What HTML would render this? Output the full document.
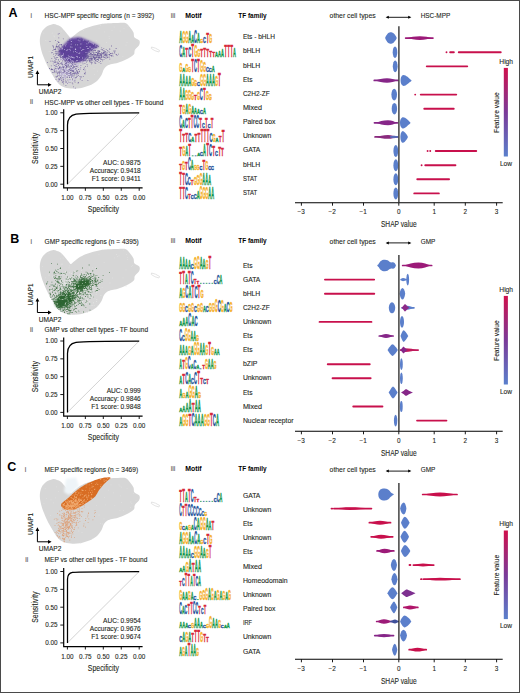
<!DOCTYPE html>
<html><head><meta charset="utf-8"><style>
html,body{margin:0;padding:0;background:#fff;}
#fig{position:relative;width:520px;height:693px;overflow:hidden;box-sizing:border-box;border:1px solid #4a4a4a;background:#fff;}
#fig svg{position:absolute;left:-1px;top:-1px;}
</style></head><body><div id="fig">
<svg width="520" height="693" viewBox="0 0 520 693" font-family="Liberation Sans, sans-serif">
<path d="M52.5,24.2C54.3,23.8 55.7,24.5 57.0,24.9C58.3,25.3 59.3,25.5 60.5,26.4C61.7,27.3 63.1,29.0 64.4,30.5C65.7,32.0 67.2,34.0 68.3,35.3C69.4,36.5 69.8,38.0 70.8,38.0C71.8,38.0 72.7,36.6 74.0,35.6C75.3,34.6 76.9,33.0 78.8,31.8C80.7,30.6 83.2,29.3 85.6,28.3C88.0,27.3 90.9,26.5 93.3,25.8C95.7,25.1 98.0,24.7 100.0,24.3C102.0,23.9 102.0,23.6 105.0,23.4C108.0,23.2 114.5,22.9 118.0,22.9C121.5,22.9 123.9,22.4 126.0,23.3C128.1,24.2 129.2,26.5 130.5,28.0C131.8,29.5 132.8,30.9 133.5,32.5C134.2,34.1 133.5,36.2 134.5,37.5C135.5,38.8 138.5,39.2 139.3,40.5C140.1,41.8 139.9,43.4 139.2,45.0C138.4,46.6 135.7,48.4 134.8,50.0C133.9,51.6 135.2,53.0 133.8,54.5C132.4,56.0 129.1,57.9 126.5,59.3C123.9,60.7 120.4,61.9 118.0,62.7C115.6,63.5 113.8,63.5 112.0,64.0C110.2,64.5 108.8,64.7 107.5,65.5C106.2,66.3 105.0,67.4 104.0,69.0C103.0,70.6 102.7,73.0 101.5,75.0C100.3,77.0 99.0,79.2 97.0,81.0C95.0,82.8 92.0,84.4 89.2,85.6C86.4,86.8 83.1,87.8 80.0,88.3C76.9,88.8 73.6,88.8 70.8,88.6C68.0,88.3 65.2,87.8 63.0,86.8C60.8,85.8 59.0,84.3 57.3,82.3C55.6,80.3 54.1,77.5 52.6,75.0C51.1,72.5 49.6,70.2 48.2,67.5C46.8,64.8 45.3,61.2 44.2,58.5C43.1,55.8 42.2,53.9 41.5,51.0C40.8,48.1 39.8,44.1 39.8,41.0C39.8,37.9 40.5,34.8 41.5,32.5C42.5,30.2 44.2,28.4 46.0,27.0C47.8,25.6 50.7,24.6 52.5,24.2Z" fill="#d6d6d6"/>
<path d="M151.5,47 l4,1.2 l4,2.2 l-0.6,1.6 l-4,-1.3 l-3.6,-2.2z" fill="none" stroke="#dcdcdc" stroke-width="0.8"/>
<path d="M117.0 54.5h0.8v0.8h-0.8zM63.4 56.4h0.8v0.8h-0.8zM96.1 40.2h0.8v0.8h-0.8zM66.5 48.1h0.8v0.8h-0.8zM123.6 28.3h0.8v0.8h-0.8zM92.7 41.4h0.8v0.8h-0.8zM52.0 51.2h0.8v0.8h-0.8zM53.9 36.4h0.8v0.8h-0.8zM56.9 65.2h0.8v0.8h-0.8zM78.0 59.4h0.8v0.8h-0.8zM100.1 25.0h0.8v0.8h-0.8zM94.1 74.3h0.8v0.8h-0.8zM53.7 35.6h0.8v0.8h-0.8zM125.6 44.8h0.8v0.8h-0.8zM119.8 30.8h0.8v0.8h-0.8zM93.3 57.6h0.8v0.8h-0.8zM111.6 30.3h0.8v0.8h-0.8zM108.8 36.3h0.8v0.8h-0.8zM93.6 68.2h0.8v0.8h-0.8zM113.9 54.8h0.8v0.8h-0.8zM109.0 60.8h0.8v0.8h-0.8zM134.4 50.5h0.8v0.8h-0.8zM45.3 40.2h0.8v0.8h-0.8zM43.4 32.8h0.8v0.8h-0.8zM65.5 83.9h0.8v0.8h-0.8zM97.1 70.8h0.8v0.8h-0.8zM126.6 41.9h0.8v0.8h-0.8zM127.5 26.0h0.8v0.8h-0.8zM83.2 30.3h0.8v0.8h-0.8zM76.9 64.3h0.8v0.8h-0.8zM48.8 51.1h0.8v0.8h-0.8zM89.6 55.1h0.8v0.8h-0.8zM106.1 42.0h0.8v0.8h-0.8zM74.8 65.0h0.8v0.8h-0.8zM83.8 68.7h0.8v0.8h-0.8zM64.0 49.6h0.8v0.8h-0.8zM122.4 56.2h0.8v0.8h-0.8zM138.7 40.8h0.8v0.8h-0.8zM94.2 57.8h0.8v0.8h-0.8zM77.5 65.0h0.8v0.8h-0.8zM110.3 49.9h0.8v0.8h-0.8zM88.6 44.0h0.8v0.8h-0.8zM98.7 28.3h0.8v0.8h-0.8zM74.5 55.3h0.8v0.8h-0.8zM119.3 48.6h0.8v0.8h-0.8zM89.5 45.0h0.8v0.8h-0.8zM75.6 51.6h0.8v0.8h-0.8zM51.9 32.8h0.8v0.8h-0.8zM108.9 37.9h0.8v0.8h-0.8zM113.8 26.8h0.8v0.8h-0.8zM57.7 58.0h0.8v0.8h-0.8zM87.1 69.5h0.8v0.8h-0.8zM88.0 79.0h0.8v0.8h-0.8zM61.2 68.7h0.8v0.8h-0.8zM60.8 30.7h0.8v0.8h-0.8zM51.0 53.1h0.8v0.8h-0.8zM104.3 31.5h0.8v0.8h-0.8zM46.7 40.5h0.8v0.8h-0.8zM72.5 74.4h0.8v0.8h-0.8zM74.7 51.5h0.8v0.8h-0.8z" fill="#e0e0e0"/>
<defs><filter id="blA" x="-20%" y="-20%" width="140%" height="140%"><feGaussianBlur stdDeviation="0.9"/></filter><filter id="blAs" x="-5%" y="-5%" width="110%" height="110%"><feGaussianBlur stdDeviation="0.28"/></filter></defs>
<path d="M69.2,39.4C70.0,38.8 70.9,38.5 72.0,38.3C73.1,38.1 78.4,37.2 80.0,37.4C81.6,37.6 86.1,39.6 88.0,40.5C89.9,41.4 98.7,45.1 98.8,46.2C98.9,47.3 90.7,50.2 89.4,51.5C88.1,52.8 86.5,58.5 85.4,59.6C84.3,60.7 80.2,62.0 78.6,62.3C77.0,62.6 70.7,62.6 69.2,62.3C67.7,62.0 64.7,59.8 63.8,59.0C62.9,58.2 60.3,55.0 59.8,54.2C59.3,53.5 58.1,52.4 58.5,51.5C58.9,50.6 62.7,46.0 63.8,44.8C64.9,43.6 68.4,40.0 69.2,39.4Z" fill="#5e3e9e" fill-opacity="0.97" filter="url(#blA)"/>
<g filter="url(#blAs)"><path d="M78.3 42.9h0.8v0.8h-0.8zM91.2 42.2h0.8v0.8h-0.8zM88.3 49.8h0.8v0.8h-0.8zM77.9 43.4h0.8v0.8h-0.8zM85.6 46.6h0.8v0.8h-0.8zM86.8 51.1h0.8v0.8h-0.8zM78.3 53.1h0.8v0.8h-0.8zM71.7 56.6h0.8v0.8h-0.8zM77.4 44.4h0.8v0.8h-0.8zM77.6 60.9h0.8v0.8h-0.8zM83.4 55.2h0.8v0.8h-0.8zM71.2 42.3h0.8v0.8h-0.8zM77.2 59.7h0.8v0.8h-0.8zM88.5 51.4h0.8v0.8h-0.8zM71.6 38.5h0.8v0.8h-0.8zM78.0 43.4h0.8v0.8h-0.8zM74.9 42.7h0.8v0.8h-0.8zM71.7 59.8h0.8v0.8h-0.8zM90.2 44.3h0.8v0.8h-0.8zM71.1 48.6h0.8v0.8h-0.8zM84.7 41.1h0.8v0.8h-0.8zM83.6 57.4h0.8v0.8h-0.8zM73.3 44.2h0.8v0.8h-0.8zM67.0 44.9h0.8v0.8h-0.8zM66.8 54.1h0.8v0.8h-0.8zM68.2 50.6h0.8v0.8h-0.8zM65.5 52.4h0.8v0.8h-0.8zM73.7 49.0h0.8v0.8h-0.8zM61.0 53.8h0.8v0.8h-0.8zM72.6 46.2h0.8v0.8h-0.8zM79.5 52.7h0.8v0.8h-0.8zM66.2 43.5h0.8v0.8h-0.8zM81.5 40.5h0.8v0.8h-0.8zM80.7 42.3h0.8v0.8h-0.8zM64.4 46.0h0.8v0.8h-0.8zM64.5 47.4h0.8v0.8h-0.8zM73.1 52.6h0.8v0.8h-0.8zM77.1 56.2h0.8v0.8h-0.8zM74.6 48.9h0.8v0.8h-0.8zM68.3 57.1h0.8v0.8h-0.8zM75.2 59.0h0.8v0.8h-0.8zM74.4 55.7h0.8v0.8h-0.8zM77.0 43.1h0.8v0.8h-0.8zM79.2 49.0h0.8v0.8h-0.8zM78.5 55.6h0.8v0.8h-0.8zM65.7 48.2h0.8v0.8h-0.8zM74.1 56.9h0.8v0.8h-0.8zM79.5 52.6h0.8v0.8h-0.8zM71.0 42.6h0.8v0.8h-0.8zM94.6 47.3h0.8v0.8h-0.8zM77.6 45.2h0.8v0.8h-0.8zM74.3 50.6h0.8v0.8h-0.8zM61.6 55.0h0.8v0.8h-0.8zM80.8 57.5h0.8v0.8h-0.8zM83.7 51.9h0.8v0.8h-0.8zM68.9 56.8h0.8v0.8h-0.8zM70.8 49.5h0.8v0.8h-0.8zM91.1 49.4h0.8v0.8h-0.8zM83.4 42.8h0.8v0.8h-0.8zM67.3 51.4h0.8v0.8h-0.8zM64.5 53.4h0.8v0.8h-0.8zM76.8 46.3h0.8v0.8h-0.8zM84.0 55.3h0.8v0.8h-0.8zM74.1 44.4h0.8v0.8h-0.8zM76.4 47.8h0.8v0.8h-0.8zM95.4 45.6h0.8v0.8h-0.8zM68.7 57.8h0.8v0.8h-0.8zM63.3 48.6h0.8v0.8h-0.8zM88.8 45.4h0.8v0.8h-0.8zM90.1 47.4h0.8v0.8h-0.8zM69.9 42.9h0.8v0.8h-0.8zM77.7 60.4h0.8v0.8h-0.8zM86.0 47.2h0.8v0.8h-0.8zM71.4 53.2h0.8v0.8h-0.8zM63.4 57.5h0.8v0.8h-0.8zM92.5 46.0h0.8v0.8h-0.8zM73.7 43.3h0.8v0.8h-0.8zM85.7 44.6h0.8v0.8h-0.8zM82.8 50.6h0.8v0.8h-0.8zM70.7 42.3h0.8v0.8h-0.8zM77.6 38.3h0.8v0.8h-0.8zM70.3 46.7h0.8v0.8h-0.8zM94.1 44.0h0.8v0.8h-0.8zM66.9 48.0h0.8v0.8h-0.8zM81.5 40.5h0.8v0.8h-0.8zM74.8 58.9h0.8v0.8h-0.8zM94.3 45.4h0.8v0.8h-0.8zM73.8 51.6h0.8v0.8h-0.8zM77.4 45.1h0.8v0.8h-0.8zM83.3 48.5h0.8v0.8h-0.8zM75.3 45.9h0.8v0.8h-0.8zM67.8 56.6h0.8v0.8h-0.8zM87.4 46.8h0.8v0.8h-0.8zM70.1 56.7h0.8v0.8h-0.8zM96.2 46.9h0.8v0.8h-0.8zM65.8 47.5h0.8v0.8h-0.8zM77.6 45.4h0.8v0.8h-0.8zM80.7 41.3h0.8v0.8h-0.8zM70.3 47.3h0.8v0.8h-0.8zM65.5 58.4h0.8v0.8h-0.8zM82.2 58.0h0.8v0.8h-0.8zM67.5 41.2h0.8v0.8h-0.8zM79.8 42.5h0.8v0.8h-0.8zM81.8 50.8h0.8v0.8h-0.8zM83.5 45.3h0.8v0.8h-0.8zM83.4 50.2h0.8v0.8h-0.8zM86.9 55.0h0.8v0.8h-0.8zM74.4 46.4h0.8v0.8h-0.8zM69.9 53.6h0.8v0.8h-0.8zM67.8 47.9h0.8v0.8h-0.8zM81.4 48.9h0.8v0.8h-0.8zM84.0 44.8h0.8v0.8h-0.8zM72.7 59.9h0.8v0.8h-0.8zM94.1 45.3h0.8v0.8h-0.8zM67.7 57.7h0.8v0.8h-0.8zM93.0 48.6h0.8v0.8h-0.8zM87.4 49.2h0.8v0.8h-0.8zM85.5 55.2h0.8v0.8h-0.8zM77.9 48.4h0.8v0.8h-0.8zM67.9 46.8h0.8v0.8h-0.8zM72.3 45.4h0.8v0.8h-0.8zM84.9 58.2h0.8v0.8h-0.8zM68.5 50.4h0.8v0.8h-0.8zM84.3 46.3h0.8v0.8h-0.8zM91.8 44.6h0.8v0.8h-0.8zM75.9 47.1h0.8v0.8h-0.8zM77.9 61.5h0.8v0.8h-0.8zM78.6 55.3h0.8v0.8h-0.8zM65.5 54.8h0.8v0.8h-0.8zM72.8 44.9h0.8v0.8h-0.8zM85.4 41.3h0.8v0.8h-0.8zM66.5 54.5h0.8v0.8h-0.8zM86.8 50.6h0.8v0.8h-0.8zM82.3 38.7h0.8v0.8h-0.8zM66.5 44.2h0.8v0.8h-0.8zM77.4 38.2h0.8v0.8h-0.8zM67.4 58.8h0.8v0.8h-0.8zM77.2 39.1h0.8v0.8h-0.8zM80.1 50.6h0.8v0.8h-0.8zM71.3 43.0h0.8v0.8h-0.8zM81.2 57.5h0.8v0.8h-0.8zM70.4 49.1h0.8v0.8h-0.8zM76.9 38.0h0.8v0.8h-0.8zM90.0 48.6h0.8v0.8h-0.8zM89.1 42.2h0.8v0.8h-0.8zM71.2 48.0h0.8v0.8h-0.8zM77.4 54.7h0.8v0.8h-0.8zM80.7 57.4h0.8v0.8h-0.8zM63.8 58.7h0.8v0.8h-0.8zM63.8 48.9h0.8v0.8h-0.8zM77.4 49.0h0.8v0.8h-0.8zM76.7 49.6h0.8v0.8h-0.8zM73.8 43.2h0.8v0.8h-0.8zM83.2 50.2h0.8v0.8h-0.8zM64.2 58.5h0.8v0.8h-0.8zM88.7 43.4h0.8v0.8h-0.8zM61.5 50.4h0.8v0.8h-0.8zM75.9 45.1h0.8v0.8h-0.8zM76.7 41.9h0.8v0.8h-0.8zM69.1 39.6h0.8v0.8h-0.8zM75.9 57.0h0.8v0.8h-0.8zM86.1 52.4h0.8v0.8h-0.8zM65.3 48.2h0.8v0.8h-0.8zM73.4 54.7h0.8v0.8h-0.8zM75.0 52.1h0.8v0.8h-0.8zM73.3 42.6h0.8v0.8h-0.8zM76.1 43.5h0.8v0.8h-0.8zM64.4 54.1h0.8v0.8h-0.8zM73.4 60.2h0.8v0.8h-0.8zM62.8 50.7h0.8v0.8h-0.8zM64.3 54.8h0.8v0.8h-0.8zM67.6 59.9h0.8v0.8h-0.8zM77.1 47.8h0.8v0.8h-0.8zM74.3 61.9h0.8v0.8h-0.8zM69.4 58.3h0.8v0.8h-0.8zM77.0 61.0h0.8v0.8h-0.8zM67.5 53.1h0.8v0.8h-0.8zM73.2 58.4h0.8v0.8h-0.8zM77.3 55.7h0.8v0.8h-0.8zM87.8 41.8h0.8v0.8h-0.8zM88.2 43.5h0.8v0.8h-0.8zM76.9 41.1h0.8v0.8h-0.8zM85.7 46.9h0.8v0.8h-0.8zM66.7 43.9h0.8v0.8h-0.8zM81.4 38.6h0.8v0.8h-0.8zM72.2 50.3h0.8v0.8h-0.8zM81.2 39.7h0.8v0.8h-0.8zM73.0 45.7h0.8v0.8h-0.8zM89.0 52.0h0.8v0.8h-0.8zM63.6 49.4h0.8v0.8h-0.8zM80.2 57.4h0.8v0.8h-0.8zM62.7 48.7h0.8v0.8h-0.8zM69.8 47.1h0.8v0.8h-0.8zM67.9 47.6h0.8v0.8h-0.8zM94.5 45.5h0.8v0.8h-0.8zM66.5 47.8h0.8v0.8h-0.8zM63.6 50.2h0.8v0.8h-0.8zM93.2 46.0h0.8v0.8h-0.8zM73.7 61.0h0.8v0.8h-0.8zM76.5 59.7h0.8v0.8h-0.8zM66.1 53.2h0.8v0.8h-0.8zM63.0 51.2h0.8v0.8h-0.8zM68.2 57.9h0.8v0.8h-0.8zM78.8 56.0h0.8v0.8h-0.8zM83.7 53.4h0.8v0.8h-0.8zM79.0 44.5h0.8v0.8h-0.8zM79.1 44.4h0.8v0.8h-0.8zM86.6 45.2h0.8v0.8h-0.8zM78.1 51.8h0.8v0.8h-0.8zM87.8 40.5h0.8v0.8h-0.8zM83.0 40.0h0.8v0.8h-0.8zM73.9 41.3h0.8v0.8h-0.8zM85.5 53.1h0.8v0.8h-0.8zM87.5 41.5h0.8v0.8h-0.8zM82.2 48.3h0.8v0.8h-0.8zM75.8 41.7h0.8v0.8h-0.8zM63.5 45.6h0.8v0.8h-0.8zM60.7 49.6h0.8v0.8h-0.8zM90.7 50.3h0.8v0.8h-0.8zM61.2 51.1h0.8v0.8h-0.8zM83.5 48.2h0.8v0.8h-0.8zM74.0 48.5h0.8v0.8h-0.8zM81.8 49.9h0.8v0.8h-0.8zM86.5 41.7h0.8v0.8h-0.8zM75.3 50.8h0.8v0.8h-0.8zM72.0 50.7h0.8v0.8h-0.8zM61.6 50.4h0.8v0.8h-0.8zM83.0 43.1h0.8v0.8h-0.8zM93.1 45.3h0.8v0.8h-0.8zM77.9 46.2h0.8v0.8h-0.8zM63.8 51.2h0.8v0.8h-0.8zM66.4 57.0h0.8v0.8h-0.8zM75.8 60.5h0.8v0.8h-0.8zM72.4 53.0h0.8v0.8h-0.8zM64.5 49.4h0.8v0.8h-0.8zM71.8 44.8h0.8v0.8h-0.8zM79.4 45.6h0.8v0.8h-0.8zM79.6 52.2h0.8v0.8h-0.8zM75.9 57.3h0.8v0.8h-0.8zM64.2 45.7h0.8v0.8h-0.8zM75.4 53.7h0.8v0.8h-0.8zM85.8 50.7h0.8v0.8h-0.8zM75.1 49.8h0.8v0.8h-0.8zM63.5 56.6h0.8v0.8h-0.8zM71.7 42.5h0.8v0.8h-0.8zM88.5 51.2h0.8v0.8h-0.8zM72.1 58.8h0.8v0.8h-0.8zM71.4 44.3h0.8v0.8h-0.8zM77.8 44.4h0.8v0.8h-0.8zM72.9 40.3h0.8v0.8h-0.8zM80.9 45.7h0.8v0.8h-0.8zM74.9 58.1h0.8v0.8h-0.8zM69.6 52.6h0.8v0.8h-0.8zM87.9 42.9h0.8v0.8h-0.8zM67.1 56.9h0.8v0.8h-0.8zM68.2 48.0h0.8v0.8h-0.8zM72.5 47.1h0.8v0.8h-0.8zM81.1 60.4h0.8v0.8h-0.8zM82.1 47.4h0.8v0.8h-0.8zM77.2 40.0h0.8v0.8h-0.8zM80.9 48.5h0.8v0.8h-0.8zM65.9 48.6h0.8v0.8h-0.8zM61.4 51.7h0.8v0.8h-0.8zM88.0 46.1h0.8v0.8h-0.8zM84.2 46.3h0.8v0.8h-0.8zM83.3 44.7h0.8v0.8h-0.8zM81.6 57.1h0.8v0.8h-0.8zM73.0 58.3h0.8v0.8h-0.8zM59.9 50.5h0.8v0.8h-0.8zM76.1 44.3h0.8v0.8h-0.8zM69.1 59.9h0.8v0.8h-0.8zM59.8 52.9h0.8v0.8h-0.8zM89.9 43.1h0.8v0.8h-0.8zM68.7 41.2h0.8v0.8h-0.8zM72.2 48.2h0.8v0.8h-0.8zM80.7 37.8h0.8v0.8h-0.8zM79.9 52.0h0.8v0.8h-0.8zM84.4 53.7h0.8v0.8h-0.8zM71.4 49.5h0.8v0.8h-0.8zM90.9 49.8h0.8v0.8h-0.8zM74.0 52.6h0.8v0.8h-0.8zM84.9 51.2h0.8v0.8h-0.8zM80.2 46.3h0.8v0.8h-0.8zM68.5 50.1h0.8v0.8h-0.8zM62.2 55.9h0.8v0.8h-0.8zM75.9 52.4h0.8v0.8h-0.8zM64.7 51.1h0.8v0.8h-0.8zM78.0 54.0h0.8v0.8h-0.8zM84.1 52.7h0.8v0.8h-0.8zM63.9 47.7h0.8v0.8h-0.8zM67.7 50.0h0.8v0.8h-0.8zM68.2 57.7h0.8v0.8h-0.8zM87.3 43.3h0.8v0.8h-0.8zM70.3 45.6h0.8v0.8h-0.8zM60.3 54.7h0.8v0.8h-0.8zM73.5 46.5h0.8v0.8h-0.8zM75.2 58.0h0.8v0.8h-0.8zM75.9 58.8h0.8v0.8h-0.8zM74.5 45.3h0.8v0.8h-0.8zM81.8 54.9h0.8v0.8h-0.8zM79.8 54.3h0.8v0.8h-0.8zM82.9 59.5h0.8v0.8h-0.8zM78.8 57.8h0.8v0.8h-0.8zM79.9 40.2h0.8v0.8h-0.8zM76.3 58.8h0.8v0.8h-0.8zM95.6 47.1h0.8v0.8h-0.8zM66.8 58.7h0.8v0.8h-0.8zM93.3 45.0h0.8v0.8h-0.8zM68.9 59.1h0.8v0.8h-0.8zM81.4 54.1h0.8v0.8h-0.8zM83.2 45.7h0.8v0.8h-0.8zM79.7 57.3h0.8v0.8h-0.8zM82.3 47.5h0.8v0.8h-0.8zM64.7 47.8h0.8v0.8h-0.8zM85.6 55.6h0.8v0.8h-0.8zM69.8 48.4h0.8v0.8h-0.8zM84.3 40.9h0.8v0.8h-0.8zM80.5 44.3h0.8v0.8h-0.8zM65.8 56.3h0.8v0.8h-0.8zM73.2 56.2h0.8v0.8h-0.8zM86.0 44.6h0.8v0.8h-0.8zM95.4 47.0h0.8v0.8h-0.8zM76.8 44.0h0.8v0.8h-0.8zM74.7 44.6h0.8v0.8h-0.8zM79.3 39.2h0.8v0.8h-0.8zM62.5 47.2h0.8v0.8h-0.8zM69.8 41.6h0.8v0.8h-0.8zM67.7 40.9h0.8v0.8h-0.8zM83.9 40.4h0.8v0.8h-0.8zM79.4 49.6h0.8v0.8h-0.8zM68.7 52.2h0.8v0.8h-0.8zM81.4 53.8h0.8v0.8h-0.8zM80.2 46.8h0.8v0.8h-0.8zM74.1 43.8h0.8v0.8h-0.8zM81.6 49.1h0.8v0.8h-0.8zM78.1 38.4h0.8v0.8h-0.8zM84.6 53.3h0.8v0.8h-0.8zM64.4 45.8h0.8v0.8h-0.8zM72.4 47.1h0.8v0.8h-0.8zM90.0 45.7h0.8v0.8h-0.8zM67.3 51.5h0.8v0.8h-0.8zM79.7 43.2h0.8v0.8h-0.8zM86.4 46.8h0.8v0.8h-0.8zM64.5 53.8h0.8v0.8h-0.8zM83.8 41.4h0.8v0.8h-0.8zM78.3 51.2h0.8v0.8h-0.8zM79.3 52.4h0.8v0.8h-0.8zM97.3 45.4h0.8v0.8h-0.8zM98.2 46.3h0.8v0.8h-0.8zM85.4 44.8h0.8v0.8h-0.8zM71.1 50.7h0.8v0.8h-0.8zM82.1 46.1h0.8v0.8h-0.8zM70.0 53.5h0.8v0.8h-0.8zM68.0 55.3h0.8v0.8h-0.8zM67.0 58.6h0.8v0.8h-0.8zM66.5 56.5h0.8v0.8h-0.8zM88.0 46.8h0.8v0.8h-0.8zM69.3 60.9h0.8v0.8h-0.8zM84.6 43.2h0.8v0.8h-0.8zM76.7 62.1h0.8v0.8h-0.8zM77.3 56.5h0.8v0.8h-0.8zM61.8 50.0h0.8v0.8h-0.8zM85.8 53.7h0.8v0.8h-0.8zM74.7 52.9h0.8v0.8h-0.8zM69.2 41.1h0.8v0.8h-0.8zM73.7 47.1h0.8v0.8h-0.8zM75.9 58.6h0.8v0.8h-0.8zM82.0 46.6h0.8v0.8h-0.8zM80.6 57.7h0.8v0.8h-0.8zM65.9 47.7h0.8v0.8h-0.8zM74.9 52.5h0.8v0.8h-0.8zM75.7 44.3h0.8v0.8h-0.8zM90.0 45.7h0.8v0.8h-0.8zM91.2 45.0h0.8v0.8h-0.8zM84.2 50.2h0.8v0.8h-0.8zM78.6 61.3h0.8v0.8h-0.8zM81.5 54.3h0.8v0.8h-0.8zM79.4 40.5h0.8v0.8h-0.8zM78.4 39.0h0.8v0.8h-0.8zM70.0 58.5h0.8v0.8h-0.8zM78.7 49.8h0.8v0.8h-0.8zM87.8 48.6h0.8v0.8h-0.8zM64.0 52.6h0.8v0.8h-0.8zM61.7 54.2h0.8v0.8h-0.8zM81.9 44.7h0.8v0.8h-0.8zM73.9 57.0h0.8v0.8h-0.8zM69.9 60.3h0.8v0.8h-0.8zM73.4 47.1h0.8v0.8h-0.8zM96.4 45.2h0.8v0.8h-0.8zM89.3 47.5h0.8v0.8h-0.8zM70.1 61.0h0.8v0.8h-0.8zM87.8 42.2h0.8v0.8h-0.8zM87.3 48.4h0.8v0.8h-0.8zM65.2 47.3h0.8v0.8h-0.8zM86.1 50.2h0.8v0.8h-0.8zM71.6 52.3h0.8v0.8h-0.8zM81.9 45.7h0.8v0.8h-0.8zM68.2 53.1h0.8v0.8h-0.8zM92.4 49.5h0.8v0.8h-0.8zM71.2 40.3h0.8v0.8h-0.8zM61.7 77.4h0.8v0.8h-0.8zM71.5 68.4h0.8v0.8h-0.8zM71.6 74.2h0.8v0.8h-0.8zM72.3 78.5h0.8v0.8h-0.8zM67.3 75.8h0.8v0.8h-0.8zM69.6 82.2h0.8v0.8h-0.8zM56.5 61.7h0.8v0.8h-0.8zM79.1 71.6h0.8v0.8h-0.8zM53.7 65.0h0.8v0.8h-0.8zM74.9 60.0h0.8v0.8h-0.8zM63.4 74.8h0.8v0.8h-0.8zM63.2 69.2h0.8v0.8h-0.8zM77.6 66.6h0.8v0.8h-0.8zM57.5 61.8h0.8v0.8h-0.8zM60.3 69.1h0.8v0.8h-0.8zM81.7 80.2h0.8v0.8h-0.8zM74.7 81.8h0.8v0.8h-0.8zM64.6 63.4h0.8v0.8h-0.8zM63.9 58.1h0.8v0.8h-0.8zM62.8 80.5h0.8v0.8h-0.8zM67.2 71.8h0.8v0.8h-0.8zM59.5 74.2h0.8v0.8h-0.8zM58.8 72.7h0.8v0.8h-0.8zM60.2 63.2h0.8v0.8h-0.8zM68.7 75.5h0.8v0.8h-0.8zM60.8 72.7h0.8v0.8h-0.8zM70.1 66.3h0.8v0.8h-0.8zM64.6 63.8h0.8v0.8h-0.8zM61.3 63.5h0.8v0.8h-0.8zM72.1 64.2h0.8v0.8h-0.8zM75.4 72.7h0.8v0.8h-0.8zM59.1 66.2h0.8v0.8h-0.8zM77.1 72.1h0.8v0.8h-0.8zM68.6 71.4h0.8v0.8h-0.8zM68.3 61.6h0.8v0.8h-0.8zM65.3 80.4h0.8v0.8h-0.8zM61.3 67.3h0.8v0.8h-0.8zM72.5 73.0h0.8v0.8h-0.8zM71.2 70.4h0.8v0.8h-0.8zM82.9 76.0h0.8v0.8h-0.8zM73.7 73.7h0.8v0.8h-0.8zM73.3 65.8h0.8v0.8h-0.8zM66.2 62.6h0.8v0.8h-0.8zM72.1 67.3h0.8v0.8h-0.8zM54.0 65.3h0.8v0.8h-0.8zM57.8 62.8h0.8v0.8h-0.8zM77.0 73.5h0.8v0.8h-0.8zM60.9 70.7h0.8v0.8h-0.8zM69.1 76.4h0.8v0.8h-0.8zM61.5 74.6h0.8v0.8h-0.8zM70.9 77.0h0.8v0.8h-0.8zM65.9 67.0h0.8v0.8h-0.8zM64.7 71.8h0.8v0.8h-0.8zM68.1 64.2h0.8v0.8h-0.8zM58.2 68.6h0.8v0.8h-0.8zM67.5 79.6h0.8v0.8h-0.8zM65.2 68.4h0.8v0.8h-0.8zM60.9 55.5h0.8v0.8h-0.8zM70.3 72.6h0.8v0.8h-0.8zM70.6 72.1h0.8v0.8h-0.8zM71.1 63.8h0.8v0.8h-0.8zM69.4 74.4h0.8v0.8h-0.8zM68.5 71.0h0.8v0.8h-0.8zM51.6 69.1h0.8v0.8h-0.8zM74.9 87.8h0.8v0.8h-0.8zM59.0 66.8h0.8v0.8h-0.8zM65.5 62.0h0.8v0.8h-0.8zM65.6 64.9h0.8v0.8h-0.8zM55.5 76.5h0.8v0.8h-0.8zM62.8 80.4h0.8v0.8h-0.8zM57.3 63.3h0.8v0.8h-0.8zM69.7 68.0h0.8v0.8h-0.8zM69.7 75.1h0.8v0.8h-0.8zM57.6 80.9h0.8v0.8h-0.8zM71.3 76.4h0.8v0.8h-0.8zM54.8 60.7h0.8v0.8h-0.8zM72.1 79.5h0.8v0.8h-0.8zM65.7 64.7h0.8v0.8h-0.8zM73.3 66.4h0.8v0.8h-0.8zM68.6 58.4h0.8v0.8h-0.8zM59.5 70.5h0.8v0.8h-0.8zM56.9 72.7h0.8v0.8h-0.8zM70.3 70.0h0.8v0.8h-0.8zM66.9 61.8h0.8v0.8h-0.8zM54.5 71.7h0.8v0.8h-0.8zM75.4 66.5h0.8v0.8h-0.8zM66.8 71.8h0.8v0.8h-0.8zM70.4 75.0h0.8v0.8h-0.8zM75.3 77.7h0.8v0.8h-0.8zM72.0 62.1h0.8v0.8h-0.8zM71.0 74.8h0.8v0.8h-0.8zM50.4 60.7h0.8v0.8h-0.8zM69.8 72.2h0.8v0.8h-0.8zM64.9 75.6h0.8v0.8h-0.8zM60.8 78.4h0.8v0.8h-0.8zM68.6 70.4h0.8v0.8h-0.8zM75.5 63.9h0.8v0.8h-0.8zM67.3 66.5h0.8v0.8h-0.8zM58.0 75.2h0.8v0.8h-0.8zM67.8 73.1h0.8v0.8h-0.8zM78.2 64.8h0.8v0.8h-0.8zM64.8 55.5h0.8v0.8h-0.8zM67.3 65.5h0.8v0.8h-0.8zM65.1 71.3h0.8v0.8h-0.8zM61.0 73.5h0.8v0.8h-0.8zM67.3 60.9h0.8v0.8h-0.8zM62.9 71.9h0.8v0.8h-0.8zM68.3 66.4h0.8v0.8h-0.8zM52.4 69.0h0.8v0.8h-0.8zM72.0 52.1h0.8v0.8h-0.8zM69.6 67.3h0.8v0.8h-0.8zM55.9 65.7h0.8v0.8h-0.8zM76.3 72.9h0.8v0.8h-0.8zM61.9 77.3h0.8v0.8h-0.8zM66.3 70.3h0.8v0.8h-0.8zM65.0 69.7h0.8v0.8h-0.8zM70.8 65.1h0.8v0.8h-0.8zM57.3 68.5h0.8v0.8h-0.8zM74.7 79.8h0.8v0.8h-0.8zM71.3 65.5h0.8v0.8h-0.8zM70.4 68.2h0.8v0.8h-0.8zM53.6 56.0h0.8v0.8h-0.8zM59.2 73.0h0.8v0.8h-0.8zM51.4 58.2h0.8v0.8h-0.8zM80.6 77.3h0.8v0.8h-0.8zM66.4 64.3h0.8v0.8h-0.8zM54.0 65.0h0.8v0.8h-0.8zM67.5 61.7h0.8v0.8h-0.8zM54.5 62.3h0.8v0.8h-0.8zM54.0 71.0h0.8v0.8h-0.8zM62.7 82.2h0.8v0.8h-0.8zM62.8 65.8h0.8v0.8h-0.8zM73.1 70.6h0.8v0.8h-0.8zM76.4 64.2h0.8v0.8h-0.8zM76.3 68.0h0.8v0.8h-0.8zM60.7 57.1h0.8v0.8h-0.8zM73.1 61.7h0.8v0.8h-0.8zM73.4 64.8h0.8v0.8h-0.8zM69.9 80.1h0.8v0.8h-0.8zM87.5 80.0h0.8v0.8h-0.8zM58.9 78.6h0.8v0.8h-0.8zM76.7 64.9h0.8v0.8h-0.8zM59.7 67.9h0.8v0.8h-0.8zM84.7 72.7h0.8v0.8h-0.8zM57.3 63.0h0.8v0.8h-0.8zM59.5 67.4h0.8v0.8h-0.8zM62.4 61.4h0.8v0.8h-0.8zM68.4 62.4h0.8v0.8h-0.8zM57.3 57.0h0.8v0.8h-0.8zM71.0 68.7h0.8v0.8h-0.8zM56.8 72.2h0.8v0.8h-0.8zM76.4 69.9h0.8v0.8h-0.8zM67.5 66.8h0.8v0.8h-0.8zM71.9 63.7h0.8v0.8h-0.8zM55.6 51.7h0.8v0.8h-0.8zM61.1 58.6h0.8v0.8h-0.8zM74.9 73.1h0.8v0.8h-0.8zM79.9 68.8h0.8v0.8h-0.8zM59.2 60.9h0.8v0.8h-0.8zM76.4 72.0h0.8v0.8h-0.8zM83.1 69.1h0.8v0.8h-0.8zM73.7 69.5h0.8v0.8h-0.8zM75.7 74.4h0.8v0.8h-0.8zM78.3 61.3h0.8v0.8h-0.8zM75.8 65.9h0.8v0.8h-0.8zM66.3 72.1h0.8v0.8h-0.8zM72.7 57.1h0.8v0.8h-0.8zM74.3 56.3h0.8v0.8h-0.8zM59.9 54.8h0.8v0.8h-0.8zM61.0 68.5h0.8v0.8h-0.8zM67.0 76.9h0.8v0.8h-0.8zM70.5 74.6h0.8v0.8h-0.8zM67.8 73.5h0.8v0.8h-0.8zM69.7 67.9h0.8v0.8h-0.8zM72.6 69.4h0.8v0.8h-0.8zM70.2 73.2h0.8v0.8h-0.8zM74.6 77.4h0.8v0.8h-0.8zM62.0 67.0h0.8v0.8h-0.8zM79.6 59.5h0.8v0.8h-0.8zM62.9 77.8h0.8v0.8h-0.8zM72.5 67.5h0.8v0.8h-0.8zM80.7 76.3h0.8v0.8h-0.8zM72.5 75.6h0.8v0.8h-0.8zM78.9 59.7h0.8v0.8h-0.8zM57.5 68.1h0.8v0.8h-0.8zM62.1 59.7h0.8v0.8h-0.8zM60.4 74.9h0.8v0.8h-0.8zM69.8 68.5h0.8v0.8h-0.8zM64.3 58.0h0.8v0.8h-0.8zM68.2 59.4h0.8v0.8h-0.8zM53.8 70.1h0.8v0.8h-0.8zM66.2 73.6h0.8v0.8h-0.8zM78.9 70.8h0.8v0.8h-0.8zM74.1 66.4h0.8v0.8h-0.8zM67.4 70.4h0.8v0.8h-0.8zM68.8 73.4h0.8v0.8h-0.8zM63.5 66.2h0.8v0.8h-0.8zM65.0 65.0h0.8v0.8h-0.8zM68.2 62.1h0.8v0.8h-0.8zM67.4 70.1h0.8v0.8h-0.8zM55.5 68.2h0.8v0.8h-0.8zM68.9 69.1h0.8v0.8h-0.8zM70.6 71.8h0.8v0.8h-0.8zM59.9 71.6h0.8v0.8h-0.8zM78.1 69.2h0.8v0.8h-0.8zM72.2 71.3h0.8v0.8h-0.8zM73.8 73.9h0.8v0.8h-0.8zM65.3 62.7h0.8v0.8h-0.8zM72.5 70.5h0.8v0.8h-0.8zM76.5 76.2h0.8v0.8h-0.8zM64.0 72.0h0.8v0.8h-0.8zM70.3 74.2h0.8v0.8h-0.8zM66.3 62.6h0.8v0.8h-0.8zM50.8 69.1h0.8v0.8h-0.8zM56.1 63.7h0.8v0.8h-0.8zM58.3 72.0h0.8v0.8h-0.8zM67.4 61.7h0.8v0.8h-0.8zM59.7 70.6h0.8v0.8h-0.8zM75.6 68.0h0.8v0.8h-0.8zM66.6 62.4h0.8v0.8h-0.8zM69.6 79.0h0.8v0.8h-0.8zM73.7 69.8h0.8v0.8h-0.8zM64.2 71.2h0.8v0.8h-0.8zM53.4 71.9h0.8v0.8h-0.8zM57.0 74.8h0.8v0.8h-0.8zM66.4 63.5h0.8v0.8h-0.8zM64.6 60.9h0.8v0.8h-0.8zM61.3 67.5h0.8v0.8h-0.8zM63.4 54.3h0.8v0.8h-0.8zM74.5 72.0h0.8v0.8h-0.8zM63.3 81.2h0.8v0.8h-0.8zM62.4 65.5h0.8v0.8h-0.8zM73.2 67.2h0.8v0.8h-0.8zM64.8 69.9h0.8v0.8h-0.8zM55.0 65.6h0.8v0.8h-0.8zM65.9 70.8h0.8v0.8h-0.8zM58.8 63.7h0.8v0.8h-0.8zM63.4 66.7h0.8v0.8h-0.8zM69.7 56.2h0.8v0.8h-0.8zM63.3 76.4h0.8v0.8h-0.8zM54.6 67.7h0.8v0.8h-0.8zM69.3 69.5h0.8v0.8h-0.8zM66.3 65.1h0.8v0.8h-0.8zM67.9 59.7h0.8v0.8h-0.8zM74.0 64.2h0.8v0.8h-0.8zM65.3 61.4h0.8v0.8h-0.8zM64.8 65.1h0.8v0.8h-0.8zM76.1 69.8h0.8v0.8h-0.8zM59.1 68.0h0.8v0.8h-0.8zM62.0 64.2h0.8v0.8h-0.8zM75.3 69.2h0.8v0.8h-0.8zM72.8 68.5h0.8v0.8h-0.8zM78.3 68.9h0.8v0.8h-0.8zM72.2 70.2h0.8v0.8h-0.8zM73.4 72.4h0.8v0.8h-0.8zM54.4 69.6h0.8v0.8h-0.8zM56.1 76.8h0.8v0.8h-0.8zM75.0 71.7h0.8v0.8h-0.8zM47.0 62.3h0.8v0.8h-0.8zM74.6 58.5h0.8v0.8h-0.8zM65.8 63.2h0.8v0.8h-0.8zM77.5 73.4h0.8v0.8h-0.8zM61.6 62.5h0.8v0.8h-0.8zM78.1 81.9h0.8v0.8h-0.8zM76.7 62.0h0.8v0.8h-0.8zM61.3 68.7h0.8v0.8h-0.8zM69.3 73.9h0.8v0.8h-0.8zM71.0 64.9h0.8v0.8h-0.8zM57.4 72.9h0.8v0.8h-0.8zM64.3 60.0h0.8v0.8h-0.8zM66.1 73.9h0.8v0.8h-0.8zM77.7 82.6h0.8v0.8h-0.8zM69.7 79.9h0.8v0.8h-0.8zM66.1 67.6h0.8v0.8h-0.8zM65.4 63.4h0.8v0.8h-0.8zM71.7 73.5h0.8v0.8h-0.8zM65.6 67.1h0.8v0.8h-0.8zM65.5 85.2h0.8v0.8h-0.8zM69.8 58.9h0.8v0.8h-0.8zM56.4 66.2h0.8v0.8h-0.8zM62.1 66.1h0.8v0.8h-0.8zM63.2 74.7h0.8v0.8h-0.8zM69.2 69.5h0.8v0.8h-0.8zM62.5 68.8h0.8v0.8h-0.8zM67.2 56.1h0.8v0.8h-0.8zM67.9 81.8h0.8v0.8h-0.8zM69.6 55.9h0.8v0.8h-0.8zM63.0 66.7h0.8v0.8h-0.8zM59.8 69.7h0.8v0.8h-0.8zM63.1 59.5h0.8v0.8h-0.8zM61.1 63.5h0.8v0.8h-0.8zM72.7 56.8h0.8v0.8h-0.8zM65.7 72.8h0.8v0.8h-0.8zM84.5 69.6h0.8v0.8h-0.8zM76.8 71.6h0.8v0.8h-0.8zM70.0 65.5h0.8v0.8h-0.8zM78.2 75.2h0.8v0.8h-0.8zM75.2 68.1h0.8v0.8h-0.8zM62.1 66.4h0.8v0.8h-0.8zM69.2 73.5h0.8v0.8h-0.8zM69.2 74.5h0.8v0.8h-0.8zM65.7 82.1h0.8v0.8h-0.8zM66.0 65.7h0.8v0.8h-0.8zM57.4 63.4h0.8v0.8h-0.8zM73.9 73.3h0.8v0.8h-0.8zM63.6 74.7h0.8v0.8h-0.8zM71.0 65.9h0.8v0.8h-0.8zM72.9 76.9h0.8v0.8h-0.8zM63.1 67.6h0.8v0.8h-0.8zM70.0 67.7h0.8v0.8h-0.8zM63.1 73.2h0.8v0.8h-0.8zM60.9 76.3h0.8v0.8h-0.8zM71.8 82.4h0.8v0.8h-0.8zM59.2 75.4h0.8v0.8h-0.8zM74.8 64.5h0.8v0.8h-0.8zM66.2 74.2h0.8v0.8h-0.8zM76.5 66.0h0.8v0.8h-0.8zM58.1 65.2h0.8v0.8h-0.8zM61.8 62.9h0.8v0.8h-0.8zM60.9 72.5h0.8v0.8h-0.8zM59.5 66.5h0.8v0.8h-0.8zM80.5 64.9h0.8v0.8h-0.8zM60.0 59.5h0.8v0.8h-0.8zM62.2 74.3h0.8v0.8h-0.8zM68.8 55.1h0.8v0.8h-0.8zM71.3 51.5h0.8v0.8h-0.8zM67.4 79.4h0.8v0.8h-0.8zM65.8 76.6h0.8v0.8h-0.8zM59.9 78.2h0.8v0.8h-0.8zM60.5 69.1h0.8v0.8h-0.8zM69.7 62.3h0.8v0.8h-0.8zM70.6 67.7h0.8v0.8h-0.8zM76.1 77.3h0.8v0.8h-0.8zM63.5 72.1h0.8v0.8h-0.8zM59.7 79.3h0.8v0.8h-0.8zM62.0 64.1h0.8v0.8h-0.8zM79.8 68.5h0.8v0.8h-0.8zM76.2 73.7h0.8v0.8h-0.8zM61.1 80.3h0.8v0.8h-0.8zM64.9 69.3h0.8v0.8h-0.8zM76.8 70.7h0.8v0.8h-0.8zM62.3 72.6h0.8v0.8h-0.8zM66.3 58.2h0.8v0.8h-0.8zM71.9 64.7h0.8v0.8h-0.8zM63.9 69.5h0.8v0.8h-0.8zM85.2 66.2h0.8v0.8h-0.8zM72.3 67.9h0.8v0.8h-0.8zM73.1 86.5h0.8v0.8h-0.8zM73.0 67.0h0.8v0.8h-0.8zM61.9 81.6h0.8v0.8h-0.8zM65.5 69.0h0.8v0.8h-0.8zM73.7 57.2h0.8v0.8h-0.8zM68.2 65.0h0.8v0.8h-0.8zM62.0 73.3h0.8v0.8h-0.8zM60.6 67.7h0.8v0.8h-0.8zM66.2 65.0h0.8v0.8h-0.8zM70.9 66.1h0.8v0.8h-0.8zM83.6 58.1h0.8v0.8h-0.8zM64.5 73.1h0.8v0.8h-0.8zM73.0 69.7h0.8v0.8h-0.8zM67.6 69.3h0.8v0.8h-0.8zM60.5 66.8h0.8v0.8h-0.8zM66.3 66.2h0.8v0.8h-0.8zM77.9 71.7h0.8v0.8h-0.8zM71.3 64.9h0.8v0.8h-0.8zM59.1 73.7h0.8v0.8h-0.8zM69.4 67.5h0.8v0.8h-0.8zM52.2 71.9h0.8v0.8h-0.8zM80.3 67.1h0.8v0.8h-0.8zM61.6 79.4h0.8v0.8h-0.8zM67.7 72.2h0.8v0.8h-0.8zM72.4 59.1h0.8v0.8h-0.8zM60.2 67.8h0.8v0.8h-0.8zM74.9 77.3h0.8v0.8h-0.8zM58.3 63.0h0.8v0.8h-0.8zM74.3 66.1h0.8v0.8h-0.8zM71.1 62.8h0.8v0.8h-0.8zM70.8 72.5h0.8v0.8h-0.8zM66.0 72.3h0.8v0.8h-0.8zM73.9 75.4h0.8v0.8h-0.8zM63.8 70.6h0.8v0.8h-0.8zM63.9 62.3h0.8v0.8h-0.8zM57.0 76.3h0.8v0.8h-0.8zM70.7 68.7h0.8v0.8h-0.8zM64.1 71.0h0.8v0.8h-0.8zM76.8 75.8h0.8v0.8h-0.8zM67.1 83.0h0.8v0.8h-0.8zM58.9 71.9h0.8v0.8h-0.8zM69.4 66.0h0.8v0.8h-0.8zM60.0 77.1h0.8v0.8h-0.8zM55.7 67.9h0.8v0.8h-0.8zM64.4 75.6h0.8v0.8h-0.8zM68.7 73.1h0.8v0.8h-0.8zM62.7 70.4h0.8v0.8h-0.8zM66.2 66.1h0.8v0.8h-0.8zM58.1 79.9h0.8v0.8h-0.8zM65.3 73.3h0.8v0.8h-0.8zM72.4 83.4h0.8v0.8h-0.8zM77.9 73.0h0.8v0.8h-0.8zM63.0 69.9h0.8v0.8h-0.8zM68.3 62.3h0.8v0.8h-0.8zM65.0 76.9h0.8v0.8h-0.8zM58.2 78.6h0.8v0.8h-0.8zM70.1 70.3h0.8v0.8h-0.8zM73.6 70.9h0.8v0.8h-0.8zM66.7 57.2h0.8v0.8h-0.8zM54.1 69.3h0.8v0.8h-0.8zM66.2 65.4h0.8v0.8h-0.8zM72.4 62.5h0.8v0.8h-0.8zM73.2 71.3h0.8v0.8h-0.8zM73.4 64.8h0.8v0.8h-0.8zM70.6 61.4h0.8v0.8h-0.8zM80.1 60.0h0.8v0.8h-0.8zM73.4 64.3h0.8v0.8h-0.8zM60.2 58.8h0.8v0.8h-0.8zM83.8 67.6h0.8v0.8h-0.8zM72.4 61.2h0.8v0.8h-0.8zM57.0 66.5h0.8v0.8h-0.8zM64.0 72.2h0.8v0.8h-0.8zM65.9 65.7h0.8v0.8h-0.8zM58.6 71.0h0.8v0.8h-0.8zM53.3 61.4h0.8v0.8h-0.8zM68.5 65.3h0.8v0.8h-0.8zM77.2 71.8h0.8v0.8h-0.8zM67.8 69.3h0.8v0.8h-0.8zM63.1 77.6h0.8v0.8h-0.8zM65.3 76.8h0.8v0.8h-0.8zM67.6 70.8h0.8v0.8h-0.8zM65.7 67.6h0.8v0.8h-0.8zM60.0 69.7h0.8v0.8h-0.8zM66.3 59.7h0.8v0.8h-0.8zM67.5 64.2h0.8v0.8h-0.8zM71.0 69.9h0.8v0.8h-0.8zM77.9 58.4h0.8v0.8h-0.8zM79.5 76.2h0.8v0.8h-0.8zM72.1 69.8h0.8v0.8h-0.8zM72.2 70.1h0.8v0.8h-0.8zM60.6 71.4h0.8v0.8h-0.8zM60.9 62.1h0.8v0.8h-0.8zM58.4 69.2h0.8v0.8h-0.8zM67.5 74.6h0.8v0.8h-0.8zM84.9 71.7h0.8v0.8h-0.8zM66.7 73.5h0.8v0.8h-0.8zM67.7 61.7h0.8v0.8h-0.8zM72.5 75.4h0.8v0.8h-0.8zM67.6 69.6h0.8v0.8h-0.8zM71.5 60.4h0.8v0.8h-0.8zM60.4 57.1h0.8v0.8h-0.8zM65.2 60.2h0.8v0.8h-0.8zM62.1 72.3h0.8v0.8h-0.8zM63.1 83.5h0.8v0.8h-0.8zM67.6 69.6h0.8v0.8h-0.8zM74.4 73.2h0.8v0.8h-0.8zM72.5 75.7h0.8v0.8h-0.8zM60.9 63.7h0.8v0.8h-0.8zM55.7 63.9h0.8v0.8h-0.8zM67.6 61.9h0.8v0.8h-0.8zM55.9 69.8h0.8v0.8h-0.8zM84.0 73.0h0.8v0.8h-0.8zM68.4 61.3h0.8v0.8h-0.8zM73.1 60.5h0.8v0.8h-0.8zM65.4 66.9h0.8v0.8h-0.8zM69.5 63.5h0.8v0.8h-0.8zM74.3 60.8h0.8v0.8h-0.8zM59.4 65.9h0.8v0.8h-0.8zM54.3 60.4h0.8v0.8h-0.8zM63.9 70.6h0.8v0.8h-0.8zM62.7 69.1h0.8v0.8h-0.8zM66.0 71.5h0.8v0.8h-0.8zM66.6 58.0h0.8v0.8h-0.8zM66.2 61.4h0.8v0.8h-0.8zM71.5 69.1h0.8v0.8h-0.8zM68.0 73.0h0.8v0.8h-0.8zM63.1 79.1h0.8v0.8h-0.8zM51.1 69.1h0.8v0.8h-0.8zM79.9 78.6h0.8v0.8h-0.8zM62.5 73.2h0.8v0.8h-0.8zM56.5 71.4h0.8v0.8h-0.8zM79.5 61.6h0.8v0.8h-0.8zM72.8 73.2h0.8v0.8h-0.8zM65.8 66.8h0.8v0.8h-0.8zM49.2 68.1h0.8v0.8h-0.8zM72.8 75.5h0.8v0.8h-0.8zM75.0 77.4h0.8v0.8h-0.8zM67.6 75.1h0.8v0.8h-0.8zM73.8 80.6h0.8v0.8h-0.8zM79.9 61.2h0.8v0.8h-0.8zM73.7 67.1h0.8v0.8h-0.8zM62.3 57.6h0.8v0.8h-0.8zM63.5 67.5h0.8v0.8h-0.8zM67.6 52.4h0.8v0.8h-0.8zM63.7 64.1h0.8v0.8h-0.8zM65.8 69.2h0.8v0.8h-0.8zM66.9 73.6h0.8v0.8h-0.8zM59.1 79.5h0.8v0.8h-0.8zM76.4 71.3h0.8v0.8h-0.8zM50.9 65.5h0.8v0.8h-0.8zM63.8 66.1h0.8v0.8h-0.8zM58.9 67.3h0.8v0.8h-0.8zM52.9 63.5h0.8v0.8h-0.8zM51.1 68.5h0.8v0.8h-0.8zM69.0 77.3h0.8v0.8h-0.8zM71.6 75.1h0.8v0.8h-0.8zM55.6 78.9h0.8v0.8h-0.8zM64.5 68.8h0.8v0.8h-0.8zM69.7 72.9h0.8v0.8h-0.8zM55.6 71.4h0.8v0.8h-0.8zM67.7 72.7h0.8v0.8h-0.8zM63.5 66.0h0.8v0.8h-0.8zM73.7 63.8h0.8v0.8h-0.8zM65.9 70.7h0.8v0.8h-0.8zM57.9 68.1h0.8v0.8h-0.8zM56.6 75.9h0.8v0.8h-0.8zM65.7 80.9h0.8v0.8h-0.8zM67.0 64.0h0.8v0.8h-0.8zM68.2 63.1h0.8v0.8h-0.8zM64.8 78.5h0.8v0.8h-0.8zM71.5 75.6h0.8v0.8h-0.8zM84.6 73.7h0.8v0.8h-0.8zM63.9 76.8h0.8v0.8h-0.8zM104.8 51.0h0.8v0.8h-0.8zM97.6 50.8h0.8v0.8h-0.8zM99.4 51.3h0.8v0.8h-0.8zM94.8 54.0h0.8v0.8h-0.8zM99.5 53.2h0.8v0.8h-0.8zM103.0 52.0h0.8v0.8h-0.8zM83.3 52.9h0.8v0.8h-0.8zM97.5 54.6h0.8v0.8h-0.8zM92.8 57.8h0.8v0.8h-0.8zM93.3 53.3h0.8v0.8h-0.8zM105.8 54.0h0.8v0.8h-0.8zM100.8 49.3h0.8v0.8h-0.8zM91.7 62.5h0.8v0.8h-0.8zM111.1 45.6h0.8v0.8h-0.8zM94.7 53.8h0.8v0.8h-0.8zM97.0 53.7h0.8v0.8h-0.8zM108.6 54.1h0.8v0.8h-0.8zM105.3 54.7h0.8v0.8h-0.8zM94.4 57.6h0.8v0.8h-0.8zM83.5 55.0h0.8v0.8h-0.8zM87.7 57.0h0.8v0.8h-0.8zM95.1 54.1h0.8v0.8h-0.8zM102.2 52.9h0.8v0.8h-0.8zM90.9 53.2h0.8v0.8h-0.8zM83.8 53.9h0.8v0.8h-0.8zM104.7 54.5h0.8v0.8h-0.8zM93.1 53.8h0.8v0.8h-0.8zM102.3 60.4h0.8v0.8h-0.8zM92.4 57.9h0.8v0.8h-0.8zM99.2 50.4h0.8v0.8h-0.8zM80.8 57.0h0.8v0.8h-0.8zM89.5 60.7h0.8v0.8h-0.8zM94.2 53.9h0.8v0.8h-0.8zM97.0 53.7h0.8v0.8h-0.8zM95.1 50.1h0.8v0.8h-0.8zM90.2 56.8h0.8v0.8h-0.8zM88.6 54.5h0.8v0.8h-0.8zM98.3 56.5h0.8v0.8h-0.8zM94.8 51.7h0.8v0.8h-0.8zM98.8 51.3h0.8v0.8h-0.8zM77.1 55.8h0.8v0.8h-0.8zM109.4 49.0h0.8v0.8h-0.8zM90.4 56.5h0.8v0.8h-0.8zM84.5 63.3h0.8v0.8h-0.8zM109.3 48.4h0.8v0.8h-0.8zM92.3 58.3h0.8v0.8h-0.8zM101.9 49.8h0.8v0.8h-0.8zM79.9 55.1h0.8v0.8h-0.8zM91.0 58.7h0.8v0.8h-0.8zM91.5 61.8h0.8v0.8h-0.8zM84.5 60.3h0.8v0.8h-0.8zM103.7 51.0h0.8v0.8h-0.8zM107.2 52.4h0.8v0.8h-0.8zM88.8 60.3h0.8v0.8h-0.8zM81.6 56.5h0.8v0.8h-0.8zM86.2 55.9h0.8v0.8h-0.8zM86.2 53.4h0.8v0.8h-0.8zM98.3 60.0h0.8v0.8h-0.8zM97.8 58.9h0.8v0.8h-0.8zM100.4 59.3h0.8v0.8h-0.8zM86.1 57.6h0.8v0.8h-0.8zM103.9 54.7h0.8v0.8h-0.8zM92.6 54.1h0.8v0.8h-0.8zM97.9 55.0h0.8v0.8h-0.8zM87.1 53.3h0.8v0.8h-0.8zM97.7 54.3h0.8v0.8h-0.8zM111.5 55.3h0.8v0.8h-0.8zM89.7 61.8h0.8v0.8h-0.8zM115.7 48.1h0.8v0.8h-0.8zM101.6 53.4h0.8v0.8h-0.8zM97.7 49.9h0.8v0.8h-0.8zM103.9 51.9h0.8v0.8h-0.8zM98.6 56.8h0.8v0.8h-0.8zM90.8 52.6h0.8v0.8h-0.8zM98.9 56.7h0.8v0.8h-0.8zM98.0 55.4h0.8v0.8h-0.8zM90.7 61.7h0.8v0.8h-0.8zM100.6 57.8h0.8v0.8h-0.8zM83.3 60.1h0.8v0.8h-0.8zM101.2 56.0h0.8v0.8h-0.8zM95.1 54.4h0.8v0.8h-0.8zM97.8 52.1h0.8v0.8h-0.8zM94.6 58.7h0.8v0.8h-0.8zM96.9 54.4h0.8v0.8h-0.8zM101.0 52.3h0.8v0.8h-0.8zM91.3 58.9h0.8v0.8h-0.8zM99.0 56.6h0.8v0.8h-0.8zM98.0 52.9h0.8v0.8h-0.8zM99.4 54.6h0.8v0.8h-0.8zM94.6 61.8h0.8v0.8h-0.8zM95.7 59.4h0.8v0.8h-0.8zM111.9 52.7h0.8v0.8h-0.8zM99.3 57.2h0.8v0.8h-0.8zM93.6 57.2h0.8v0.8h-0.8zM94.0 54.7h0.8v0.8h-0.8zM85.4 58.7h0.8v0.8h-0.8zM117.9 53.7h0.8v0.8h-0.8zM83.4 53.5h0.8v0.8h-0.8zM92.7 56.6h0.8v0.8h-0.8zM91.9 59.3h0.8v0.8h-0.8zM95.8 54.7h0.8v0.8h-0.8zM90.2 58.3h0.8v0.8h-0.8zM97.0 53.7h0.8v0.8h-0.8zM110.7 55.3h0.8v0.8h-0.8zM100.5 53.3h0.8v0.8h-0.8zM87.0 65.7h0.8v0.8h-0.8zM108.9 51.8h0.8v0.8h-0.8zM93.1 56.1h0.8v0.8h-0.8zM94.5 59.2h0.8v0.8h-0.8zM105.6 52.2h0.8v0.8h-0.8zM97.1 52.5h0.8v0.8h-0.8zM106.0 53.5h0.8v0.8h-0.8zM93.0 57.3h0.8v0.8h-0.8zM97.5 51.2h0.8v0.8h-0.8zM100.9 54.7h0.8v0.8h-0.8zM88.6 55.5h0.8v0.8h-0.8zM96.1 57.5h0.8v0.8h-0.8zM104.6 55.1h0.8v0.8h-0.8zM95.5 57.0h0.8v0.8h-0.8zM100.7 53.4h0.8v0.8h-0.8zM96.3 54.6h0.8v0.8h-0.8zM99.6 58.1h0.8v0.8h-0.8zM88.9 58.5h0.8v0.8h-0.8zM96.2 52.0h0.8v0.8h-0.8zM98.7 53.4h0.8v0.8h-0.8zM102.5 52.4h0.8v0.8h-0.8zM103.6 58.9h0.8v0.8h-0.8zM88.6 56.5h0.8v0.8h-0.8zM98.7 51.5h0.8v0.8h-0.8zM95.7 55.1h0.8v0.8h-0.8zM104.7 56.6h0.8v0.8h-0.8zM84.8 58.2h0.8v0.8h-0.8zM93.6 55.5h0.8v0.8h-0.8zM90.3 58.0h0.8v0.8h-0.8zM95.5 56.7h0.8v0.8h-0.8zM89.8 53.5h0.8v0.8h-0.8zM103.2 52.6h0.8v0.8h-0.8zM111.1 55.6h0.8v0.8h-0.8zM93.0 55.5h0.8v0.8h-0.8zM98.6 61.9h0.8v0.8h-0.8zM102.2 49.3h0.8v0.8h-0.8zM84.2 58.0h0.8v0.8h-0.8zM103.8 50.7h0.8v0.8h-0.8zM86.4 55.3h0.8v0.8h-0.8zM91.3 58.1h0.8v0.8h-0.8zM95.2 57.4h0.8v0.8h-0.8zM88.4 58.0h0.8v0.8h-0.8zM87.4 55.9h0.8v0.8h-0.8zM113.5 50.6h0.8v0.8h-0.8zM106.3 55.6h0.8v0.8h-0.8zM88.5 58.9h0.8v0.8h-0.8zM94.9 58.3h0.8v0.8h-0.8zM92.6 56.9h0.8v0.8h-0.8zM92.8 50.2h0.8v0.8h-0.8zM106.6 54.9h0.8v0.8h-0.8zM84.8 55.9h0.8v0.8h-0.8zM98.1 57.1h0.8v0.8h-0.8zM82.6 63.4h0.8v0.8h-0.8zM100.5 62.9h0.8v0.8h-0.8zM98.6 50.8h0.8v0.8h-0.8zM104.7 55.2h0.8v0.8h-0.8zM100.9 59.2h0.8v0.8h-0.8zM90.4 55.5h0.8v0.8h-0.8zM88.4 51.8h0.8v0.8h-0.8zM109.3 54.2h0.8v0.8h-0.8zM92.3 49.1h0.8v0.8h-0.8zM94.0 57.2h0.8v0.8h-0.8zM104.4 54.2h0.8v0.8h-0.8zM95.9 54.6h0.8v0.8h-0.8zM91.5 60.3h0.8v0.8h-0.8zM100.2 60.9h0.8v0.8h-0.8zM110.1 52.9h0.8v0.8h-0.8zM96.2 57.2h0.8v0.8h-0.8zM94.8 54.4h0.8v0.8h-0.8zM102.6 52.8h0.8v0.8h-0.8zM89.9 55.4h0.8v0.8h-0.8zM108.7 55.7h0.8v0.8h-0.8zM97.6 57.2h0.8v0.8h-0.8zM77.6 60.8h0.8v0.8h-0.8zM86.8 54.5h0.8v0.8h-0.8zM85.8 57.8h0.8v0.8h-0.8zM116.2 53.9h0.8v0.8h-0.8zM107.3 57.1h0.8v0.8h-0.8zM98.5 57.4h0.8v0.8h-0.8zM86.9 56.8h0.8v0.8h-0.8zM86.7 64.0h0.8v0.8h-0.8zM92.4 56.2h0.8v0.8h-0.8zM106.9 54.5h0.8v0.8h-0.8zM85.8 59.8h0.8v0.8h-0.8zM86.0 61.8h0.8v0.8h-0.8zM95.0 54.5h0.8v0.8h-0.8zM98.4 56.4h0.8v0.8h-0.8zM95.2 54.7h0.8v0.8h-0.8zM101.3 55.5h0.8v0.8h-0.8zM86.3 58.4h0.8v0.8h-0.8zM85.1 59.4h0.8v0.8h-0.8zM87.9 55.4h0.8v0.8h-0.8zM82.9 56.0h0.8v0.8h-0.8zM97.7 52.7h0.8v0.8h-0.8zM109.1 51.7h0.8v0.8h-0.8zM91.2 57.5h0.8v0.8h-0.8zM93.3 57.1h0.8v0.8h-0.8zM96.2 54.5h0.8v0.8h-0.8zM100.5 54.1h0.8v0.8h-0.8zM95.0 60.3h0.8v0.8h-0.8zM104.7 53.0h0.8v0.8h-0.8zM96.1 54.7h0.8v0.8h-0.8zM89.2 60.9h0.8v0.8h-0.8zM81.8 61.5h0.8v0.8h-0.8zM85.4 56.1h0.8v0.8h-0.8zM93.6 60.7h0.8v0.8h-0.8zM83.5 60.8h0.8v0.8h-0.8zM112.5 53.5h0.8v0.8h-0.8zM104.2 52.6h0.8v0.8h-0.8zM93.5 53.2h0.8v0.8h-0.8zM96.6 61.2h0.8v0.8h-0.8zM89.2 56.5h0.8v0.8h-0.8zM103.6 57.0h0.8v0.8h-0.8zM81.0 58.3h0.8v0.8h-0.8zM94.0 58.0h0.8v0.8h-0.8zM105.8 49.3h0.8v0.8h-0.8zM95.4 62.9h0.8v0.8h-0.8zM101.4 54.4h0.8v0.8h-0.8zM90.1 53.0h0.8v0.8h-0.8zM88.3 56.2h0.8v0.8h-0.8zM88.0 57.8h0.8v0.8h-0.8zM109.0 54.0h0.8v0.8h-0.8zM91.1 57.7h0.8v0.8h-0.8zM91.2 63.5h0.8v0.8h-0.8zM99.4 55.4h0.8v0.8h-0.8zM94.3 57.4h0.8v0.8h-0.8zM103.5 50.1h0.8v0.8h-0.8zM114.4 52.8h0.8v0.8h-0.8zM105.2 53.9h0.8v0.8h-0.8zM116.7 55.2h0.8v0.8h-0.8zM95.4 56.5h0.8v0.8h-0.8zM90.2 53.2h0.8v0.8h-0.8zM87.0 55.5h0.8v0.8h-0.8zM101.2 57.1h0.8v0.8h-0.8zM90.3 53.9h0.8v0.8h-0.8zM95.7 59.7h0.8v0.8h-0.8zM98.6 52.8h0.8v0.8h-0.8zM82.4 59.4h0.8v0.8h-0.8zM73.3 59.9h0.8v0.8h-0.8zM89.6 60.2h0.8v0.8h-0.8zM97.1 61.2h0.8v0.8h-0.8zM105.4 51.4h0.8v0.8h-0.8zM108.7 57.2h0.8v0.8h-0.8zM89.8 60.4h0.8v0.8h-0.8zM92.6 55.7h0.8v0.8h-0.8zM89.4 58.6h0.8v0.8h-0.8zM86.7 60.8h0.8v0.8h-0.8zM94.5 62.6h0.8v0.8h-0.8zM101.4 56.4h0.8v0.8h-0.8zM87.4 57.1h0.8v0.8h-0.8zM105.7 54.8h0.8v0.8h-0.8zM102.9 53.6h0.8v0.8h-0.8zM84.3 48.1h0.8v0.8h-0.8zM89.4 53.9h0.8v0.8h-0.8zM97.5 54.1h0.8v0.8h-0.8zM96.5 56.1h0.8v0.8h-0.8zM83.7 57.6h0.8v0.8h-0.8zM84.9 54.4h0.8v0.8h-0.8zM96.0 56.7h0.8v0.8h-0.8zM91.9 51.6h0.8v0.8h-0.8zM99.3 51.2h0.8v0.8h-0.8zM90.4 56.7h0.8v0.8h-0.8zM94.1 58.5h0.8v0.8h-0.8zM100.7 54.1h0.8v0.8h-0.8zM85.3 57.3h0.8v0.8h-0.8zM87.7 57.8h0.8v0.8h-0.8zM96.6 58.9h0.8v0.8h-0.8zM86.5 58.2h0.8v0.8h-0.8zM100.0 54.8h0.8v0.8h-0.8zM93.9 50.1h0.8v0.8h-0.8zM99.8 56.9h0.8v0.8h-0.8zM97.1 59.1h0.8v0.8h-0.8zM85.0 59.2h0.8v0.8h-0.8zM81.3 60.0h0.8v0.8h-0.8zM92.4 54.7h0.8v0.8h-0.8zM104.9 57.8h0.8v0.8h-0.8zM94.4 57.5h0.8v0.8h-0.8zM110.9 53.0h0.8v0.8h-0.8zM87.5 56.7h0.8v0.8h-0.8zM109.4 58.7h0.8v0.8h-0.8zM98.3 58.0h0.8v0.8h-0.8zM95.7 54.8h0.8v0.8h-0.8zM94.9 51.9h0.8v0.8h-0.8zM91.8 54.1h0.8v0.8h-0.8zM106.9 49.9h0.8v0.8h-0.8zM82.5 55.3h0.8v0.8h-0.8zM90.5 58.3h0.8v0.8h-0.8zM91.2 59.2h0.8v0.8h-0.8zM109.9 53.2h0.8v0.8h-0.8zM101.8 59.2h0.8v0.8h-0.8zM91.7 60.2h0.8v0.8h-0.8zM87.4 60.3h0.8v0.8h-0.8zM114.0 51.8h0.8v0.8h-0.8zM101.6 53.3h0.8v0.8h-0.8zM87.0 57.8h0.8v0.8h-0.8zM97.1 58.9h0.8v0.8h-0.8zM89.5 51.6h0.8v0.8h-0.8zM96.9 54.9h0.8v0.8h-0.8zM96.0 52.2h0.8v0.8h-0.8zM95.3 54.8h0.8v0.8h-0.8zM100.5 55.6h0.8v0.8h-0.8zM107.7 50.8h0.8v0.8h-0.8zM98.0 59.4h0.8v0.8h-0.8zM90.1 59.5h0.8v0.8h-0.8zM92.6 55.8h0.8v0.8h-0.8zM85.1 60.5h0.8v0.8h-0.8zM100.4 53.5h0.8v0.8h-0.8zM97.2 58.8h0.8v0.8h-0.8zM103.0 55.8h0.8v0.8h-0.8zM90.9 56.0h0.8v0.8h-0.8zM97.0 52.9h0.8v0.8h-0.8zM109.5 54.8h0.8v0.8h-0.8zM94.3 56.6h0.8v0.8h-0.8zM92.9 51.6h0.8v0.8h-0.8zM89.0 58.2h0.8v0.8h-0.8zM83.8 59.6h0.8v0.8h-0.8zM97.4 53.7h0.8v0.8h-0.8zM94.7 54.8h0.8v0.8h-0.8zM98.6 55.5h0.8v0.8h-0.8zM90.9 55.2h0.8v0.8h-0.8zM114.7 50.6h0.8v0.8h-0.8zM91.1 50.4h0.8v0.8h-0.8zM105.5 53.7h0.8v0.8h-0.8zM89.5 59.9h0.8v0.8h-0.8zM100.1 53.6h0.8v0.8h-0.8zM97.0 55.6h0.8v0.8h-0.8zM112.6 55.8h0.8v0.8h-0.8zM115.7 54.0h0.8v0.8h-0.8zM93.8 59.0h0.8v0.8h-0.8zM104.3 57.0h0.8v0.8h-0.8zM96.6 57.2h0.8v0.8h-0.8zM91.1 54.2h0.8v0.8h-0.8zM91.4 60.0h0.8v0.8h-0.8zM103.4 48.2h0.8v0.8h-0.8zM88.8 50.3h0.8v0.8h-0.8zM95.4 60.4h0.8v0.8h-0.8zM101.3 47.4h0.8v0.8h-0.8zM110.6 54.9h0.8v0.8h-0.8zM93.5 52.3h0.8v0.8h-0.8zM106.1 53.4h0.8v0.8h-0.8zM102.6 56.6h0.8v0.8h-0.8zM106.4 57.6h0.8v0.8h-0.8zM98.5 52.7h0.8v0.8h-0.8zM92.6 55.4h0.8v0.8h-0.8zM106.7 55.9h0.8v0.8h-0.8zM56.4 46.6h0.8v0.8h-0.8zM55.8 46.1h0.8v0.8h-0.8zM58.9 47.0h0.8v0.8h-0.8zM59.9 56.0h0.8v0.8h-0.8zM58.8 55.0h0.8v0.8h-0.8zM59.2 54.1h0.8v0.8h-0.8zM57.5 46.1h0.8v0.8h-0.8zM58.8 47.5h0.8v0.8h-0.8zM64.3 51.8h0.8v0.8h-0.8zM55.1 62.3h0.8v0.8h-0.8zM58.3 46.5h0.8v0.8h-0.8zM53.0 53.7h0.8v0.8h-0.8zM59.7 53.9h0.8v0.8h-0.8zM49.6 41.0h0.8v0.8h-0.8zM58.4 54.6h0.8v0.8h-0.8zM57.8 33.8h0.8v0.8h-0.8zM56.2 45.9h0.8v0.8h-0.8zM57.5 41.2h0.8v0.8h-0.8zM59.6 44.4h0.8v0.8h-0.8zM54.2 57.6h0.8v0.8h-0.8zM51.9 51.9h0.8v0.8h-0.8zM60.1 50.5h0.8v0.8h-0.8zM58.4 45.0h0.8v0.8h-0.8zM58.5 49.5h0.8v0.8h-0.8zM55.7 53.8h0.8v0.8h-0.8zM55.4 49.5h0.8v0.8h-0.8zM58.4 53.6h0.8v0.8h-0.8zM57.4 55.2h0.8v0.8h-0.8zM56.7 43.6h0.8v0.8h-0.8zM59.0 44.4h0.8v0.8h-0.8zM59.9 47.7h0.8v0.8h-0.8zM54.8 53.0h0.8v0.8h-0.8zM61.8 46.2h0.8v0.8h-0.8zM53.1 47.0h0.8v0.8h-0.8zM51.9 60.7h0.8v0.8h-0.8zM55.4 47.4h0.8v0.8h-0.8zM53.7 61.7h0.8v0.8h-0.8zM58.4 37.4h0.8v0.8h-0.8zM59.6 56.1h0.8v0.8h-0.8zM58.7 47.7h0.8v0.8h-0.8zM56.7 53.3h0.8v0.8h-0.8zM58.8 33.2h0.8v0.8h-0.8zM60.2 50.3h0.8v0.8h-0.8zM59.2 51.1h0.8v0.8h-0.8zM54.0 49.3h0.8v0.8h-0.8zM56.4 51.0h0.8v0.8h-0.8zM58.1 59.7h0.8v0.8h-0.8zM60.1 56.6h0.8v0.8h-0.8zM55.2 40.3h0.8v0.8h-0.8zM57.6 52.4h0.8v0.8h-0.8zM57.1 46.7h0.8v0.8h-0.8zM58.1 42.3h0.8v0.8h-0.8zM56.2 44.8h0.8v0.8h-0.8zM62.9 38.4h0.8v0.8h-0.8zM65.6 49.2h0.8v0.8h-0.8zM58.4 54.1h0.8v0.8h-0.8zM61.3 53.7h0.8v0.8h-0.8zM61.1 43.9h0.8v0.8h-0.8zM57.8 51.3h0.8v0.8h-0.8zM62.2 48.4h0.8v0.8h-0.8zM55.2 48.4h0.8v0.8h-0.8zM55.8 59.2h0.8v0.8h-0.8zM55.3 55.2h0.8v0.8h-0.8zM57.9 59.3h0.8v0.8h-0.8zM56.5 57.3h0.8v0.8h-0.8zM54.6 48.9h0.8v0.8h-0.8zM53.1 48.8h0.8v0.8h-0.8zM52.5 45.0h0.8v0.8h-0.8zM56.4 53.1h0.8v0.8h-0.8zM61.2 44.8h0.8v0.8h-0.8zM56.6 53.7h0.8v0.8h-0.8zM52.8 46.1h0.8v0.8h-0.8zM60.4 48.4h0.8v0.8h-0.8zM65.5 55.7h0.8v0.8h-0.8zM55.6 57.4h0.8v0.8h-0.8zM56.7 53.4h0.8v0.8h-0.8zM60.7 44.1h0.8v0.8h-0.8zM58.7 46.3h0.8v0.8h-0.8zM59.3 50.3h0.8v0.8h-0.8zM55.4 58.6h0.8v0.8h-0.8zM59.4 50.0h0.8v0.8h-0.8zM58.3 55.2h0.8v0.8h-0.8zM58.0 41.7h0.8v0.8h-0.8zM55.2 60.7h0.8v0.8h-0.8zM51.0 52.5h0.8v0.8h-0.8zM52.5 50.2h0.8v0.8h-0.8zM58.7 42.0h0.8v0.8h-0.8zM54.7 49.1h0.8v0.8h-0.8zM57.5 48.5h0.8v0.8h-0.8zM54.9 50.9h0.8v0.8h-0.8z" fill="#56428e" fill-opacity="0.78"/>
<path d="M63.0 53.4h0.8v0.8h-0.8zM86.5 43.5h0.8v0.8h-0.8zM84.7 58.6h0.8v0.8h-0.8zM82.1 57.6h0.8v0.8h-0.8zM78.7 61.9h0.8v0.8h-0.8zM89.5 41.6h0.8v0.8h-0.8zM91.8 42.8h0.8v0.8h-0.8zM68.8 48.9h0.8v0.8h-0.8zM61.2 55.5h0.8v0.8h-0.8zM75.3 49.0h0.8v0.8h-0.8zM70.9 60.4h0.8v0.8h-0.8zM76.5 52.0h0.8v0.8h-0.8zM61.7 48.6h0.8v0.8h-0.8zM71.6 46.7h0.8v0.8h-0.8zM76.5 56.1h0.8v0.8h-0.8zM70.9 56.3h0.8v0.8h-0.8zM66.4 50.2h0.8v0.8h-0.8zM62.8 54.6h0.8v0.8h-0.8zM70.3 46.6h0.8v0.8h-0.8zM93.3 49.3h0.8v0.8h-0.8zM70.2 49.8h0.8v0.8h-0.8zM75.0 51.2h0.8v0.8h-0.8zM81.4 50.1h0.8v0.8h-0.8zM90.8 42.3h0.8v0.8h-0.8zM62.1 47.8h0.8v0.8h-0.8zM79.5 40.4h0.8v0.8h-0.8zM87.1 48.2h0.8v0.8h-0.8zM79.1 57.2h0.8v0.8h-0.8zM66.9 49.5h0.8v0.8h-0.8zM83.4 49.2h0.8v0.8h-0.8zM80.5 43.6h0.8v0.8h-0.8zM91.5 48.0h0.8v0.8h-0.8zM85.6 52.2h0.8v0.8h-0.8zM70.8 43.7h0.8v0.8h-0.8zM82.3 49.2h0.8v0.8h-0.8zM65.8 43.8h0.8v0.8h-0.8zM64.2 49.3h0.8v0.8h-0.8zM86.5 46.1h0.8v0.8h-0.8zM70.9 41.1h0.8v0.8h-0.8zM94.9 45.4h0.8v0.8h-0.8zM73.3 51.4h0.8v0.8h-0.8zM77.0 56.6h0.8v0.8h-0.8zM77.0 44.4h0.8v0.8h-0.8zM77.8 39.7h0.8v0.8h-0.8zM93.0 43.6h0.8v0.8h-0.8zM89.4 46.4h0.8v0.8h-0.8zM74.9 49.1h0.8v0.8h-0.8zM88.1 48.2h0.8v0.8h-0.8zM75.0 48.5h0.8v0.8h-0.8zM79.4 52.5h0.8v0.8h-0.8zM67.9 55.5h0.8v0.8h-0.8zM65.2 45.5h0.8v0.8h-0.8zM82.9 39.7h0.8v0.8h-0.8zM78.6 53.1h0.8v0.8h-0.8zM75.3 44.5h0.8v0.8h-0.8zM88.0 42.4h0.8v0.8h-0.8zM89.8 46.6h0.8v0.8h-0.8zM79.9 47.5h0.8v0.8h-0.8zM77.5 62.0h0.8v0.8h-0.8zM69.9 59.1h0.8v0.8h-0.8zM69.7 67.7h0.8v0.8h-0.8zM67.8 73.3h0.8v0.8h-0.8zM62.8 64.6h0.8v0.8h-0.8zM60.6 58.5h0.8v0.8h-0.8zM66.6 61.4h0.8v0.8h-0.8zM60.7 65.2h0.8v0.8h-0.8zM65.7 58.2h0.8v0.8h-0.8zM66.6 70.9h0.8v0.8h-0.8zM61.6 66.4h0.8v0.8h-0.8zM62.7 66.2h0.8v0.8h-0.8zM50.4 70.3h0.8v0.8h-0.8zM61.6 79.4h0.8v0.8h-0.8zM65.6 75.9h0.8v0.8h-0.8zM64.0 57.9h0.8v0.8h-0.8zM64.8 66.2h0.8v0.8h-0.8zM69.5 76.2h0.8v0.8h-0.8zM73.2 57.5h0.8v0.8h-0.8zM71.4 72.4h0.8v0.8h-0.8zM60.9 68.4h0.8v0.8h-0.8zM63.3 76.0h0.8v0.8h-0.8zM69.6 72.9h0.8v0.8h-0.8zM69.9 63.7h0.8v0.8h-0.8zM55.4 64.8h0.8v0.8h-0.8zM52.0 67.1h0.8v0.8h-0.8zM71.7 68.7h0.8v0.8h-0.8zM69.3 71.4h0.8v0.8h-0.8zM68.5 56.8h0.8v0.8h-0.8zM54.3 58.8h0.8v0.8h-0.8zM66.9 63.9h0.8v0.8h-0.8zM76.6 68.1h0.8v0.8h-0.8zM66.1 70.7h0.8v0.8h-0.8zM61.5 61.9h0.8v0.8h-0.8zM68.4 74.3h0.8v0.8h-0.8zM61.7 71.3h0.8v0.8h-0.8zM51.6 71.1h0.8v0.8h-0.8zM60.8 72.8h0.8v0.8h-0.8zM72.9 79.8h0.8v0.8h-0.8zM79.2 72.2h0.8v0.8h-0.8zM63.2 69.7h0.8v0.8h-0.8zM80.8 74.7h0.8v0.8h-0.8zM59.5 68.7h0.8v0.8h-0.8zM78.4 68.3h0.8v0.8h-0.8zM60.2 75.9h0.8v0.8h-0.8zM67.5 62.9h0.8v0.8h-0.8zM71.8 57.1h0.8v0.8h-0.8zM63.2 74.5h0.8v0.8h-0.8zM58.7 74.3h0.8v0.8h-0.8zM81.2 79.1h0.8v0.8h-0.8zM54.8 69.8h0.8v0.8h-0.8zM63.8 77.8h0.8v0.8h-0.8zM75.9 64.1h0.8v0.8h-0.8zM68.4 69.8h0.8v0.8h-0.8zM74.2 70.6h0.8v0.8h-0.8zM57.1 69.7h0.8v0.8h-0.8zM69.2 74.1h0.8v0.8h-0.8zM54.2 74.8h0.8v0.8h-0.8zM60.4 73.2h0.8v0.8h-0.8zM73.4 77.1h0.8v0.8h-0.8zM69.6 80.1h0.8v0.8h-0.8zM63.3 72.9h0.8v0.8h-0.8zM69.3 74.4h0.8v0.8h-0.8zM70.7 63.7h0.8v0.8h-0.8zM60.4 71.1h0.8v0.8h-0.8zM69.4 56.2h0.8v0.8h-0.8zM70.7 74.8h0.8v0.8h-0.8zM70.5 56.9h0.8v0.8h-0.8zM63.6 81.5h0.8v0.8h-0.8zM55.4 77.4h0.8v0.8h-0.8zM65.3 71.8h0.8v0.8h-0.8zM67.9 61.2h0.8v0.8h-0.8zM61.4 75.7h0.8v0.8h-0.8zM53.2 62.8h0.8v0.8h-0.8zM62.1 59.0h0.8v0.8h-0.8zM67.9 72.3h0.8v0.8h-0.8zM65.9 68.4h0.8v0.8h-0.8zM57.1 78.1h0.8v0.8h-0.8zM68.7 74.1h0.8v0.8h-0.8zM61.2 69.4h0.8v0.8h-0.8zM66.7 69.5h0.8v0.8h-0.8zM61.9 74.1h0.8v0.8h-0.8zM73.5 69.7h0.8v0.8h-0.8zM73.1 63.9h0.8v0.8h-0.8zM82.2 72.6h0.8v0.8h-0.8zM64.9 62.0h0.8v0.8h-0.8zM56.4 66.8h0.8v0.8h-0.8zM75.0 69.8h0.8v0.8h-0.8zM67.4 57.5h0.8v0.8h-0.8zM58.7 72.9h0.8v0.8h-0.8zM60.1 73.8h0.8v0.8h-0.8zM62.6 75.0h0.8v0.8h-0.8zM60.3 74.7h0.8v0.8h-0.8zM58.3 74.6h0.8v0.8h-0.8zM70.3 75.0h0.8v0.8h-0.8zM74.1 65.5h0.8v0.8h-0.8zM65.5 70.4h0.8v0.8h-0.8zM82.8 79.3h0.8v0.8h-0.8zM72.2 80.9h0.8v0.8h-0.8zM64.6 68.7h0.8v0.8h-0.8zM72.5 56.8h0.8v0.8h-0.8zM67.6 79.6h0.8v0.8h-0.8zM63.6 72.2h0.8v0.8h-0.8zM60.3 78.6h0.8v0.8h-0.8zM57.1 55.4h0.8v0.8h-0.8zM65.3 67.5h0.8v0.8h-0.8zM66.4 61.2h0.8v0.8h-0.8zM56.8 66.3h0.8v0.8h-0.8zM66.4 64.8h0.8v0.8h-0.8zM62.9 73.7h0.8v0.8h-0.8zM68.6 78.0h0.8v0.8h-0.8zM63.9 76.6h0.8v0.8h-0.8zM55.5 77.6h0.8v0.8h-0.8zM66.1 71.0h0.8v0.8h-0.8zM58.4 69.6h0.8v0.8h-0.8zM78.1 64.7h0.8v0.8h-0.8zM65.1 70.4h0.8v0.8h-0.8zM64.0 75.5h0.8v0.8h-0.8zM62.2 73.2h0.8v0.8h-0.8zM66.4 75.5h0.8v0.8h-0.8zM68.4 68.1h0.8v0.8h-0.8zM77.6 63.9h0.8v0.8h-0.8zM66.7 69.9h0.8v0.8h-0.8zM84.4 69.8h0.8v0.8h-0.8zM93.8 61.4h0.8v0.8h-0.8zM61.8 71.4h0.8v0.8h-0.8zM57.3 69.2h0.8v0.8h-0.8zM57.0 56.4h0.8v0.8h-0.8zM60.9 55.9h0.8v0.8h-0.8zM73.7 87.6h0.8v0.8h-0.8zM53.5 64.9h0.8v0.8h-0.8zM58.3 70.2h0.8v0.8h-0.8zM67.4 69.0h0.8v0.8h-0.8zM62.4 62.8h0.8v0.8h-0.8zM65.1 76.4h0.8v0.8h-0.8zM61.1 58.1h0.8v0.8h-0.8zM71.7 75.6h0.8v0.8h-0.8zM73.3 61.7h0.8v0.8h-0.8zM60.7 58.9h0.8v0.8h-0.8zM72.2 69.0h0.8v0.8h-0.8zM65.6 73.3h0.8v0.8h-0.8zM70.6 84.2h0.8v0.8h-0.8zM70.9 65.3h0.8v0.8h-0.8zM57.2 68.6h0.8v0.8h-0.8zM57.4 68.2h0.8v0.8h-0.8zM63.9 73.2h0.8v0.8h-0.8zM70.7 79.8h0.8v0.8h-0.8zM81.1 72.8h0.8v0.8h-0.8zM63.6 64.6h0.8v0.8h-0.8zM75.3 78.5h0.8v0.8h-0.8zM56.7 69.7h0.8v0.8h-0.8zM60.2 69.6h0.8v0.8h-0.8zM60.7 66.6h0.8v0.8h-0.8zM61.1 73.7h0.8v0.8h-0.8zM65.7 68.4h0.8v0.8h-0.8zM74.1 64.6h0.8v0.8h-0.8zM51.5 72.9h0.8v0.8h-0.8zM73.9 57.4h0.8v0.8h-0.8zM66.0 57.4h0.8v0.8h-0.8zM67.1 75.0h0.8v0.8h-0.8zM69.5 65.0h0.8v0.8h-0.8zM72.8 67.5h0.8v0.8h-0.8zM69.3 80.1h0.8v0.8h-0.8zM79.4 72.1h0.8v0.8h-0.8zM64.6 72.2h0.8v0.8h-0.8zM65.7 74.4h0.8v0.8h-0.8zM72.4 61.0h0.8v0.8h-0.8zM72.9 69.1h0.8v0.8h-0.8zM63.1 60.6h0.8v0.8h-0.8zM72.7 61.0h0.8v0.8h-0.8zM76.2 71.7h0.8v0.8h-0.8zM71.5 68.2h0.8v0.8h-0.8zM77.2 60.2h0.8v0.8h-0.8zM78.0 76.4h0.8v0.8h-0.8zM76.3 73.7h0.8v0.8h-0.8zM55.9 68.8h0.8v0.8h-0.8zM72.4 60.0h0.8v0.8h-0.8zM78.1 66.2h0.8v0.8h-0.8zM66.4 71.5h0.8v0.8h-0.8zM75.4 73.5h0.8v0.8h-0.8zM57.9 80.1h0.8v0.8h-0.8zM60.0 69.8h0.8v0.8h-0.8zM65.4 70.4h0.8v0.8h-0.8zM58.8 65.9h0.8v0.8h-0.8zM77.8 76.9h0.8v0.8h-0.8zM60.5 67.9h0.8v0.8h-0.8zM67.3 59.4h0.8v0.8h-0.8zM71.4 69.5h0.8v0.8h-0.8zM68.4 72.0h0.8v0.8h-0.8zM67.0 71.5h0.8v0.8h-0.8zM68.7 62.2h0.8v0.8h-0.8zM66.5 69.1h0.8v0.8h-0.8zM81.6 61.5h0.8v0.8h-0.8zM61.8 67.8h0.8v0.8h-0.8zM71.3 62.0h0.8v0.8h-0.8zM65.3 77.1h0.8v0.8h-0.8zM84.6 61.3h0.8v0.8h-0.8zM59.3 69.6h0.8v0.8h-0.8zM71.3 64.0h0.8v0.8h-0.8zM70.1 80.3h0.8v0.8h-0.8zM65.7 71.8h0.8v0.8h-0.8zM72.0 77.1h0.8v0.8h-0.8zM68.2 58.3h0.8v0.8h-0.8zM63.8 67.9h0.8v0.8h-0.8zM67.4 62.6h0.8v0.8h-0.8zM62.3 71.0h0.8v0.8h-0.8zM65.9 74.8h0.8v0.8h-0.8zM67.4 58.8h0.8v0.8h-0.8zM63.3 78.5h0.8v0.8h-0.8zM80.1 68.5h0.8v0.8h-0.8zM59.8 73.9h0.8v0.8h-0.8zM70.1 80.0h0.8v0.8h-0.8zM67.7 68.1h0.8v0.8h-0.8zM68.7 64.4h0.8v0.8h-0.8zM64.7 59.2h0.8v0.8h-0.8zM63.0 74.7h0.8v0.8h-0.8zM70.2 65.9h0.8v0.8h-0.8zM67.7 82.6h0.8v0.8h-0.8zM70.5 60.6h0.8v0.8h-0.8zM66.6 74.6h0.8v0.8h-0.8zM56.4 63.1h0.8v0.8h-0.8zM64.1 68.7h0.8v0.8h-0.8zM61.9 55.1h0.8v0.8h-0.8zM80.4 67.0h0.8v0.8h-0.8zM64.8 69.2h0.8v0.8h-0.8zM66.2 63.8h0.8v0.8h-0.8zM77.5 65.2h0.8v0.8h-0.8zM70.8 67.2h0.8v0.8h-0.8zM67.7 73.9h0.8v0.8h-0.8zM57.2 81.3h0.8v0.8h-0.8zM64.2 62.6h0.8v0.8h-0.8zM53.8 69.8h0.8v0.8h-0.8zM68.3 63.3h0.8v0.8h-0.8zM61.9 74.0h0.8v0.8h-0.8zM73.7 80.8h0.8v0.8h-0.8zM80.7 61.6h0.8v0.8h-0.8zM64.4 65.4h0.8v0.8h-0.8zM59.8 58.9h0.8v0.8h-0.8zM69.4 58.2h0.8v0.8h-0.8zM62.7 76.6h0.8v0.8h-0.8zM64.7 73.0h0.8v0.8h-0.8zM74.6 67.6h0.8v0.8h-0.8zM56.7 71.5h0.8v0.8h-0.8zM54.1 74.1h0.8v0.8h-0.8zM62.1 72.8h0.8v0.8h-0.8zM63.5 61.9h0.8v0.8h-0.8zM81.9 68.5h0.8v0.8h-0.8zM65.2 69.5h0.8v0.8h-0.8zM67.9 76.2h0.8v0.8h-0.8zM60.0 60.4h0.8v0.8h-0.8zM76.1 60.3h0.8v0.8h-0.8zM65.9 82.7h0.8v0.8h-0.8z" fill="#ddd6ee" fill-opacity="0.9"/></g>
<text x="8.60" y="17.00" font-size="12.5" font-weight="bold" fill="#000">A</text>
<text x="30.40" y="18.10" font-size="6.8" fill="#555" stroke="#555" stroke-width="0.1">i</text>
<text x="44.50" y="18.10" font-size="6.93" textLength="109.74" lengthAdjust="spacingAndGlyphs" fill="#231f20" stroke="#231f20" stroke-width="0.1">HSC-MPP specific regions (n = 3992)</text>
<text x="170.80" y="17.60" font-size="7.14" textLength="4.53" lengthAdjust="spacingAndGlyphs" fill="#555" stroke="#555" stroke-width="0.1">iii</text>
<text x="185.20" y="17.60" font-size="6.9" font-weight="bold" fill="#000">Motif</text>
<text x="238.30" y="17.60" font-size="6.45" font-weight="bold" fill="#000">TF family</text>
<text x="329.60" y="18.10" font-size="7.19" textLength="46.07" lengthAdjust="spacingAndGlyphs" fill="#231f20" stroke="#231f20" stroke-width="0.1">other cell types</text>
<line x1="387.5" y1="17.3" x2="409.5" y2="17.3" stroke="#000" stroke-width="0.9"/>
<path d="M385.6,17.3 l3.2,-1.5 v3 z M411.4,17.3 l-3.2,-1.5 v3 z" fill="#000"/>
<text x="420.70" y="18.10" font-size="6.72" textLength="29.51" lengthAdjust="spacingAndGlyphs" fill="#231f20" stroke="#231f20" stroke-width="0.1">HSC-MPP</text>
<path d="M37.4,72.5 V84.8 H49.5" fill="none" stroke="#000" stroke-width="1"/>
<path d="M37.4,70.3 l-1.9,3.6 h3.8 z M51.6,84.8 l-3.6,-1.9 v3.8 z" fill="#000"/>
<text transform="translate(33.1,77.9) rotate(-90)" font-size="6.4" fill="#231f20" stroke="#231f20" stroke-width="0.1" textLength="22.1" lengthAdjust="spacingAndGlyphs">UMAP1</text>
<text x="38.80" y="93.80" font-size="6.4" textLength="22.6" lengthAdjust="spacingAndGlyphs" fill="#231f20" stroke="#231f20" stroke-width="0.1">UMAP2</text>
<text x="29.90" y="104.40" font-size="6.8" fill="#555" stroke="#555" stroke-width="0.1">ii</text>
<text x="44.50" y="104.50" font-size="6.93" textLength="118.96" lengthAdjust="spacingAndGlyphs" fill="#231f20" stroke="#231f20" stroke-width="0.1">HSC-MPP vs other cell types - TF bound</text>
<path d="M63.7,109.3 V187.9 H142.6" fill="none" stroke="#000" stroke-width="1.2"/>
<line x1="60.3" y1="112.8" x2="63.7" y2="112.8" stroke="#000" stroke-width="0.9"/>
<text x="57.60" y="115.10" font-size="6.4" text-anchor="end" fill="#231f20" stroke="#231f20" stroke-width="0.1">1.00</text>
<line x1="60.3" y1="130.65" x2="63.7" y2="130.65" stroke="#000" stroke-width="0.9"/>
<text x="57.60" y="132.95" font-size="6.4" text-anchor="end" fill="#231f20" stroke="#231f20" stroke-width="0.1">0.75</text>
<line x1="60.3" y1="148.5" x2="63.7" y2="148.5" stroke="#000" stroke-width="0.9"/>
<text x="57.60" y="150.80" font-size="6.4" text-anchor="end" fill="#231f20" stroke="#231f20" stroke-width="0.1">0.50</text>
<line x1="60.3" y1="166.35" x2="63.7" y2="166.35" stroke="#000" stroke-width="0.9"/>
<text x="57.60" y="168.65" font-size="6.4" text-anchor="end" fill="#231f20" stroke="#231f20" stroke-width="0.1">0.25</text>
<line x1="60.3" y1="184.2" x2="63.7" y2="184.2" stroke="#000" stroke-width="0.9"/>
<text x="57.60" y="186.50" font-size="6.4" text-anchor="end" fill="#231f20" stroke="#231f20" stroke-width="0.1">0.00</text>
<line x1="67.4" y1="187.9" x2="67.4" y2="190.8" stroke="#000" stroke-width="0.9"/>
<text x="67.40" y="199.90" font-size="6.4" text-anchor="middle" fill="#231f20" stroke="#231f20" stroke-width="0.1">1.00</text>
<line x1="85.35" y1="187.9" x2="85.35" y2="190.8" stroke="#000" stroke-width="0.9"/>
<text x="85.35" y="199.90" font-size="6.4" text-anchor="middle" fill="#231f20" stroke="#231f20" stroke-width="0.1">0.75</text>
<line x1="103.3" y1="187.9" x2="103.3" y2="190.8" stroke="#000" stroke-width="0.9"/>
<text x="103.30" y="199.90" font-size="6.4" text-anchor="middle" fill="#231f20" stroke="#231f20" stroke-width="0.1">0.50</text>
<line x1="121.25" y1="187.9" x2="121.25" y2="190.8" stroke="#000" stroke-width="0.9"/>
<text x="121.25" y="199.90" font-size="6.4" text-anchor="middle" fill="#231f20" stroke="#231f20" stroke-width="0.1">0.25</text>
<line x1="139.2" y1="187.9" x2="139.2" y2="190.8" stroke="#000" stroke-width="0.9"/>
<text x="139.20" y="199.90" font-size="6.4" text-anchor="middle" fill="#231f20" stroke="#231f20" stroke-width="0.1">0.00</text>
<line x1="67.4" y1="184.2" x2="139.2" y2="112.8" stroke="#c8c8c8" stroke-width="0.8"/>
<path d="M67.5,184.2 V125 C67.5,118.5 70,115.2 76,114.1 C84,113.1 95,112.85 139.2,112.8" fill="none" stroke="#000" stroke-width="1.25"/>
<text x="103.40" y="211.90" font-size="8.4" text-anchor="middle" textLength="31.2" lengthAdjust="spacingAndGlyphs" fill="#231f20" stroke="#231f20" stroke-width="0.1">Specificity</text>
<text transform="translate(38.3,148.5) rotate(-90)" font-size="8.4" text-anchor="middle" fill="#231f20" stroke="#231f20" stroke-width="0.1" textLength="31.2" lengthAdjust="spacingAndGlyphs">Sensitivity</text>
<text x="140.80" y="164.50" font-size="6.93" text-anchor="end" textLength="37.79" lengthAdjust="spacingAndGlyphs" fill="#231f20" stroke="#231f20" stroke-width="0.1">AUC: 0.9875</text>
<text x="140.80" y="172.60" font-size="6.93" text-anchor="end" textLength="50.99" lengthAdjust="spacingAndGlyphs" fill="#231f20" stroke="#231f20" stroke-width="0.1">Accuracy: 0.9418</text>
<text x="140.80" y="180.50" font-size="6.93" text-anchor="end" textLength="49.03" lengthAdjust="spacingAndGlyphs" fill="#231f20" stroke="#231f20" stroke-width="0.1">F1 score: 0.9411</text>
<text x="242.90" y="39.20" font-size="6.9" textLength="32.1" lengthAdjust="spacingAndGlyphs" fill="#231f20" stroke="#231f20" stroke-width="0.1">Ets - bHLH</text>
<text x="242.90" y="53.35" font-size="6.9" textLength="17.4" lengthAdjust="spacingAndGlyphs" fill="#231f20" stroke="#231f20" stroke-width="0.1">bHLH</text>
<text x="242.90" y="67.50" font-size="6.9" textLength="17.4" lengthAdjust="spacingAndGlyphs" fill="#231f20" stroke="#231f20" stroke-width="0.1">bHLH</text>
<text x="242.90" y="81.65" font-size="6.9" textLength="9.6" lengthAdjust="spacingAndGlyphs" fill="#231f20" stroke="#231f20" stroke-width="0.1">Ets</text>
<text x="242.90" y="95.80" font-size="6.9" textLength="26.799999999999997" lengthAdjust="spacingAndGlyphs" fill="#231f20" stroke="#231f20" stroke-width="0.1">C2H2-ZF</text>
<text x="242.90" y="109.95" font-size="6.9" textLength="19.099999999999998" lengthAdjust="spacingAndGlyphs" fill="#231f20" stroke="#231f20" stroke-width="0.1">Mixed</text>
<text x="242.90" y="124.10" font-size="6.9" textLength="32.5" lengthAdjust="spacingAndGlyphs" fill="#231f20" stroke="#231f20" stroke-width="0.1">Paired box</text>
<text x="242.90" y="138.25" font-size="6.9" textLength="28.4" lengthAdjust="spacingAndGlyphs" fill="#231f20" stroke="#231f20" stroke-width="0.1">Unknown</text>
<text x="242.90" y="152.40" font-size="6.9" textLength="17.5" lengthAdjust="spacingAndGlyphs" fill="#231f20" stroke="#231f20" stroke-width="0.1">GATA</text>
<text x="242.90" y="166.55" font-size="6.9" textLength="17.4" lengthAdjust="spacingAndGlyphs" fill="#231f20" stroke="#231f20" stroke-width="0.1">bHLH</text>
<text x="242.90" y="180.70" font-size="6.9" textLength="14.200000000000001" lengthAdjust="spacingAndGlyphs" fill="#231f20" stroke="#231f20" stroke-width="0.1">STAT</text>
<text x="242.90" y="194.85" font-size="6.9" textLength="14.200000000000001" lengthAdjust="spacingAndGlyphs" fill="#231f20" stroke="#231f20" stroke-width="0.1">STAT</text>
<line x1="295" y1="202.7" x2="502.7" y2="202.7" stroke="#000" stroke-width="1.1"/>
<line x1="301.40" y1="202.7" x2="301.40" y2="205.7" stroke="#000" stroke-width="0.9"/>
<text x="301.10" y="214.30" font-size="6.4" text-anchor="middle" fill="#231f20" stroke="#231f20" stroke-width="0.1">−3</text>
<line x1="332.50" y1="202.7" x2="332.50" y2="205.7" stroke="#000" stroke-width="0.9"/>
<text x="332.20" y="214.30" font-size="6.4" text-anchor="middle" fill="#231f20" stroke="#231f20" stroke-width="0.1">−2</text>
<line x1="363.50" y1="202.7" x2="363.50" y2="205.7" stroke="#000" stroke-width="0.9"/>
<text x="363.20" y="214.30" font-size="6.4" text-anchor="middle" fill="#231f20" stroke="#231f20" stroke-width="0.1">−1</text>
<line x1="398.80" y1="202.7" x2="398.80" y2="205.7" stroke="#000" stroke-width="0.9"/>
<text x="398.80" y="214.30" font-size="6.4" text-anchor="middle" fill="#231f20" stroke="#231f20" stroke-width="0.1">0</text>
<line x1="434.20" y1="202.7" x2="434.20" y2="205.7" stroke="#000" stroke-width="0.9"/>
<text x="434.20" y="214.30" font-size="6.4" text-anchor="middle" fill="#231f20" stroke="#231f20" stroke-width="0.1">1</text>
<line x1="465.30" y1="202.7" x2="465.30" y2="205.7" stroke="#000" stroke-width="0.9"/>
<text x="465.30" y="214.30" font-size="6.4" text-anchor="middle" fill="#231f20" stroke="#231f20" stroke-width="0.1">2</text>
<line x1="496.60" y1="202.7" x2="496.60" y2="205.7" stroke="#000" stroke-width="0.9"/>
<text x="496.60" y="214.30" font-size="6.4" text-anchor="middle" fill="#231f20" stroke="#231f20" stroke-width="0.1">3</text>
<text x="398.80" y="227.20" font-size="8.4" text-anchor="middle" textLength="35.7" lengthAdjust="spacingAndGlyphs" fill="#231f20" stroke="#231f20" stroke-width="0.1">SHAP value</text>
<defs><linearGradient id="cbA" x1="0" y1="0" x2="0" y2="1"><stop offset="0" stop-color="#d0104c"/><stop offset="0.5" stop-color="#7b3a98"/><stop offset="1" stop-color="#5a80cc"/></linearGradient></defs>
<rect x="503.8" y="67.9" width="4.1" height="88.6" fill="url(#cbA)"/>
<text x="506.20" y="63.50" font-size="7.04" text-anchor="middle" textLength="13.78" lengthAdjust="spacingAndGlyphs" fill="#231f20" stroke="#231f20" stroke-width="0.1">High</text>
<text x="506.00" y="165.80" font-size="6.93" text-anchor="middle" textLength="12.11" lengthAdjust="spacingAndGlyphs" fill="#231f20" stroke="#231f20" stroke-width="0.1">Low</text>
<text transform="translate(498.8,112.6) rotate(-90)" font-size="6.65" text-anchor="middle" fill="#231f20" stroke="#231f20" stroke-width="0.1">Feature value</text>
<path d="M385.20,38.00C385.20,37.36 385.89,36.27 386.30,35.60C386.71,34.93 387.70,33.45 388.30,33.00C388.90,32.55 390.15,32.25 390.80,32.25C391.45,32.25 392.59,32.58 393.20,33.00C393.81,33.42 394.93,34.73 395.40,35.40C395.87,36.07 396.70,37.31 396.70,38.00C396.70,38.69 395.87,39.93 395.40,40.60C394.93,41.27 393.81,42.58 393.20,43.00C392.59,43.42 391.45,43.75 390.80,43.75C390.15,43.75 388.90,43.45 388.30,43.00C387.70,42.55 386.71,41.07 386.30,40.40C385.89,39.73 385.20,38.64 385.20,38.00Z" fill="#5b7fcb"/>
<path d="M405.65,38.10H432.95" stroke="#9c1a78" stroke-width="1.70" stroke-linecap="round"/><path d="M407.08,38.10C410.31,37.29 414.83,36.30 420.00,36.30C424.69,36.30 428.80,37.29 431.73,38.10C428.80,38.91 424.69,39.90 420.00,39.90C414.83,39.90 410.31,38.91 407.08,38.10Z" fill="#9c1a78"/>
<ellipse cx="395.00" cy="52.22" rx="2.30" ry="5.80" fill="#5b7fcb"/>
<path d="M458.76,52.22H500.74" stroke="#c8104c" stroke-width="1.9" stroke-linecap="round"/><circle cx="446.50" cy="52.22" r="0.95" fill="#c8104c"/><path d="M450.16,52.22H453.84" stroke="#c8104c" stroke-width="1.9" stroke-linecap="round"/>
<ellipse cx="395.20" cy="66.34" rx="2.40" ry="5.80" fill="#5b7fcb"/>
<path d="M426.76,66.34H467.24" stroke="#c8104c" stroke-width="1.9" stroke-linecap="round"/>
<path d="M374.25,80.46H397.75" stroke="#862688" stroke-width="1.70" stroke-linecap="round"/><path d="M375.44,80.46C378.33,79.47 382.38,78.26 387.00,78.26C390.94,78.26 394.39,79.47 396.86,80.46C394.39,81.45 390.94,82.66 387.00,82.66C382.38,82.66 378.33,81.45 375.44,80.46Z" fill="#862688"/>
<path d="M400.60,80.46C400.60,79.77 400.73,78.47 400.90,77.86C401.07,77.25 401.55,76.25 401.90,75.86C402.25,75.47 403.02,75.01 403.50,74.96C403.98,74.91 404.97,75.21 405.50,75.46C406.03,75.71 406.95,76.43 407.50,76.86C408.05,77.29 409.05,78.18 409.60,78.66C410.15,79.14 411.60,79.98 411.60,80.46C411.60,80.94 410.15,81.78 409.60,82.26C409.05,82.74 408.05,83.63 407.50,84.06C406.95,84.49 406.03,85.21 405.50,85.46C404.97,85.71 403.98,86.01 403.50,85.96C403.02,85.91 402.25,85.45 401.90,85.06C401.55,84.67 401.07,83.67 400.90,83.06C400.73,82.45 400.60,81.15 400.60,80.46Z" fill="#5b7fcb"/>
<ellipse cx="394.20" cy="94.58" rx="2.80" ry="5.80" fill="#5b7fcb"/>
<path d="M420.76,94.58H456.24" stroke="#c8104c" stroke-width="1.9" stroke-linecap="round"/><circle cx="415.20" cy="94.58" r="0.95" fill="#c8104c"/>
<ellipse cx="394.40" cy="108.70" rx="2.70" ry="5.80" fill="#5b7fcb"/>
<path d="M424.26,108.70H453.74" stroke="#c8104c" stroke-width="1.9" stroke-linecap="round"/>
<path d="M374.45,122.82H397.45" stroke="#862688" stroke-width="1.70" stroke-linecap="round"/><path d="M375.76,122.82C378.82,121.69 383.10,120.32 388.00,120.32C391.50,120.32 394.57,121.69 396.75,122.82C394.57,123.94 391.50,125.32 388.00,125.32C383.10,125.32 378.82,123.94 375.76,122.82Z" fill="#862688"/>
<path d="M400.00,122.82C400.00,122.13 400.13,120.83 400.30,120.22C400.47,119.61 400.94,118.62 401.30,118.22C401.66,117.82 402.51,117.27 403.00,117.22C403.49,117.17 404.47,117.54 405.00,117.82C405.53,118.10 406.48,118.89 407.00,119.32C407.52,119.75 408.43,120.55 408.90,121.02C409.37,121.49 410.50,122.34 410.50,122.82C410.50,123.30 409.37,124.15 408.90,124.62C408.43,125.09 407.52,125.89 407.00,126.32C406.48,126.75 405.53,127.54 405.00,127.82C404.47,128.10 403.49,128.47 403.00,128.42C402.51,128.37 401.66,127.82 401.30,127.42C400.94,127.02 400.47,126.03 400.30,125.42C400.13,124.81 400.00,123.51 400.00,122.82Z" fill="#5b7fcb"/>
<path d="M375.05,136.94H397.45" stroke="#8a2a7e" stroke-width="1.70" stroke-linecap="round"/><path d="M376.27,136.94C379.20,136.09 383.31,135.04 388.00,135.04C391.50,135.04 394.57,136.09 396.75,136.94C394.57,137.79 391.50,138.84 388.00,138.84C383.31,138.84 379.20,137.79 376.27,136.94Z" fill="#8a2a7e"/>
<path d="M390.85,136.94H397.45" stroke="#5b6ab8" stroke-width="1.70" stroke-linecap="round"/><path d="M390.60,136.94C391.45,136.40 392.64,135.74 394.00,135.74C395.46,135.74 396.74,136.40 397.66,136.94C396.74,137.48 395.46,138.14 394.00,138.14C392.64,138.14 391.45,137.48 390.60,136.94Z" fill="#5b6ab8"/>
<path d="M400.40,136.94C400.40,136.14 400.53,134.63 400.70,133.94C400.87,133.25 401.37,132.11 401.70,131.74C402.03,131.37 402.76,131.05 403.20,131.14C403.64,131.23 404.55,132.00 405.00,132.44C405.45,132.88 406.21,133.84 406.60,134.44C406.99,135.04 407.90,136.27 407.90,136.94C407.90,137.61 406.99,138.84 406.60,139.44C406.21,140.04 405.45,141.00 405.00,141.44C404.55,141.88 403.64,142.65 403.20,142.74C402.76,142.83 402.03,142.51 401.70,142.14C401.37,141.77 400.87,140.63 400.70,139.94C400.53,139.25 400.40,137.74 400.40,136.94Z" fill="#5b7fcb"/>
<ellipse cx="395.80" cy="151.06" rx="2.40" ry="6.00" fill="#5b7fcb"/>
<ellipse cx="395.80" cy="165.18" rx="2.40" ry="6.00" fill="#5b7fcb"/>
<ellipse cx="395.80" cy="179.30" rx="2.40" ry="6.00" fill="#5b7fcb"/>
<ellipse cx="395.80" cy="193.42" rx="2.40" ry="6.00" fill="#5b7fcb"/>
<path d="M435.76,151.06H476.24" stroke="#c8104c" stroke-width="1.9" stroke-linecap="round"/><circle cx="427.60" cy="151.06" r="0.95" fill="#c8104c"/><path d="M430.26,151.06H430.24" stroke="#c8104c" stroke-width="1.9" stroke-linecap="round"/>
<path d="M425.26,165.18H455.44" stroke="#c8104c" stroke-width="1.9" stroke-linecap="round"/><circle cx="421.60" cy="165.18" r="0.95" fill="#c8104c"/>
<path d="M417.26,179.30H449.04" stroke="#c8104c" stroke-width="1.9" stroke-linecap="round"/>
<path d="M414.26,193.42H438.84" stroke="#c8104c" stroke-width="1.9" stroke-linecap="round"/>
<line x1="398.9" y1="26.3" x2="398.9" y2="202.7" stroke="#2e2e2e" stroke-width="1.35"/>
<g font-family="Liberation Sans" font-weight="bold" font-size="100" stroke-width="0.35">
<text transform="translate(179.23,43.25) scale(0.0406,0.1564)" fill="#109648" stroke="#109648" vector-effect="non-scaling-stroke">A</text>
<text transform="translate(182.17,43.25) scale(0.0394,0.1564)" fill="#F5B02B" stroke="#F5B02B" vector-effect="non-scaling-stroke">G</text>
<text transform="translate(185.16,43.25) scale(0.0394,0.1564)" fill="#F5B02B" stroke="#F5B02B" vector-effect="non-scaling-stroke">G</text>
<text transform="translate(188.17,43.25) scale(0.0406,0.1564)" fill="#109648" stroke="#109648" vector-effect="non-scaling-stroke">A</text>
<text transform="translate(191.16,43.25) scale(0.0406,0.1029)" fill="#109648" stroke="#109648" vector-effect="non-scaling-stroke">A</text>
<text transform="translate(194.09,43.25) scale(0.0413,0.1886)" fill="#22529a" stroke="#22529a" vector-effect="non-scaling-stroke">C</text>
<text transform="translate(197.12,43.25) scale(0.0406,0.1386)" fill="#109648" stroke="#109648" vector-effect="non-scaling-stroke">A</text>
<text transform="translate(200.06,43.25) scale(0.0394,0.0493)" fill="#F5B02B" stroke="#F5B02B" vector-effect="non-scaling-stroke">G</text>
<text transform="translate(203.04,43.25) scale(0.0413,0.0850)" fill="#22529a" stroke="#22529a" vector-effect="non-scaling-stroke">C</text>
<text transform="translate(206.14,43.25) scale(0.0455,0.1386)" fill="#D62839" stroke="#D62839" vector-effect="non-scaling-stroke">T</text>
<text transform="translate(209.01,43.25) scale(0.0394,0.1296)" fill="#F5B02B" stroke="#F5B02B" vector-effect="non-scaling-stroke">G</text>
<text transform="translate(179.18,57.38) scale(0.0414,0.1743)" fill="#22529a" stroke="#22529a" vector-effect="non-scaling-stroke">C</text>
<text transform="translate(182.22,57.38) scale(0.0407,0.1386)" fill="#109648" stroke="#109648" vector-effect="non-scaling-stroke">A</text>
<text transform="translate(185.28,57.38) scale(0.0456,0.1207)" fill="#D62839" stroke="#D62839" vector-effect="non-scaling-stroke">T</text>
<text transform="translate(188.15,57.38) scale(0.0414,0.1386)" fill="#22529a" stroke="#22529a" vector-effect="non-scaling-stroke">C</text>
<text transform="translate(191.26,57.38) scale(0.0456,0.1886)" fill="#D62839" stroke="#D62839" vector-effect="non-scaling-stroke">T</text>
<text transform="translate(194.14,57.38) scale(0.0396,0.1743)" fill="#F5B02B" stroke="#F5B02B" vector-effect="non-scaling-stroke">G</text>
<text transform="translate(197.13,57.38) scale(0.0396,0.1029)" fill="#F5B02B" stroke="#F5B02B" vector-effect="non-scaling-stroke">G</text>
<text transform="translate(200.23,57.38) scale(0.0456,0.1029)" fill="#D62839" stroke="#D62839" vector-effect="non-scaling-stroke">T</text>
<text transform="translate(203.22,57.38) scale(0.0456,0.1207)" fill="#D62839" stroke="#D62839" vector-effect="non-scaling-stroke">T</text>
<text transform="translate(206.21,57.38) scale(0.0456,0.1029)" fill="#D62839" stroke="#D62839" vector-effect="non-scaling-stroke">T</text>
<text transform="translate(209.20,57.38) scale(0.0456,0.0850)" fill="#D62839" stroke="#D62839" vector-effect="non-scaling-stroke">T</text>
<text transform="translate(212.19,57.38) scale(0.0456,0.0671)" fill="#D62839" stroke="#D62839" vector-effect="non-scaling-stroke">T</text>
<text transform="translate(215.10,57.38) scale(0.0407,0.0671)" fill="#109648" stroke="#109648" vector-effect="non-scaling-stroke">A</text>
<text transform="translate(218.09,57.38) scale(0.0407,0.0850)" fill="#109648" stroke="#109648" vector-effect="non-scaling-stroke">A</text>
<text transform="translate(221.08,57.38) scale(0.0407,0.1029)" fill="#109648" stroke="#109648" vector-effect="non-scaling-stroke">A</text>
<text transform="translate(224.15,57.38) scale(0.0456,0.1743)" fill="#D62839" stroke="#D62839" vector-effect="non-scaling-stroke">T</text>
<text transform="translate(227.14,57.38) scale(0.0456,0.1564)" fill="#D62839" stroke="#D62839" vector-effect="non-scaling-stroke">T</text>
<text transform="translate(230.13,57.38) scale(0.0456,0.1564)" fill="#D62839" stroke="#D62839" vector-effect="non-scaling-stroke">T</text>
<text transform="translate(233.04,57.38) scale(0.0407,0.1207)" fill="#109648" stroke="#109648" vector-effect="non-scaling-stroke">A</text>
<text transform="translate(179.19,71.51) scale(0.0392,0.1207)" fill="#F5B02B" stroke="#F5B02B" vector-effect="non-scaling-stroke">G</text>
<text transform="translate(182.20,71.51) scale(0.0404,0.0493)" fill="#109648" stroke="#109648" vector-effect="non-scaling-stroke">A</text>
<text transform="translate(185.13,71.51) scale(0.0392,0.1029)" fill="#F5B02B" stroke="#F5B02B" vector-effect="non-scaling-stroke">G</text>
<text transform="translate(188.09,71.51) scale(0.0392,0.0671)" fill="#F5B02B" stroke="#F5B02B" vector-effect="non-scaling-stroke">G</text>
<text transform="translate(191.17,71.51) scale(0.0452,0.1832)" fill="#D62839" stroke="#D62839" vector-effect="non-scaling-stroke">T</text>
<text transform="translate(194.02,71.51) scale(0.0410,0.1886)" fill="#22529a" stroke="#22529a" vector-effect="non-scaling-stroke">C</text>
<text transform="translate(197.10,71.51) scale(0.0452,0.1832)" fill="#D62839" stroke="#D62839" vector-effect="non-scaling-stroke">T</text>
<text transform="translate(199.96,71.51) scale(0.0392,0.1654)" fill="#F5B02B" stroke="#F5B02B" vector-effect="non-scaling-stroke">G</text>
<text transform="translate(202.93,71.51) scale(0.0392,0.1475)" fill="#F5B02B" stroke="#F5B02B" vector-effect="non-scaling-stroke">G</text>
<text transform="translate(205.89,71.51) scale(0.0410,0.0671)" fill="#22529a" stroke="#22529a" vector-effect="non-scaling-stroke">C</text>
<text transform="translate(208.85,71.51) scale(0.0410,0.0493)" fill="#22529a" stroke="#22529a" vector-effect="non-scaling-stroke">C</text>
<text transform="translate(211.86,71.51) scale(0.0404,0.0850)" fill="#109648" stroke="#109648" vector-effect="non-scaling-stroke">A</text>
<text transform="translate(179.23,85.64) scale(0.0407,0.1564)" fill="#109648" stroke="#109648" vector-effect="non-scaling-stroke">A</text>
<text transform="translate(182.21,85.64) scale(0.0407,0.1564)" fill="#109648" stroke="#109648" vector-effect="non-scaling-stroke">A</text>
<text transform="translate(185.20,85.64) scale(0.0407,0.1386)" fill="#109648" stroke="#109648" vector-effect="non-scaling-stroke">A</text>
<text transform="translate(188.19,85.64) scale(0.0407,0.1386)" fill="#109648" stroke="#109648" vector-effect="non-scaling-stroke">A</text>
<text transform="translate(191.13,85.64) scale(0.0395,0.1029)" fill="#F5B02B" stroke="#F5B02B" vector-effect="non-scaling-stroke">G</text>
<text transform="translate(194.12,85.64) scale(0.0395,0.0850)" fill="#F5B02B" stroke="#F5B02B" vector-effect="non-scaling-stroke">G</text>
<text transform="translate(197.10,85.64) scale(0.0413,0.0493)" fill="#22529a" stroke="#22529a" vector-effect="non-scaling-stroke">C</text>
<text transform="translate(200.09,85.64) scale(0.0395,0.1564)" fill="#F5B02B" stroke="#F5B02B" vector-effect="non-scaling-stroke">G</text>
<text transform="translate(203.08,85.64) scale(0.0395,0.1743)" fill="#F5B02B" stroke="#F5B02B" vector-effect="non-scaling-stroke">G</text>
<text transform="translate(206.10,85.64) scale(0.0407,0.1743)" fill="#109648" stroke="#109648" vector-effect="non-scaling-stroke">A</text>
<text transform="translate(209.09,85.64) scale(0.0407,0.1564)" fill="#109648" stroke="#109648" vector-effect="non-scaling-stroke">A</text>
<text transform="translate(212.07,85.64) scale(0.0407,0.1564)" fill="#109648" stroke="#109648" vector-effect="non-scaling-stroke">A</text>
<text transform="translate(215.02,85.64) scale(0.0395,0.1386)" fill="#F5B02B" stroke="#F5B02B" vector-effect="non-scaling-stroke">G</text>
<text transform="translate(218.12,85.64) scale(0.0455,0.1886)" fill="#D62839" stroke="#D62839" vector-effect="non-scaling-stroke">T</text>
<text transform="translate(179.23,99.77) scale(0.0402,0.1886)" fill="#109648" stroke="#109648" vector-effect="non-scaling-stroke">A</text>
<text transform="translate(182.18,99.77) scale(0.0402,0.1743)" fill="#109648" stroke="#109648" vector-effect="non-scaling-stroke">A</text>
<text transform="translate(185.10,99.77) scale(0.0390,0.1386)" fill="#F5B02B" stroke="#F5B02B" vector-effect="non-scaling-stroke">G</text>
<text transform="translate(188.06,99.77) scale(0.0390,0.1386)" fill="#F5B02B" stroke="#F5B02B" vector-effect="non-scaling-stroke">G</text>
<text transform="translate(191.01,99.77) scale(0.0390,0.1029)" fill="#F5B02B" stroke="#F5B02B" vector-effect="non-scaling-stroke">G</text>
<text transform="translate(194.08,99.77) scale(0.0450,0.0671)" fill="#D62839" stroke="#D62839" vector-effect="non-scaling-stroke">T</text>
<text transform="translate(196.92,99.77) scale(0.0390,0.1029)" fill="#F5B02B" stroke="#F5B02B" vector-effect="non-scaling-stroke">G</text>
<text transform="translate(199.87,99.77) scale(0.0408,0.1743)" fill="#22529a" stroke="#22529a" vector-effect="non-scaling-stroke">C</text>
<text transform="translate(202.94,99.77) scale(0.0450,0.1743)" fill="#D62839" stroke="#D62839" vector-effect="non-scaling-stroke">T</text>
<text transform="translate(205.78,99.77) scale(0.0390,0.1207)" fill="#F5B02B" stroke="#F5B02B" vector-effect="non-scaling-stroke">G</text>
<text transform="translate(208.74,99.77) scale(0.0390,0.0850)" fill="#F5B02B" stroke="#F5B02B" vector-effect="non-scaling-stroke">G</text>
<text transform="translate(179.30,113.90) scale(0.0454,0.1207)" fill="#D62839" stroke="#D62839" vector-effect="non-scaling-stroke">T</text>
<text transform="translate(182.17,113.90) scale(0.0394,0.1207)" fill="#F5B02B" stroke="#F5B02B" vector-effect="non-scaling-stroke">G</text>
<text transform="translate(185.18,113.90) scale(0.0406,0.1386)" fill="#109648" stroke="#109648" vector-effect="non-scaling-stroke">A</text>
<text transform="translate(188.13,113.90) scale(0.0394,0.1386)" fill="#F5B02B" stroke="#F5B02B" vector-effect="non-scaling-stroke">G</text>
<text transform="translate(191.14,113.90) scale(0.0406,0.1029)" fill="#109648" stroke="#109648" vector-effect="non-scaling-stroke">A</text>
<text transform="translate(194.12,113.90) scale(0.0406,0.0850)" fill="#109648" stroke="#109648" vector-effect="non-scaling-stroke">A</text>
<text transform="translate(197.09,113.90) scale(0.0406,0.0671)" fill="#109648" stroke="#109648" vector-effect="non-scaling-stroke">A</text>
<text transform="translate(200.03,113.90) scale(0.0412,0.0493)" fill="#22529a" stroke="#22529a" vector-effect="non-scaling-stroke">C</text>
<text transform="translate(203.05,113.90) scale(0.0406,0.0850)" fill="#109648" stroke="#109648" vector-effect="non-scaling-stroke">A</text>
<text transform="translate(179.19,128.03) scale(0.0394,0.1743)" fill="#22529a" stroke="#22529a" vector-effect="non-scaling-stroke">C</text>
<text transform="translate(182.09,128.03) scale(0.0388,0.1029)" fill="#109648" stroke="#109648" vector-effect="non-scaling-stroke">A</text>
<text transform="translate(184.91,128.03) scale(0.0394,0.1386)" fill="#22529a" stroke="#22529a" vector-effect="non-scaling-stroke">C</text>
<text transform="translate(187.88,128.03) scale(0.0434,0.1386)" fill="#D62839" stroke="#D62839" vector-effect="non-scaling-stroke">T</text>
<text transform="translate(190.74,128.03) scale(0.0434,0.1886)" fill="#D62839" stroke="#D62839" vector-effect="non-scaling-stroke">T</text>
<text transform="translate(193.48,128.03) scale(0.0394,0.1886)" fill="#22529a" stroke="#22529a" vector-effect="non-scaling-stroke">C</text>
<text transform="translate(196.34,128.03) scale(0.0394,0.1743)" fill="#22529a" stroke="#22529a" vector-effect="non-scaling-stroke">C</text>
<text transform="translate(199.31,128.03) scale(0.0434,0.1386)" fill="#D62839" stroke="#D62839" vector-effect="non-scaling-stroke">T</text>
<text transform="translate(202.06,128.03) scale(0.0394,0.0671)" fill="#22529a" stroke="#22529a" vector-effect="non-scaling-stroke">C</text>
<text transform="translate(205.03,128.03) scale(0.0434,0.1386)" fill="#D62839" stroke="#D62839" vector-effect="non-scaling-stroke">T</text>
<text transform="translate(207.78,128.03) scale(0.0394,0.0493)" fill="#22529a" stroke="#22529a" vector-effect="non-scaling-stroke">C</text>
<text transform="translate(210.75,128.03) scale(0.0434,0.1386)" fill="#D62839" stroke="#D62839" vector-effect="non-scaling-stroke">T</text>
<text transform="translate(179.30,142.16) scale(0.0462,0.1886)" fill="#D62839" stroke="#D62839" vector-effect="non-scaling-stroke">T</text>
<text transform="translate(182.33,142.16) scale(0.0462,0.1029)" fill="#D62839" stroke="#D62839" vector-effect="non-scaling-stroke">T</text>
<text transform="translate(185.36,142.16) scale(0.0462,0.1207)" fill="#D62839" stroke="#D62839" vector-effect="non-scaling-stroke">T</text>
<text transform="translate(188.26,142.16) scale(0.0419,0.1207)" fill="#22529a" stroke="#22529a" vector-effect="non-scaling-stroke">C</text>
<text transform="translate(191.33,142.16) scale(0.0413,0.0671)" fill="#109648" stroke="#109648" vector-effect="non-scaling-stroke">A</text>
<text transform="translate(194.44,142.16) scale(0.0462,0.1029)" fill="#D62839" stroke="#D62839" vector-effect="non-scaling-stroke">T</text>
<text transform="translate(197.46,142.16) scale(0.0462,0.1207)" fill="#D62839" stroke="#D62839" vector-effect="non-scaling-stroke">T</text>
<text transform="translate(200.49,142.16) scale(0.0462,0.1886)" fill="#D62839" stroke="#D62839" vector-effect="non-scaling-stroke">T</text>
<text transform="translate(203.52,142.16) scale(0.0462,0.1886)" fill="#D62839" stroke="#D62839" vector-effect="non-scaling-stroke">T</text>
<text transform="translate(206.54,142.16) scale(0.0462,0.1743)" fill="#D62839" stroke="#D62839" vector-effect="non-scaling-stroke">T</text>
<text transform="translate(209.45,142.16) scale(0.0419,0.1207)" fill="#22529a" stroke="#22529a" vector-effect="non-scaling-stroke">C</text>
<text transform="translate(212.48,142.16) scale(0.0401,0.1029)" fill="#F5B02B" stroke="#F5B02B" vector-effect="non-scaling-stroke">G</text>
<text transform="translate(215.55,142.16) scale(0.0413,0.0493)" fill="#109648" stroke="#109648" vector-effect="non-scaling-stroke">A</text>
<text transform="translate(218.65,142.16) scale(0.0462,0.0850)" fill="#D62839" stroke="#D62839" vector-effect="non-scaling-stroke">T</text>
<text transform="translate(221.68,142.16) scale(0.0462,0.1564)" fill="#D62839" stroke="#D62839" vector-effect="non-scaling-stroke">T</text>
<text transform="translate(179.30,156.29) scale(0.0455,0.1207)" fill="#D62839" stroke="#D62839" vector-effect="non-scaling-stroke">T</text>
<text transform="translate(182.18,156.29) scale(0.0395,0.1386)" fill="#F5B02B" stroke="#F5B02B" vector-effect="non-scaling-stroke">G</text>
<text transform="translate(185.20,156.29) scale(0.0407,0.1386)" fill="#109648" stroke="#109648" vector-effect="non-scaling-stroke">A</text>
<text transform="translate(188.26,156.29) scale(0.0455,0.1743)" fill="#D62839" stroke="#D62839" vector-effect="non-scaling-stroke">T</text>
<rect x="191.75" y="155.44" width="1.79" height="0.8" fill="#109648"/>
<rect x="194.73" y="155.44" width="1.79" height="0.8" fill="#22529a"/>
<text transform="translate(197.15,156.29) scale(0.0407,0.0314)" fill="#109648" stroke="#109648" vector-effect="non-scaling-stroke">A</text>
<text transform="translate(200.09,156.29) scale(0.0413,0.0493)" fill="#22529a" stroke="#22529a" vector-effect="non-scaling-stroke">C</text>
<text transform="translate(203.12,156.29) scale(0.0407,0.1564)" fill="#109648" stroke="#109648" vector-effect="non-scaling-stroke">A</text>
<text transform="translate(206.18,156.29) scale(0.0455,0.1886)" fill="#D62839" stroke="#D62839" vector-effect="non-scaling-stroke">T</text>
<text transform="translate(209.05,156.29) scale(0.0413,0.1743)" fill="#22529a" stroke="#22529a" vector-effect="non-scaling-stroke">C</text>
<text transform="translate(212.16,156.29) scale(0.0455,0.1386)" fill="#D62839" stroke="#D62839" vector-effect="non-scaling-stroke">T</text>
<text transform="translate(215.02,156.29) scale(0.0413,0.0671)" fill="#22529a" stroke="#22529a" vector-effect="non-scaling-stroke">C</text>
<text transform="translate(218.13,156.29) scale(0.0455,0.1207)" fill="#D62839" stroke="#D62839" vector-effect="non-scaling-stroke">T</text>
<text transform="translate(221.12,156.29) scale(0.0455,0.1029)" fill="#D62839" stroke="#D62839" vector-effect="non-scaling-stroke">T</text>
<text transform="translate(179.31,170.42) scale(0.0441,0.0850)" fill="#D62839" stroke="#D62839" vector-effect="non-scaling-stroke">T</text>
<text transform="translate(182.10,170.42) scale(0.0382,0.1207)" fill="#F5B02B" stroke="#F5B02B" vector-effect="non-scaling-stroke">G</text>
<text transform="translate(185.11,170.42) scale(0.0441,0.1029)" fill="#D62839" stroke="#D62839" vector-effect="non-scaling-stroke">T</text>
<text transform="translate(187.89,170.42) scale(0.0400,0.1886)" fill="#22529a" stroke="#22529a" vector-effect="non-scaling-stroke">C</text>
<text transform="translate(190.83,170.42) scale(0.0394,0.1386)" fill="#109648" stroke="#109648" vector-effect="non-scaling-stroke">A</text>
<text transform="translate(193.70,170.42) scale(0.0382,0.0671)" fill="#F5B02B" stroke="#F5B02B" vector-effect="non-scaling-stroke">G</text>
<text transform="translate(196.60,170.42) scale(0.0382,0.0671)" fill="#F5B02B" stroke="#F5B02B" vector-effect="non-scaling-stroke">G</text>
<text transform="translate(199.49,170.42) scale(0.0400,0.0493)" fill="#22529a" stroke="#22529a" vector-effect="non-scaling-stroke">C</text>
<text transform="translate(202.51,170.42) scale(0.0441,0.1386)" fill="#D62839" stroke="#D62839" vector-effect="non-scaling-stroke">T</text>
<text transform="translate(205.30,170.42) scale(0.0382,0.1207)" fill="#F5B02B" stroke="#F5B02B" vector-effect="non-scaling-stroke">G</text>
<text transform="translate(208.19,170.42) scale(0.0400,0.0493)" fill="#22529a" stroke="#22529a" vector-effect="non-scaling-stroke">C</text>
<text transform="translate(211.09,170.42) scale(0.0400,0.0493)" fill="#22529a" stroke="#22529a" vector-effect="non-scaling-stroke">C</text>
<text transform="translate(179.31,184.55) scale(0.0439,0.1886)" fill="#D62839" stroke="#D62839" vector-effect="non-scaling-stroke">T</text>
<text transform="translate(182.20,184.55) scale(0.0439,0.1743)" fill="#D62839" stroke="#D62839" vector-effect="non-scaling-stroke">T</text>
<text transform="translate(184.97,184.55) scale(0.0399,0.1564)" fill="#22529a" stroke="#22529a" vector-effect="non-scaling-stroke">C</text>
<text transform="translate(187.86,184.55) scale(0.0399,0.1029)" fill="#22529a" stroke="#22529a" vector-effect="non-scaling-stroke">C</text>
<text transform="translate(190.87,184.55) scale(0.0439,0.0671)" fill="#D62839" stroke="#D62839" vector-effect="non-scaling-stroke">T</text>
<text transform="translate(193.65,184.55) scale(0.0381,0.1029)" fill="#F5B02B" stroke="#F5B02B" vector-effect="non-scaling-stroke">G</text>
<text transform="translate(196.54,184.55) scale(0.0381,0.1386)" fill="#F5B02B" stroke="#F5B02B" vector-effect="non-scaling-stroke">G</text>
<text transform="translate(199.43,184.55) scale(0.0381,0.1564)" fill="#F5B02B" stroke="#F5B02B" vector-effect="non-scaling-stroke">G</text>
<text transform="translate(202.36,184.55) scale(0.0393,0.1564)" fill="#109648" stroke="#109648" vector-effect="non-scaling-stroke">A</text>
<text transform="translate(205.25,184.55) scale(0.0393,0.1564)" fill="#109648" stroke="#109648" vector-effect="non-scaling-stroke">A</text>
<text transform="translate(208.14,184.55) scale(0.0393,0.1386)" fill="#109648" stroke="#109648" vector-effect="non-scaling-stroke">A</text>
<text transform="translate(179.31,198.68) scale(0.0441,0.1564)" fill="#D62839" stroke="#D62839" vector-effect="non-scaling-stroke">T</text>
<text transform="translate(182.21,198.68) scale(0.0441,0.1564)" fill="#D62839" stroke="#D62839" vector-effect="non-scaling-stroke">T</text>
<text transform="translate(184.99,198.68) scale(0.0400,0.1564)" fill="#22529a" stroke="#22529a" vector-effect="non-scaling-stroke">C</text>
<text transform="translate(188.01,198.68) scale(0.0441,0.0671)" fill="#D62839" stroke="#D62839" vector-effect="non-scaling-stroke">T</text>
<text transform="translate(190.79,198.68) scale(0.0400,0.0493)" fill="#22529a" stroke="#22529a" vector-effect="non-scaling-stroke">C</text>
<text transform="translate(193.69,198.68) scale(0.0400,0.0671)" fill="#22529a" stroke="#22529a" vector-effect="non-scaling-stroke">C</text>
<text transform="translate(196.63,198.68) scale(0.0394,0.1029)" fill="#109648" stroke="#109648" vector-effect="non-scaling-stroke">A</text>
<text transform="translate(199.50,198.68) scale(0.0382,0.1743)" fill="#F5B02B" stroke="#F5B02B" vector-effect="non-scaling-stroke">G</text>
<text transform="translate(202.40,198.68) scale(0.0382,0.1564)" fill="#F5B02B" stroke="#F5B02B" vector-effect="non-scaling-stroke">G</text>
<text transform="translate(205.30,198.68) scale(0.0382,0.1564)" fill="#F5B02B" stroke="#F5B02B" vector-effect="non-scaling-stroke">G</text>
<text transform="translate(208.23,198.68) scale(0.0394,0.1564)" fill="#109648" stroke="#109648" vector-effect="non-scaling-stroke">A</text>
<text transform="translate(211.13,198.68) scale(0.0394,0.1564)" fill="#109648" stroke="#109648" vector-effect="non-scaling-stroke">A</text>
</g>
<path d="M52.5,250.2C54.3,249.8 55.7,250.5 57.0,250.9C58.3,251.3 59.3,251.5 60.5,252.4C61.7,253.3 63.1,255.0 64.4,256.5C65.7,258.0 67.2,260.1 68.3,261.3C69.4,262.6 69.8,263.9 70.8,264.0C71.8,264.1 72.7,262.6 74.0,261.6C75.3,260.6 76.9,259.0 78.8,257.8C80.7,256.6 83.2,255.3 85.6,254.3C88.0,253.3 90.9,252.5 93.3,251.8C95.7,251.1 98.0,250.7 100.0,250.3C102.0,249.9 102.0,249.6 105.0,249.4C108.0,249.2 114.5,248.9 118.0,248.9C121.5,248.9 123.9,248.5 126.0,249.3C128.1,250.2 129.2,252.5 130.5,254.0C131.8,255.5 132.8,256.9 133.5,258.5C134.2,260.1 133.5,262.2 134.5,263.5C135.5,264.8 138.5,265.2 139.3,266.5C140.1,267.8 139.9,269.4 139.2,271.0C138.4,272.6 135.7,274.4 134.8,276.0C133.9,277.6 135.2,278.9 133.8,280.5C132.4,282.1 129.1,283.9 126.5,285.3C123.9,286.7 120.4,287.9 118.0,288.7C115.6,289.5 113.8,289.5 112.0,290.0C110.2,290.5 108.8,290.7 107.5,291.5C106.2,292.3 105.0,293.4 104.0,295.0C103.0,296.6 102.7,299.0 101.5,301.0C100.3,303.0 99.0,305.2 97.0,307.0C95.0,308.8 92.0,310.4 89.2,311.6C86.4,312.8 83.1,313.8 80.0,314.3C76.9,314.8 73.6,314.9 70.8,314.6C68.0,314.4 65.2,313.9 63.0,312.8C60.8,311.8 59.0,310.3 57.3,308.3C55.6,306.3 54.1,303.5 52.6,301.0C51.1,298.5 49.6,296.2 48.2,293.5C46.8,290.8 45.3,287.2 44.2,284.5C43.1,281.8 42.2,279.9 41.5,277.0C40.8,274.1 39.8,270.1 39.8,267.0C39.8,263.9 40.5,260.8 41.5,258.5C42.5,256.2 44.2,254.4 46.0,253.0C47.8,251.6 50.7,250.5 52.5,250.2Z" fill="#d6d6d6"/>
<path d="M151.5,273 l4,1.2 l4,2.2 l-0.6,1.6 l-4,-1.3 l-3.6,-2.2z" fill="none" stroke="#dcdcdc" stroke-width="0.8"/>
<path d="M98.5 254.0h0.8v0.8h-0.8zM127.1 259.0h0.8v0.8h-0.8zM118.7 248.9h0.8v0.8h-0.8zM95.9 284.9h0.8v0.8h-0.8zM58.4 303.7h0.8v0.8h-0.8zM84.6 292.6h0.8v0.8h-0.8zM118.6 255.4h0.8v0.8h-0.8zM103.8 262.3h0.8v0.8h-0.8zM45.2 277.5h0.8v0.8h-0.8zM65.1 299.8h0.8v0.8h-0.8zM63.2 288.1h0.8v0.8h-0.8zM125.6 269.4h0.8v0.8h-0.8zM117.1 256.0h0.8v0.8h-0.8zM94.6 298.5h0.8v0.8h-0.8zM83.9 287.4h0.8v0.8h-0.8zM127.1 257.3h0.8v0.8h-0.8zM96.5 274.9h0.8v0.8h-0.8zM77.1 270.4h0.8v0.8h-0.8zM123.3 249.7h0.8v0.8h-0.8zM48.6 253.3h0.8v0.8h-0.8zM109.6 282.6h0.8v0.8h-0.8zM86.5 273.7h0.8v0.8h-0.8zM59.5 281.7h0.8v0.8h-0.8zM92.1 267.5h0.8v0.8h-0.8zM69.0 265.5h0.8v0.8h-0.8zM60.0 258.5h0.8v0.8h-0.8zM91.9 305.1h0.8v0.8h-0.8zM131.2 265.9h0.8v0.8h-0.8zM91.9 296.6h0.8v0.8h-0.8zM59.6 285.6h0.8v0.8h-0.8zM95.2 267.1h0.8v0.8h-0.8zM62.8 257.7h0.8v0.8h-0.8zM68.6 267.5h0.8v0.8h-0.8zM65.5 288.2h0.8v0.8h-0.8zM89.1 275.9h0.8v0.8h-0.8zM101.8 287.2h0.8v0.8h-0.8zM42.3 266.3h0.8v0.8h-0.8zM44.8 284.5h0.8v0.8h-0.8zM116.0 254.1h0.8v0.8h-0.8zM82.5 300.0h0.8v0.8h-0.8zM47.9 285.6h0.8v0.8h-0.8zM113.9 257.4h0.8v0.8h-0.8zM78.4 304.3h0.8v0.8h-0.8zM89.1 267.6h0.8v0.8h-0.8zM66.0 292.7h0.8v0.8h-0.8zM86.0 296.7h0.8v0.8h-0.8zM60.5 264.4h0.8v0.8h-0.8zM122.7 277.5h0.8v0.8h-0.8zM87.3 312.0h0.8v0.8h-0.8zM125.6 285.6h0.8v0.8h-0.8zM74.4 303.4h0.8v0.8h-0.8zM112.1 277.6h0.8v0.8h-0.8zM126.2 254.2h0.8v0.8h-0.8zM60.9 254.5h0.8v0.8h-0.8zM90.9 304.9h0.8v0.8h-0.8zM132.1 265.2h0.8v0.8h-0.8zM89.7 292.9h0.8v0.8h-0.8zM97.0 290.8h0.8v0.8h-0.8zM61.3 310.3h0.8v0.8h-0.8zM89.0 290.3h0.8v0.8h-0.8z" fill="#e0e0e0"/>
<defs><filter id="blB" x="-20%" y="-20%" width="140%" height="140%"><feGaussianBlur stdDeviation="0.9"/></filter><filter id="blBs" x="-5%" y="-5%" width="110%" height="110%"><feGaussianBlur stdDeviation="0.28"/></filter></defs>
<g filter="url(#blB)" fill="#2a6530" fill-opacity="0.95"><ellipse cx="82" cy="284.3" rx="8.8" ry="4.6" transform="rotate(-20 82 284.3)"/><ellipse cx="64.5" cy="300" rx="10.5" ry="6.4" transform="rotate(-30 64.5 300)"/></g>
<g filter="url(#blBs)"><path d="M66.3 292.7h0.8v0.8h-0.8zM76.1 283.8h0.8v0.8h-0.8zM87.7 283.4h0.8v0.8h-0.8zM89.6 285.4h0.8v0.8h-0.8zM71.5 289.5h0.8v0.8h-0.8zM86.9 288.9h0.8v0.8h-0.8zM75.5 285.4h0.8v0.8h-0.8zM90.4 283.0h0.8v0.8h-0.8zM95.7 277.7h0.8v0.8h-0.8zM71.0 283.4h0.8v0.8h-0.8zM92.2 280.1h0.8v0.8h-0.8zM87.0 282.9h0.8v0.8h-0.8zM98.2 283.0h0.8v0.8h-0.8zM91.1 286.3h0.8v0.8h-0.8zM82.3 279.3h0.8v0.8h-0.8zM82.0 284.0h0.8v0.8h-0.8zM81.2 294.0h0.8v0.8h-0.8zM81.5 294.2h0.8v0.8h-0.8zM66.9 290.7h0.8v0.8h-0.8zM93.5 283.3h0.8v0.8h-0.8zM85.9 288.2h0.8v0.8h-0.8zM72.6 286.9h0.8v0.8h-0.8zM94.9 275.4h0.8v0.8h-0.8zM90.7 282.9h0.8v0.8h-0.8zM82.0 283.2h0.8v0.8h-0.8zM79.9 284.2h0.8v0.8h-0.8zM74.2 279.5h0.8v0.8h-0.8zM82.1 283.8h0.8v0.8h-0.8zM73.2 278.2h0.8v0.8h-0.8zM71.9 292.4h0.8v0.8h-0.8zM71.3 289.8h0.8v0.8h-0.8zM79.5 284.8h0.8v0.8h-0.8zM80.7 279.6h0.8v0.8h-0.8zM79.1 283.3h0.8v0.8h-0.8zM79.0 293.0h0.8v0.8h-0.8zM76.2 292.2h0.8v0.8h-0.8zM87.9 284.2h0.8v0.8h-0.8zM73.3 283.4h0.8v0.8h-0.8zM72.5 287.3h0.8v0.8h-0.8zM76.7 278.3h0.8v0.8h-0.8zM90.5 284.7h0.8v0.8h-0.8zM75.4 293.8h0.8v0.8h-0.8zM87.6 279.2h0.8v0.8h-0.8zM75.4 282.2h0.8v0.8h-0.8zM75.0 283.6h0.8v0.8h-0.8zM84.1 276.4h0.8v0.8h-0.8zM64.5 286.3h0.8v0.8h-0.8zM97.4 280.8h0.8v0.8h-0.8zM77.0 289.5h0.8v0.8h-0.8zM75.5 279.8h0.8v0.8h-0.8zM78.6 283.1h0.8v0.8h-0.8zM87.3 283.0h0.8v0.8h-0.8zM86.6 280.0h0.8v0.8h-0.8zM90.3 287.3h0.8v0.8h-0.8zM83.7 285.9h0.8v0.8h-0.8zM80.9 286.8h0.8v0.8h-0.8zM78.5 289.4h0.8v0.8h-0.8zM89.8 280.4h0.8v0.8h-0.8zM92.4 281.9h0.8v0.8h-0.8zM80.7 275.3h0.8v0.8h-0.8zM75.3 282.4h0.8v0.8h-0.8zM94.7 280.6h0.8v0.8h-0.8zM64.8 287.5h0.8v0.8h-0.8zM81.9 288.6h0.8v0.8h-0.8zM80.5 289.3h0.8v0.8h-0.8zM86.5 294.4h0.8v0.8h-0.8zM67.7 291.1h0.8v0.8h-0.8zM73.1 292.3h0.8v0.8h-0.8zM94.6 276.9h0.8v0.8h-0.8zM76.1 288.4h0.8v0.8h-0.8zM77.6 285.4h0.8v0.8h-0.8zM85.9 288.0h0.8v0.8h-0.8zM82.8 278.4h0.8v0.8h-0.8zM98.3 277.1h0.8v0.8h-0.8zM80.3 277.3h0.8v0.8h-0.8zM97.4 288.1h0.8v0.8h-0.8zM90.5 273.3h0.8v0.8h-0.8zM96.6 286.3h0.8v0.8h-0.8zM75.6 295.2h0.8v0.8h-0.8zM80.5 291.0h0.8v0.8h-0.8zM81.3 285.3h0.8v0.8h-0.8zM81.5 281.6h0.8v0.8h-0.8zM88.6 283.7h0.8v0.8h-0.8zM91.6 280.1h0.8v0.8h-0.8zM81.9 284.3h0.8v0.8h-0.8zM77.5 285.6h0.8v0.8h-0.8zM83.8 288.1h0.8v0.8h-0.8zM91.0 289.4h0.8v0.8h-0.8zM90.4 292.2h0.8v0.8h-0.8zM85.2 279.1h0.8v0.8h-0.8zM89.3 286.9h0.8v0.8h-0.8zM75.0 291.0h0.8v0.8h-0.8zM85.0 276.0h0.8v0.8h-0.8zM77.8 283.3h0.8v0.8h-0.8zM82.0 283.1h0.8v0.8h-0.8zM88.9 278.5h0.8v0.8h-0.8zM80.1 276.4h0.8v0.8h-0.8zM76.6 289.9h0.8v0.8h-0.8zM88.5 286.1h0.8v0.8h-0.8zM84.1 279.2h0.8v0.8h-0.8zM83.0 286.4h0.8v0.8h-0.8zM85.2 277.8h0.8v0.8h-0.8zM76.9 286.5h0.8v0.8h-0.8zM76.7 289.1h0.8v0.8h-0.8zM83.0 281.6h0.8v0.8h-0.8zM82.3 292.1h0.8v0.8h-0.8zM102.7 275.0h0.8v0.8h-0.8zM80.9 278.8h0.8v0.8h-0.8zM74.0 292.2h0.8v0.8h-0.8zM93.0 283.1h0.8v0.8h-0.8zM67.5 287.9h0.8v0.8h-0.8zM81.8 281.8h0.8v0.8h-0.8zM80.9 289.5h0.8v0.8h-0.8zM77.8 284.1h0.8v0.8h-0.8zM99.9 282.3h0.8v0.8h-0.8zM85.6 284.1h0.8v0.8h-0.8zM86.2 284.6h0.8v0.8h-0.8zM76.9 289.2h0.8v0.8h-0.8zM89.0 281.5h0.8v0.8h-0.8zM75.1 283.2h0.8v0.8h-0.8zM84.4 285.7h0.8v0.8h-0.8zM83.1 287.7h0.8v0.8h-0.8zM92.5 281.4h0.8v0.8h-0.8zM84.4 286.0h0.8v0.8h-0.8zM83.3 278.5h0.8v0.8h-0.8zM86.5 285.4h0.8v0.8h-0.8zM87.2 272.9h0.8v0.8h-0.8zM67.5 290.2h0.8v0.8h-0.8zM86.5 285.4h0.8v0.8h-0.8zM80.3 288.2h0.8v0.8h-0.8zM91.7 276.2h0.8v0.8h-0.8zM87.9 280.3h0.8v0.8h-0.8zM75.3 289.5h0.8v0.8h-0.8zM86.9 281.0h0.8v0.8h-0.8zM85.3 282.7h0.8v0.8h-0.8zM86.2 280.4h0.8v0.8h-0.8zM82.5 289.8h0.8v0.8h-0.8zM91.4 288.8h0.8v0.8h-0.8zM87.8 285.8h0.8v0.8h-0.8zM74.7 289.8h0.8v0.8h-0.8zM86.9 278.6h0.8v0.8h-0.8zM83.2 283.3h0.8v0.8h-0.8zM94.7 284.2h0.8v0.8h-0.8zM74.1 286.5h0.8v0.8h-0.8zM78.4 287.2h0.8v0.8h-0.8zM81.1 281.8h0.8v0.8h-0.8zM89.8 281.9h0.8v0.8h-0.8zM75.5 282.5h0.8v0.8h-0.8zM93.8 278.8h0.8v0.8h-0.8zM81.8 278.7h0.8v0.8h-0.8zM101.9 279.4h0.8v0.8h-0.8zM94.9 290.8h0.8v0.8h-0.8zM81.3 281.6h0.8v0.8h-0.8zM84.2 281.6h0.8v0.8h-0.8zM86.5 287.9h0.8v0.8h-0.8zM81.1 289.1h0.8v0.8h-0.8zM66.1 295.2h0.8v0.8h-0.8zM87.5 282.5h0.8v0.8h-0.8zM84.1 278.2h0.8v0.8h-0.8zM72.7 285.9h0.8v0.8h-0.8zM75.3 283.8h0.8v0.8h-0.8zM59.7 286.6h0.8v0.8h-0.8zM69.2 277.7h0.8v0.8h-0.8zM82.9 276.1h0.8v0.8h-0.8zM74.2 287.0h0.8v0.8h-0.8zM92.6 284.4h0.8v0.8h-0.8zM88.0 284.7h0.8v0.8h-0.8zM79.3 289.2h0.8v0.8h-0.8zM77.0 289.1h0.8v0.8h-0.8zM77.5 285.7h0.8v0.8h-0.8zM84.7 281.3h0.8v0.8h-0.8zM63.9 296.0h0.8v0.8h-0.8zM77.3 283.2h0.8v0.8h-0.8zM84.4 280.8h0.8v0.8h-0.8zM87.3 290.5h0.8v0.8h-0.8zM90.6 283.4h0.8v0.8h-0.8zM75.0 285.1h0.8v0.8h-0.8zM109.2 271.9h0.8v0.8h-0.8zM76.0 283.1h0.8v0.8h-0.8zM88.1 276.8h0.8v0.8h-0.8zM84.7 285.9h0.8v0.8h-0.8zM95.0 278.8h0.8v0.8h-0.8zM73.3 281.4h0.8v0.8h-0.8zM66.1 286.8h0.8v0.8h-0.8zM94.9 278.5h0.8v0.8h-0.8zM72.8 284.7h0.8v0.8h-0.8zM87.2 281.2h0.8v0.8h-0.8zM85.4 290.5h0.8v0.8h-0.8zM78.9 285.3h0.8v0.8h-0.8zM78.3 290.9h0.8v0.8h-0.8zM86.0 279.0h0.8v0.8h-0.8zM64.0 293.3h0.8v0.8h-0.8zM92.2 283.4h0.8v0.8h-0.8zM96.1 284.9h0.8v0.8h-0.8zM79.0 287.2h0.8v0.8h-0.8zM76.7 285.7h0.8v0.8h-0.8zM91.7 291.5h0.8v0.8h-0.8zM79.7 291.0h0.8v0.8h-0.8zM77.4 288.1h0.8v0.8h-0.8zM79.5 287.2h0.8v0.8h-0.8zM79.3 283.4h0.8v0.8h-0.8zM77.1 294.1h0.8v0.8h-0.8zM89.4 276.2h0.8v0.8h-0.8zM89.9 281.5h0.8v0.8h-0.8zM88.0 291.5h0.8v0.8h-0.8zM70.6 291.2h0.8v0.8h-0.8zM72.0 289.5h0.8v0.8h-0.8zM82.7 282.6h0.8v0.8h-0.8zM88.8 287.7h0.8v0.8h-0.8zM67.7 279.3h0.8v0.8h-0.8zM81.6 290.6h0.8v0.8h-0.8zM72.9 281.1h0.8v0.8h-0.8zM77.5 277.2h0.8v0.8h-0.8zM71.8 281.1h0.8v0.8h-0.8zM87.0 277.5h0.8v0.8h-0.8zM98.7 282.1h0.8v0.8h-0.8zM87.2 283.7h0.8v0.8h-0.8zM88.7 291.3h0.8v0.8h-0.8zM83.6 283.3h0.8v0.8h-0.8zM91.2 287.6h0.8v0.8h-0.8zM81.7 278.0h0.8v0.8h-0.8zM90.2 273.1h0.8v0.8h-0.8zM88.5 282.8h0.8v0.8h-0.8zM83.2 280.4h0.8v0.8h-0.8zM83.0 281.2h0.8v0.8h-0.8zM77.0 278.6h0.8v0.8h-0.8zM83.5 274.4h0.8v0.8h-0.8zM72.0 281.6h0.8v0.8h-0.8zM85.7 271.8h0.8v0.8h-0.8zM90.3 288.9h0.8v0.8h-0.8zM69.4 284.8h0.8v0.8h-0.8zM60.1 293.6h0.8v0.8h-0.8zM94.6 277.6h0.8v0.8h-0.8zM75.1 283.2h0.8v0.8h-0.8zM77.7 283.2h0.8v0.8h-0.8zM87.1 283.2h0.8v0.8h-0.8zM66.7 282.4h0.8v0.8h-0.8zM79.0 287.0h0.8v0.8h-0.8zM84.9 283.6h0.8v0.8h-0.8zM84.6 284.0h0.8v0.8h-0.8zM69.7 290.4h0.8v0.8h-0.8zM75.1 283.0h0.8v0.8h-0.8zM78.5 285.0h0.8v0.8h-0.8zM101.6 281.0h0.8v0.8h-0.8zM81.4 289.9h0.8v0.8h-0.8zM85.8 277.8h0.8v0.8h-0.8zM83.7 282.8h0.8v0.8h-0.8zM79.2 282.3h0.8v0.8h-0.8zM80.6 287.1h0.8v0.8h-0.8zM97.1 290.1h0.8v0.8h-0.8zM80.9 281.3h0.8v0.8h-0.8zM79.2 284.0h0.8v0.8h-0.8zM90.7 279.2h0.8v0.8h-0.8zM92.3 270.7h0.8v0.8h-0.8zM83.3 284.1h0.8v0.8h-0.8zM82.1 288.3h0.8v0.8h-0.8zM93.0 275.4h0.8v0.8h-0.8zM87.9 274.0h0.8v0.8h-0.8zM81.9 282.2h0.8v0.8h-0.8zM95.2 281.4h0.8v0.8h-0.8zM75.9 283.6h0.8v0.8h-0.8zM66.1 284.7h0.8v0.8h-0.8zM94.1 281.7h0.8v0.8h-0.8zM82.4 286.2h0.8v0.8h-0.8zM81.5 278.5h0.8v0.8h-0.8zM78.8 288.1h0.8v0.8h-0.8zM71.9 286.1h0.8v0.8h-0.8zM79.5 288.8h0.8v0.8h-0.8zM89.9 278.1h0.8v0.8h-0.8zM89.3 281.4h0.8v0.8h-0.8zM75.9 282.1h0.8v0.8h-0.8zM81.2 283.2h0.8v0.8h-0.8zM83.6 288.5h0.8v0.8h-0.8zM93.9 280.3h0.8v0.8h-0.8zM80.8 281.8h0.8v0.8h-0.8zM91.2 279.2h0.8v0.8h-0.8zM79.9 283.8h0.8v0.8h-0.8zM78.7 286.1h0.8v0.8h-0.8zM84.5 283.3h0.8v0.8h-0.8zM85.8 274.3h0.8v0.8h-0.8zM92.8 285.3h0.8v0.8h-0.8zM87.8 280.1h0.8v0.8h-0.8zM70.5 286.8h0.8v0.8h-0.8zM68.1 292.0h0.8v0.8h-0.8zM78.4 281.0h0.8v0.8h-0.8zM81.3 286.8h0.8v0.8h-0.8zM86.5 285.7h0.8v0.8h-0.8zM83.5 287.9h0.8v0.8h-0.8zM72.7 283.3h0.8v0.8h-0.8zM73.0 286.4h0.8v0.8h-0.8zM62.5 281.9h0.8v0.8h-0.8zM94.5 280.5h0.8v0.8h-0.8zM78.9 283.0h0.8v0.8h-0.8zM92.4 270.2h0.8v0.8h-0.8zM71.0 284.8h0.8v0.8h-0.8zM89.5 277.9h0.8v0.8h-0.8zM76.3 284.6h0.8v0.8h-0.8zM77.6 281.6h0.8v0.8h-0.8zM76.9 276.3h0.8v0.8h-0.8zM80.1 289.9h0.8v0.8h-0.8zM76.7 289.6h0.8v0.8h-0.8zM97.3 283.8h0.8v0.8h-0.8zM84.2 284.6h0.8v0.8h-0.8zM73.7 286.5h0.8v0.8h-0.8zM71.7 290.0h0.8v0.8h-0.8zM76.1 288.5h0.8v0.8h-0.8zM96.5 275.0h0.8v0.8h-0.8zM68.7 282.5h0.8v0.8h-0.8zM77.7 283.0h0.8v0.8h-0.8zM90.1 279.1h0.8v0.8h-0.8zM79.0 279.5h0.8v0.8h-0.8zM76.5 286.8h0.8v0.8h-0.8zM73.9 290.7h0.8v0.8h-0.8zM91.0 287.8h0.8v0.8h-0.8zM95.9 281.0h0.8v0.8h-0.8zM76.7 286.6h0.8v0.8h-0.8zM89.5 288.8h0.8v0.8h-0.8zM90.7 281.3h0.8v0.8h-0.8zM82.9 293.8h0.8v0.8h-0.8zM77.3 292.3h0.8v0.8h-0.8zM98.7 289.3h0.8v0.8h-0.8zM100.4 280.4h0.8v0.8h-0.8zM95.5 283.8h0.8v0.8h-0.8zM82.6 283.2h0.8v0.8h-0.8zM80.5 282.0h0.8v0.8h-0.8zM81.1 284.9h0.8v0.8h-0.8zM82.1 289.9h0.8v0.8h-0.8zM73.4 280.6h0.8v0.8h-0.8zM81.2 292.8h0.8v0.8h-0.8zM87.4 283.6h0.8v0.8h-0.8zM79.3 289.0h0.8v0.8h-0.8zM79.6 291.2h0.8v0.8h-0.8zM80.9 289.9h0.8v0.8h-0.8zM76.8 281.5h0.8v0.8h-0.8zM66.3 290.1h0.8v0.8h-0.8zM83.9 273.9h0.8v0.8h-0.8zM64.9 287.3h0.8v0.8h-0.8zM80.1 281.8h0.8v0.8h-0.8zM80.4 279.7h0.8v0.8h-0.8zM80.5 284.9h0.8v0.8h-0.8zM73.8 280.1h0.8v0.8h-0.8zM92.6 278.3h0.8v0.8h-0.8zM68.1 287.4h0.8v0.8h-0.8zM69.4 295.5h0.8v0.8h-0.8zM83.1 280.1h0.8v0.8h-0.8zM78.4 286.1h0.8v0.8h-0.8zM76.9 288.7h0.8v0.8h-0.8zM83.9 283.9h0.8v0.8h-0.8zM83.2 284.8h0.8v0.8h-0.8zM94.9 279.4h0.8v0.8h-0.8zM84.8 285.6h0.8v0.8h-0.8zM81.8 283.0h0.8v0.8h-0.8zM86.9 293.9h0.8v0.8h-0.8zM69.5 284.2h0.8v0.8h-0.8zM83.4 284.9h0.8v0.8h-0.8zM75.6 282.2h0.8v0.8h-0.8zM76.8 290.8h0.8v0.8h-0.8zM94.6 284.1h0.8v0.8h-0.8zM63.4 286.7h0.8v0.8h-0.8zM75.3 281.6h0.8v0.8h-0.8zM85.2 290.2h0.8v0.8h-0.8zM84.9 276.5h0.8v0.8h-0.8zM82.7 279.6h0.8v0.8h-0.8zM75.0 279.9h0.8v0.8h-0.8zM67.8 286.0h0.8v0.8h-0.8zM73.5 289.6h0.8v0.8h-0.8zM71.6 282.7h0.8v0.8h-0.8zM85.0 281.5h0.8v0.8h-0.8zM95.9 282.5h0.8v0.8h-0.8zM89.6 273.2h0.8v0.8h-0.8zM72.8 278.9h0.8v0.8h-0.8zM74.9 285.3h0.8v0.8h-0.8zM95.4 280.7h0.8v0.8h-0.8zM81.2 278.6h0.8v0.8h-0.8zM93.2 273.7h0.8v0.8h-0.8zM73.0 292.0h0.8v0.8h-0.8zM81.5 285.8h0.8v0.8h-0.8zM73.6 287.0h0.8v0.8h-0.8zM80.3 286.5h0.8v0.8h-0.8zM79.0 289.4h0.8v0.8h-0.8zM86.8 283.8h0.8v0.8h-0.8zM79.9 290.3h0.8v0.8h-0.8zM77.4 287.5h0.8v0.8h-0.8zM81.7 280.9h0.8v0.8h-0.8zM85.0 279.1h0.8v0.8h-0.8zM76.2 287.9h0.8v0.8h-0.8zM70.9 281.2h0.8v0.8h-0.8zM80.4 286.8h0.8v0.8h-0.8zM81.1 277.0h0.8v0.8h-0.8zM90.9 275.5h0.8v0.8h-0.8zM82.0 287.0h0.8v0.8h-0.8zM70.2 278.0h0.8v0.8h-0.8zM80.2 279.4h0.8v0.8h-0.8zM80.5 281.6h0.8v0.8h-0.8zM79.2 278.5h0.8v0.8h-0.8zM67.4 287.9h0.8v0.8h-0.8zM73.1 281.5h0.8v0.8h-0.8zM80.6 290.4h0.8v0.8h-0.8zM82.1 282.0h0.8v0.8h-0.8zM83.6 284.0h0.8v0.8h-0.8zM80.0 288.8h0.8v0.8h-0.8zM88.1 273.4h0.8v0.8h-0.8zM84.1 279.4h0.8v0.8h-0.8zM78.9 287.1h0.8v0.8h-0.8zM74.8 276.7h0.8v0.8h-0.8zM85.6 289.9h0.8v0.8h-0.8zM73.4 282.6h0.8v0.8h-0.8zM77.1 285.9h0.8v0.8h-0.8zM76.3 279.7h0.8v0.8h-0.8zM95.5 284.4h0.8v0.8h-0.8zM92.5 280.8h0.8v0.8h-0.8zM78.9 282.3h0.8v0.8h-0.8zM82.9 279.8h0.8v0.8h-0.8zM65.9 292.6h0.8v0.8h-0.8zM88.4 284.2h0.8v0.8h-0.8zM95.0 281.6h0.8v0.8h-0.8zM71.4 287.5h0.8v0.8h-0.8zM82.3 284.6h0.8v0.8h-0.8zM81.3 288.7h0.8v0.8h-0.8zM80.1 288.2h0.8v0.8h-0.8zM74.8 287.6h0.8v0.8h-0.8zM78.6 284.0h0.8v0.8h-0.8zM83.7 279.7h0.8v0.8h-0.8zM89.3 285.8h0.8v0.8h-0.8zM86.4 288.9h0.8v0.8h-0.8zM91.7 285.1h0.8v0.8h-0.8zM86.0 281.8h0.8v0.8h-0.8zM81.2 286.0h0.8v0.8h-0.8zM85.4 284.0h0.8v0.8h-0.8zM82.8 283.4h0.8v0.8h-0.8zM84.7 285.2h0.8v0.8h-0.8zM80.9 287.5h0.8v0.8h-0.8zM86.2 284.0h0.8v0.8h-0.8zM86.0 289.3h0.8v0.8h-0.8zM96.2 268.1h0.8v0.8h-0.8zM83.3 285.5h0.8v0.8h-0.8zM85.6 284.0h0.8v0.8h-0.8zM81.6 282.5h0.8v0.8h-0.8zM79.6 287.9h0.8v0.8h-0.8zM80.4 281.2h0.8v0.8h-0.8zM92.3 282.0h0.8v0.8h-0.8zM76.9 287.0h0.8v0.8h-0.8zM83.0 278.8h0.8v0.8h-0.8zM78.0 280.8h0.8v0.8h-0.8zM77.7 281.3h0.8v0.8h-0.8zM69.4 292.7h0.8v0.8h-0.8zM74.5 283.2h0.8v0.8h-0.8zM79.5 286.8h0.8v0.8h-0.8zM86.7 282.9h0.8v0.8h-0.8zM89.0 284.1h0.8v0.8h-0.8zM77.8 281.8h0.8v0.8h-0.8zM79.5 279.0h0.8v0.8h-0.8zM76.3 287.3h0.8v0.8h-0.8zM76.1 286.4h0.8v0.8h-0.8zM79.3 287.2h0.8v0.8h-0.8zM68.5 284.7h0.8v0.8h-0.8zM75.4 280.2h0.8v0.8h-0.8zM84.3 288.5h0.8v0.8h-0.8zM80.1 277.6h0.8v0.8h-0.8zM87.5 289.2h0.8v0.8h-0.8zM84.5 283.4h0.8v0.8h-0.8zM96.0 284.0h0.8v0.8h-0.8zM78.7 286.8h0.8v0.8h-0.8zM95.1 279.8h0.8v0.8h-0.8zM76.1 286.4h0.8v0.8h-0.8zM76.8 278.3h0.8v0.8h-0.8zM88.0 285.9h0.8v0.8h-0.8zM85.0 291.8h0.8v0.8h-0.8zM77.0 287.9h0.8v0.8h-0.8zM76.3 282.2h0.8v0.8h-0.8zM69.6 288.4h0.8v0.8h-0.8zM71.1 291.0h0.8v0.8h-0.8zM64.3 293.0h0.8v0.8h-0.8zM89.8 278.6h0.8v0.8h-0.8zM79.6 283.7h0.8v0.8h-0.8zM87.0 278.9h0.8v0.8h-0.8zM86.6 280.3h0.8v0.8h-0.8zM76.3 284.4h0.8v0.8h-0.8zM82.4 284.2h0.8v0.8h-0.8zM87.0 286.1h0.8v0.8h-0.8zM71.0 285.9h0.8v0.8h-0.8zM73.9 285.6h0.8v0.8h-0.8zM79.9 281.8h0.8v0.8h-0.8zM64.9 289.9h0.8v0.8h-0.8zM89.8 276.9h0.8v0.8h-0.8zM78.9 288.0h0.8v0.8h-0.8zM79.7 285.1h0.8v0.8h-0.8zM92.3 276.3h0.8v0.8h-0.8zM92.5 285.0h0.8v0.8h-0.8zM88.6 276.3h0.8v0.8h-0.8zM80.3 289.7h0.8v0.8h-0.8zM67.2 276.6h0.8v0.8h-0.8zM64.1 287.7h0.8v0.8h-0.8zM82.7 287.4h0.8v0.8h-0.8zM73.0 281.5h0.8v0.8h-0.8zM70.6 290.3h0.8v0.8h-0.8zM82.9 285.2h0.8v0.8h-0.8zM75.6 285.6h0.8v0.8h-0.8zM77.8 288.6h0.8v0.8h-0.8zM90.0 277.6h0.8v0.8h-0.8zM90.5 273.1h0.8v0.8h-0.8zM77.5 278.8h0.8v0.8h-0.8zM72.2 292.5h0.8v0.8h-0.8zM84.2 285.5h0.8v0.8h-0.8zM87.6 291.0h0.8v0.8h-0.8zM85.5 279.0h0.8v0.8h-0.8zM73.4 283.3h0.8v0.8h-0.8zM84.5 281.7h0.8v0.8h-0.8zM79.1 281.0h0.8v0.8h-0.8zM83.8 284.1h0.8v0.8h-0.8zM75.3 287.4h0.8v0.8h-0.8zM85.3 284.8h0.8v0.8h-0.8zM78.9 292.3h0.8v0.8h-0.8zM88.3 280.0h0.8v0.8h-0.8zM74.9 283.8h0.8v0.8h-0.8zM90.1 282.8h0.8v0.8h-0.8zM75.4 286.5h0.8v0.8h-0.8zM82.8 278.8h0.8v0.8h-0.8zM88.1 281.3h0.8v0.8h-0.8zM86.2 288.0h0.8v0.8h-0.8zM89.9 282.8h0.8v0.8h-0.8zM80.9 277.3h0.8v0.8h-0.8zM73.0 286.6h0.8v0.8h-0.8zM72.8 290.7h0.8v0.8h-0.8zM86.5 283.8h0.8v0.8h-0.8zM82.0 285.9h0.8v0.8h-0.8zM87.5 282.6h0.8v0.8h-0.8zM76.5 281.7h0.8v0.8h-0.8zM80.6 283.9h0.8v0.8h-0.8zM86.3 280.8h0.8v0.8h-0.8zM77.6 282.8h0.8v0.8h-0.8zM81.0 273.6h0.8v0.8h-0.8zM96.7 279.6h0.8v0.8h-0.8zM84.0 277.0h0.8v0.8h-0.8zM83.9 280.8h0.8v0.8h-0.8zM84.7 279.3h0.8v0.8h-0.8zM76.5 286.6h0.8v0.8h-0.8zM77.6 286.5h0.8v0.8h-0.8zM65.7 294.1h0.8v0.8h-0.8zM87.8 280.8h0.8v0.8h-0.8zM76.1 278.7h0.8v0.8h-0.8zM88.7 288.5h0.8v0.8h-0.8zM85.2 288.3h0.8v0.8h-0.8zM80.6 284.3h0.8v0.8h-0.8zM87.8 283.4h0.8v0.8h-0.8zM79.4 281.0h0.8v0.8h-0.8zM76.6 290.4h0.8v0.8h-0.8zM96.3 284.7h0.8v0.8h-0.8zM90.8 276.9h0.8v0.8h-0.8zM82.0 282.0h0.8v0.8h-0.8zM81.9 287.9h0.8v0.8h-0.8zM81.7 274.6h0.8v0.8h-0.8zM87.6 286.0h0.8v0.8h-0.8zM89.2 279.6h0.8v0.8h-0.8zM81.6 285.5h0.8v0.8h-0.8zM84.4 285.6h0.8v0.8h-0.8zM84.4 292.2h0.8v0.8h-0.8zM85.1 296.1h0.8v0.8h-0.8zM82.9 287.8h0.8v0.8h-0.8zM80.4 285.2h0.8v0.8h-0.8zM73.6 284.6h0.8v0.8h-0.8zM76.4 290.3h0.8v0.8h-0.8zM88.6 282.4h0.8v0.8h-0.8zM77.2 290.2h0.8v0.8h-0.8zM83.8 281.1h0.8v0.8h-0.8zM83.5 282.5h0.8v0.8h-0.8zM81.2 288.9h0.8v0.8h-0.8zM93.5 275.5h0.8v0.8h-0.8zM80.9 280.4h0.8v0.8h-0.8zM86.0 284.3h0.8v0.8h-0.8zM69.3 282.0h0.8v0.8h-0.8zM74.8 281.2h0.8v0.8h-0.8zM82.4 277.1h0.8v0.8h-0.8zM80.6 286.7h0.8v0.8h-0.8zM92.1 281.8h0.8v0.8h-0.8zM77.5 283.7h0.8v0.8h-0.8zM97.0 280.5h0.8v0.8h-0.8zM89.3 281.9h0.8v0.8h-0.8zM84.9 285.9h0.8v0.8h-0.8zM86.7 281.9h0.8v0.8h-0.8zM80.3 287.8h0.8v0.8h-0.8zM83.0 285.1h0.8v0.8h-0.8zM85.0 287.3h0.8v0.8h-0.8zM84.7 290.2h0.8v0.8h-0.8zM70.6 289.2h0.8v0.8h-0.8zM79.6 281.2h0.8v0.8h-0.8zM90.1 280.9h0.8v0.8h-0.8zM85.8 284.9h0.8v0.8h-0.8zM88.8 286.3h0.8v0.8h-0.8zM77.3 283.7h0.8v0.8h-0.8zM79.8 297.1h0.8v0.8h-0.8zM81.7 291.1h0.8v0.8h-0.8zM76.7 291.6h0.8v0.8h-0.8zM77.4 284.9h0.8v0.8h-0.8zM84.0 284.0h0.8v0.8h-0.8zM72.6 290.3h0.8v0.8h-0.8zM84.3 285.9h0.8v0.8h-0.8zM70.2 279.2h0.8v0.8h-0.8zM84.7 291.7h0.8v0.8h-0.8zM81.4 279.0h0.8v0.8h-0.8zM64.6 297.0h0.8v0.8h-0.8zM63.2 303.2h0.8v0.8h-0.8zM60.3 291.9h0.8v0.8h-0.8zM68.1 303.8h0.8v0.8h-0.8zM78.5 299.7h0.8v0.8h-0.8zM81.7 296.9h0.8v0.8h-0.8zM66.7 297.8h0.8v0.8h-0.8zM60.1 298.2h0.8v0.8h-0.8zM70.0 288.9h0.8v0.8h-0.8zM62.8 304.7h0.8v0.8h-0.8zM59.0 298.9h0.8v0.8h-0.8zM73.6 300.7h0.8v0.8h-0.8zM71.5 305.7h0.8v0.8h-0.8zM61.2 296.3h0.8v0.8h-0.8zM65.0 293.4h0.8v0.8h-0.8zM64.7 294.9h0.8v0.8h-0.8zM70.2 299.8h0.8v0.8h-0.8zM60.7 305.9h0.8v0.8h-0.8zM67.5 301.9h0.8v0.8h-0.8zM67.0 297.8h0.8v0.8h-0.8zM60.4 306.4h0.8v0.8h-0.8zM57.8 292.2h0.8v0.8h-0.8zM77.2 294.5h0.8v0.8h-0.8zM61.8 293.9h0.8v0.8h-0.8zM63.7 295.1h0.8v0.8h-0.8zM59.8 300.8h0.8v0.8h-0.8zM85.2 287.2h0.8v0.8h-0.8zM58.9 297.6h0.8v0.8h-0.8zM52.3 298.7h0.8v0.8h-0.8zM70.6 295.7h0.8v0.8h-0.8zM80.2 282.4h0.8v0.8h-0.8zM77.0 297.7h0.8v0.8h-0.8zM74.8 303.2h0.8v0.8h-0.8zM70.7 305.2h0.8v0.8h-0.8zM61.5 302.2h0.8v0.8h-0.8zM69.7 285.7h0.8v0.8h-0.8zM64.5 298.8h0.8v0.8h-0.8zM64.4 302.0h0.8v0.8h-0.8zM68.2 293.3h0.8v0.8h-0.8zM65.2 291.9h0.8v0.8h-0.8zM68.1 298.7h0.8v0.8h-0.8zM66.3 293.4h0.8v0.8h-0.8zM79.5 302.8h0.8v0.8h-0.8zM67.6 297.6h0.8v0.8h-0.8zM77.0 292.2h0.8v0.8h-0.8zM61.6 305.5h0.8v0.8h-0.8zM66.1 296.8h0.8v0.8h-0.8zM63.6 306.4h0.8v0.8h-0.8zM69.1 307.1h0.8v0.8h-0.8zM62.3 297.7h0.8v0.8h-0.8zM64.3 294.4h0.8v0.8h-0.8zM67.0 291.1h0.8v0.8h-0.8zM56.7 289.7h0.8v0.8h-0.8zM63.2 295.4h0.8v0.8h-0.8zM79.5 300.5h0.8v0.8h-0.8zM68.0 299.6h0.8v0.8h-0.8zM63.5 301.2h0.8v0.8h-0.8zM60.7 303.1h0.8v0.8h-0.8zM61.4 289.2h0.8v0.8h-0.8zM62.5 299.6h0.8v0.8h-0.8zM68.7 312.3h0.8v0.8h-0.8zM62.3 299.2h0.8v0.8h-0.8zM67.4 299.7h0.8v0.8h-0.8zM69.5 313.8h0.8v0.8h-0.8zM68.9 310.1h0.8v0.8h-0.8zM66.5 304.8h0.8v0.8h-0.8zM56.5 295.3h0.8v0.8h-0.8zM64.1 299.5h0.8v0.8h-0.8zM81.5 304.7h0.8v0.8h-0.8zM68.8 310.8h0.8v0.8h-0.8zM60.3 309.0h0.8v0.8h-0.8zM66.7 306.5h0.8v0.8h-0.8zM71.9 294.0h0.8v0.8h-0.8zM77.9 290.6h0.8v0.8h-0.8zM64.0 308.5h0.8v0.8h-0.8zM73.0 295.6h0.8v0.8h-0.8zM56.0 297.0h0.8v0.8h-0.8zM69.7 297.3h0.8v0.8h-0.8zM62.7 309.5h0.8v0.8h-0.8zM67.1 288.8h0.8v0.8h-0.8zM55.4 293.3h0.8v0.8h-0.8zM59.3 296.8h0.8v0.8h-0.8zM61.2 298.4h0.8v0.8h-0.8zM65.7 289.9h0.8v0.8h-0.8zM65.6 303.0h0.8v0.8h-0.8zM65.4 301.4h0.8v0.8h-0.8zM60.6 304.2h0.8v0.8h-0.8zM73.2 300.1h0.8v0.8h-0.8zM74.4 301.4h0.8v0.8h-0.8zM71.2 296.6h0.8v0.8h-0.8zM69.6 306.7h0.8v0.8h-0.8zM64.7 300.1h0.8v0.8h-0.8zM63.4 304.5h0.8v0.8h-0.8zM57.2 305.5h0.8v0.8h-0.8zM80.6 288.3h0.8v0.8h-0.8zM70.4 303.3h0.8v0.8h-0.8zM60.1 305.0h0.8v0.8h-0.8zM72.2 293.7h0.8v0.8h-0.8zM62.9 299.0h0.8v0.8h-0.8zM65.7 300.0h0.8v0.8h-0.8zM70.2 299.0h0.8v0.8h-0.8zM60.8 296.4h0.8v0.8h-0.8zM56.2 305.9h0.8v0.8h-0.8zM61.9 304.2h0.8v0.8h-0.8zM64.4 290.4h0.8v0.8h-0.8zM89.4 303.6h0.8v0.8h-0.8zM60.9 308.1h0.8v0.8h-0.8zM64.7 295.0h0.8v0.8h-0.8zM59.0 289.4h0.8v0.8h-0.8zM74.9 294.7h0.8v0.8h-0.8zM65.8 287.5h0.8v0.8h-0.8zM72.9 309.7h0.8v0.8h-0.8zM60.0 300.1h0.8v0.8h-0.8zM60.7 292.9h0.8v0.8h-0.8zM62.0 298.5h0.8v0.8h-0.8zM55.5 297.8h0.8v0.8h-0.8zM72.2 303.3h0.8v0.8h-0.8zM83.6 288.4h0.8v0.8h-0.8zM71.3 297.5h0.8v0.8h-0.8zM76.7 286.3h0.8v0.8h-0.8zM67.2 293.7h0.8v0.8h-0.8zM70.6 305.7h0.8v0.8h-0.8zM62.9 302.5h0.8v0.8h-0.8zM65.0 291.9h0.8v0.8h-0.8zM62.5 299.4h0.8v0.8h-0.8zM64.6 301.3h0.8v0.8h-0.8zM65.3 296.2h0.8v0.8h-0.8zM62.1 300.2h0.8v0.8h-0.8zM59.9 302.3h0.8v0.8h-0.8zM71.9 298.3h0.8v0.8h-0.8zM68.4 284.5h0.8v0.8h-0.8zM73.4 293.0h0.8v0.8h-0.8zM76.2 294.7h0.8v0.8h-0.8zM82.2 289.1h0.8v0.8h-0.8zM62.8 294.0h0.8v0.8h-0.8zM61.7 297.1h0.8v0.8h-0.8zM65.5 300.0h0.8v0.8h-0.8zM60.7 295.4h0.8v0.8h-0.8zM52.9 300.8h0.8v0.8h-0.8zM66.1 300.2h0.8v0.8h-0.8zM79.6 293.2h0.8v0.8h-0.8zM69.0 300.6h0.8v0.8h-0.8zM62.7 291.2h0.8v0.8h-0.8zM73.5 296.9h0.8v0.8h-0.8zM69.5 304.3h0.8v0.8h-0.8zM65.4 299.3h0.8v0.8h-0.8zM63.7 307.3h0.8v0.8h-0.8zM61.6 301.0h0.8v0.8h-0.8zM59.7 300.6h0.8v0.8h-0.8zM62.6 310.4h0.8v0.8h-0.8zM63.5 301.2h0.8v0.8h-0.8zM76.2 292.9h0.8v0.8h-0.8zM63.6 293.3h0.8v0.8h-0.8zM69.2 293.7h0.8v0.8h-0.8zM68.1 306.7h0.8v0.8h-0.8zM65.0 287.6h0.8v0.8h-0.8zM60.7 283.5h0.8v0.8h-0.8zM61.6 298.3h0.8v0.8h-0.8zM60.8 296.9h0.8v0.8h-0.8zM68.0 294.3h0.8v0.8h-0.8zM65.3 303.1h0.8v0.8h-0.8zM66.5 298.1h0.8v0.8h-0.8zM64.4 304.1h0.8v0.8h-0.8zM63.8 302.9h0.8v0.8h-0.8zM78.9 300.6h0.8v0.8h-0.8zM79.3 298.1h0.8v0.8h-0.8zM60.2 307.7h0.8v0.8h-0.8zM60.4 302.7h0.8v0.8h-0.8zM64.0 301.2h0.8v0.8h-0.8zM62.1 292.1h0.8v0.8h-0.8zM67.3 304.6h0.8v0.8h-0.8zM62.5 300.9h0.8v0.8h-0.8zM54.2 294.9h0.8v0.8h-0.8zM53.7 300.5h0.8v0.8h-0.8zM56.0 297.5h0.8v0.8h-0.8zM74.5 289.1h0.8v0.8h-0.8zM55.4 299.8h0.8v0.8h-0.8zM64.7 293.5h0.8v0.8h-0.8zM79.4 285.0h0.8v0.8h-0.8zM60.1 290.8h0.8v0.8h-0.8zM73.0 300.2h0.8v0.8h-0.8zM75.8 295.9h0.8v0.8h-0.8zM68.1 308.9h0.8v0.8h-0.8zM63.3 302.0h0.8v0.8h-0.8zM68.8 300.0h0.8v0.8h-0.8zM56.6 306.6h0.8v0.8h-0.8zM65.4 298.4h0.8v0.8h-0.8zM59.1 294.3h0.8v0.8h-0.8zM69.7 286.4h0.8v0.8h-0.8zM54.8 299.5h0.8v0.8h-0.8zM56.1 294.7h0.8v0.8h-0.8zM68.4 306.0h0.8v0.8h-0.8zM66.9 309.3h0.8v0.8h-0.8zM66.4 301.1h0.8v0.8h-0.8zM75.4 294.5h0.8v0.8h-0.8zM83.7 305.5h0.8v0.8h-0.8zM68.9 294.4h0.8v0.8h-0.8zM70.4 292.8h0.8v0.8h-0.8zM86.2 300.4h0.8v0.8h-0.8zM74.1 309.0h0.8v0.8h-0.8zM59.9 299.9h0.8v0.8h-0.8zM67.2 306.0h0.8v0.8h-0.8zM62.2 303.3h0.8v0.8h-0.8zM71.6 291.1h0.8v0.8h-0.8zM58.7 306.1h0.8v0.8h-0.8zM67.6 299.3h0.8v0.8h-0.8zM74.1 303.5h0.8v0.8h-0.8zM60.4 310.6h0.8v0.8h-0.8zM86.2 282.1h0.8v0.8h-0.8zM49.7 295.7h0.8v0.8h-0.8zM56.3 301.7h0.8v0.8h-0.8zM67.8 300.7h0.8v0.8h-0.8zM58.8 302.6h0.8v0.8h-0.8zM59.9 303.4h0.8v0.8h-0.8zM74.4 302.2h0.8v0.8h-0.8zM57.1 304.0h0.8v0.8h-0.8zM69.0 288.0h0.8v0.8h-0.8zM49.7 295.8h0.8v0.8h-0.8zM61.3 299.5h0.8v0.8h-0.8zM78.5 294.2h0.8v0.8h-0.8zM67.0 309.2h0.8v0.8h-0.8zM71.5 284.5h0.8v0.8h-0.8zM58.7 309.3h0.8v0.8h-0.8zM61.5 295.9h0.8v0.8h-0.8zM96.1 290.1h0.8v0.8h-0.8zM68.9 294.9h0.8v0.8h-0.8zM69.4 288.8h0.8v0.8h-0.8zM60.3 293.1h0.8v0.8h-0.8zM77.7 287.5h0.8v0.8h-0.8zM69.9 295.0h0.8v0.8h-0.8zM67.7 313.6h0.8v0.8h-0.8zM65.3 305.0h0.8v0.8h-0.8zM81.7 297.9h0.8v0.8h-0.8zM59.3 306.6h0.8v0.8h-0.8zM79.3 303.1h0.8v0.8h-0.8zM65.9 295.4h0.8v0.8h-0.8zM82.8 293.5h0.8v0.8h-0.8zM71.0 299.7h0.8v0.8h-0.8zM69.3 303.5h0.8v0.8h-0.8zM68.7 292.6h0.8v0.8h-0.8zM65.7 303.9h0.8v0.8h-0.8zM81.8 303.5h0.8v0.8h-0.8zM62.3 289.9h0.8v0.8h-0.8zM59.4 298.2h0.8v0.8h-0.8zM70.2 301.5h0.8v0.8h-0.8zM69.0 297.8h0.8v0.8h-0.8zM54.2 295.0h0.8v0.8h-0.8zM83.5 298.6h0.8v0.8h-0.8zM72.0 298.0h0.8v0.8h-0.8zM73.9 286.7h0.8v0.8h-0.8zM63.8 300.6h0.8v0.8h-0.8zM68.1 301.0h0.8v0.8h-0.8zM68.7 313.0h0.8v0.8h-0.8zM58.8 300.0h0.8v0.8h-0.8zM56.6 304.6h0.8v0.8h-0.8zM63.0 290.8h0.8v0.8h-0.8zM62.1 284.8h0.8v0.8h-0.8zM61.0 303.2h0.8v0.8h-0.8zM60.9 302.7h0.8v0.8h-0.8zM67.9 292.2h0.8v0.8h-0.8zM64.9 292.1h0.8v0.8h-0.8zM70.7 300.6h0.8v0.8h-0.8zM62.1 301.4h0.8v0.8h-0.8zM71.3 296.8h0.8v0.8h-0.8zM67.2 308.4h0.8v0.8h-0.8zM62.4 299.3h0.8v0.8h-0.8zM68.9 302.5h0.8v0.8h-0.8zM60.3 304.8h0.8v0.8h-0.8zM64.8 306.6h0.8v0.8h-0.8zM62.5 304.6h0.8v0.8h-0.8zM70.5 289.3h0.8v0.8h-0.8zM51.8 295.9h0.8v0.8h-0.8zM83.2 278.0h0.8v0.8h-0.8zM66.6 287.7h0.8v0.8h-0.8zM59.7 301.5h0.8v0.8h-0.8zM60.6 297.3h0.8v0.8h-0.8zM78.9 299.5h0.8v0.8h-0.8zM72.0 296.5h0.8v0.8h-0.8zM54.8 301.3h0.8v0.8h-0.8zM64.6 299.3h0.8v0.8h-0.8zM63.9 308.6h0.8v0.8h-0.8zM65.6 300.5h0.8v0.8h-0.8zM78.5 310.6h0.8v0.8h-0.8zM58.1 293.4h0.8v0.8h-0.8zM70.0 298.9h0.8v0.8h-0.8zM63.1 296.5h0.8v0.8h-0.8zM63.4 294.8h0.8v0.8h-0.8zM70.4 284.8h0.8v0.8h-0.8zM62.5 300.8h0.8v0.8h-0.8zM64.7 299.1h0.8v0.8h-0.8zM63.6 296.5h0.8v0.8h-0.8zM53.2 299.3h0.8v0.8h-0.8zM56.8 300.6h0.8v0.8h-0.8zM68.0 301.1h0.8v0.8h-0.8zM54.6 301.4h0.8v0.8h-0.8zM49.5 292.6h0.8v0.8h-0.8zM71.1 302.2h0.8v0.8h-0.8zM61.7 298.0h0.8v0.8h-0.8zM50.5 297.1h0.8v0.8h-0.8zM66.4 306.9h0.8v0.8h-0.8zM58.3 295.1h0.8v0.8h-0.8zM69.1 297.4h0.8v0.8h-0.8zM62.6 310.1h0.8v0.8h-0.8zM63.6 293.7h0.8v0.8h-0.8zM62.5 295.9h0.8v0.8h-0.8zM60.0 295.6h0.8v0.8h-0.8zM71.4 294.8h0.8v0.8h-0.8zM54.2 301.0h0.8v0.8h-0.8zM70.4 289.3h0.8v0.8h-0.8zM66.4 302.6h0.8v0.8h-0.8zM59.7 288.6h0.8v0.8h-0.8zM63.5 297.8h0.8v0.8h-0.8zM72.0 295.2h0.8v0.8h-0.8zM82.7 304.1h0.8v0.8h-0.8zM85.6 307.0h0.8v0.8h-0.8zM54.8 292.5h0.8v0.8h-0.8zM63.2 294.7h0.8v0.8h-0.8zM62.9 298.9h0.8v0.8h-0.8zM53.7 301.0h0.8v0.8h-0.8zM70.6 296.7h0.8v0.8h-0.8zM56.0 305.7h0.8v0.8h-0.8zM56.5 296.3h0.8v0.8h-0.8zM67.4 313.1h0.8v0.8h-0.8zM72.9 303.8h0.8v0.8h-0.8zM70.8 297.3h0.8v0.8h-0.8zM61.4 302.7h0.8v0.8h-0.8zM72.6 299.9h0.8v0.8h-0.8zM62.1 307.4h0.8v0.8h-0.8zM81.2 301.7h0.8v0.8h-0.8zM69.2 289.5h0.8v0.8h-0.8zM61.1 291.7h0.8v0.8h-0.8zM74.4 280.0h0.8v0.8h-0.8zM58.4 297.7h0.8v0.8h-0.8zM65.3 306.2h0.8v0.8h-0.8zM57.4 290.7h0.8v0.8h-0.8zM68.5 295.3h0.8v0.8h-0.8zM74.6 298.8h0.8v0.8h-0.8zM56.4 296.7h0.8v0.8h-0.8zM70.2 305.7h0.8v0.8h-0.8zM79.3 284.8h0.8v0.8h-0.8zM60.6 302.4h0.8v0.8h-0.8zM77.5 298.8h0.8v0.8h-0.8zM56.5 298.8h0.8v0.8h-0.8zM65.1 294.9h0.8v0.8h-0.8zM67.6 295.8h0.8v0.8h-0.8zM80.7 303.5h0.8v0.8h-0.8zM69.4 298.6h0.8v0.8h-0.8zM73.8 295.4h0.8v0.8h-0.8zM64.7 292.1h0.8v0.8h-0.8zM84.8 293.1h0.8v0.8h-0.8zM60.1 306.1h0.8v0.8h-0.8zM62.7 301.9h0.8v0.8h-0.8zM63.9 298.8h0.8v0.8h-0.8zM68.3 303.7h0.8v0.8h-0.8zM71.4 299.1h0.8v0.8h-0.8zM71.3 304.1h0.8v0.8h-0.8zM58.8 295.7h0.8v0.8h-0.8zM74.8 295.7h0.8v0.8h-0.8zM64.6 291.6h0.8v0.8h-0.8zM67.9 306.9h0.8v0.8h-0.8zM72.7 300.0h0.8v0.8h-0.8zM66.1 293.5h0.8v0.8h-0.8zM61.0 295.6h0.8v0.8h-0.8zM76.1 308.3h0.8v0.8h-0.8zM62.0 299.9h0.8v0.8h-0.8zM55.8 299.9h0.8v0.8h-0.8zM62.6 289.9h0.8v0.8h-0.8zM59.9 302.9h0.8v0.8h-0.8zM66.0 305.7h0.8v0.8h-0.8zM64.1 299.4h0.8v0.8h-0.8zM55.3 299.8h0.8v0.8h-0.8zM78.0 300.6h0.8v0.8h-0.8zM64.6 295.3h0.8v0.8h-0.8zM64.2 308.4h0.8v0.8h-0.8zM82.6 305.2h0.8v0.8h-0.8zM61.6 310.9h0.8v0.8h-0.8zM60.2 302.8h0.8v0.8h-0.8zM63.5 302.0h0.8v0.8h-0.8zM79.6 294.3h0.8v0.8h-0.8zM61.5 301.7h0.8v0.8h-0.8zM66.4 298.7h0.8v0.8h-0.8zM69.9 304.1h0.8v0.8h-0.8zM77.4 301.8h0.8v0.8h-0.8zM59.5 307.1h0.8v0.8h-0.8zM63.4 294.8h0.8v0.8h-0.8zM77.7 296.2h0.8v0.8h-0.8zM73.5 301.3h0.8v0.8h-0.8zM73.7 294.7h0.8v0.8h-0.8zM67.3 302.7h0.8v0.8h-0.8zM63.4 293.6h0.8v0.8h-0.8zM65.7 300.4h0.8v0.8h-0.8zM65.5 296.5h0.8v0.8h-0.8zM57.5 290.8h0.8v0.8h-0.8zM54.6 301.3h0.8v0.8h-0.8zM60.5 303.5h0.8v0.8h-0.8zM67.6 302.3h0.8v0.8h-0.8zM55.1 297.5h0.8v0.8h-0.8zM65.7 302.3h0.8v0.8h-0.8zM65.5 293.9h0.8v0.8h-0.8zM68.7 307.0h0.8v0.8h-0.8zM64.2 304.4h0.8v0.8h-0.8zM64.0 311.6h0.8v0.8h-0.8zM73.9 288.8h0.8v0.8h-0.8zM66.4 286.5h0.8v0.8h-0.8zM72.9 287.5h0.8v0.8h-0.8zM58.6 307.1h0.8v0.8h-0.8zM74.2 304.8h0.8v0.8h-0.8zM69.5 290.2h0.8v0.8h-0.8zM67.5 289.2h0.8v0.8h-0.8zM61.5 305.8h0.8v0.8h-0.8zM64.7 304.2h0.8v0.8h-0.8zM70.4 302.3h0.8v0.8h-0.8zM74.6 293.7h0.8v0.8h-0.8zM59.1 304.3h0.8v0.8h-0.8zM65.1 300.2h0.8v0.8h-0.8zM74.6 296.9h0.8v0.8h-0.8zM70.3 290.8h0.8v0.8h-0.8zM81.4 294.4h0.8v0.8h-0.8zM62.3 292.3h0.8v0.8h-0.8zM54.9 302.2h0.8v0.8h-0.8zM69.2 292.2h0.8v0.8h-0.8zM64.2 312.3h0.8v0.8h-0.8zM66.1 299.2h0.8v0.8h-0.8zM58.9 303.5h0.8v0.8h-0.8zM79.9 299.9h0.8v0.8h-0.8zM60.4 301.3h0.8v0.8h-0.8zM60.1 303.0h0.8v0.8h-0.8zM74.9 299.0h0.8v0.8h-0.8zM54.5 302.6h0.8v0.8h-0.8zM70.3 292.1h0.8v0.8h-0.8zM60.2 306.1h0.8v0.8h-0.8zM68.2 300.9h0.8v0.8h-0.8zM65.7 295.9h0.8v0.8h-0.8zM65.8 296.3h0.8v0.8h-0.8zM61.4 302.9h0.8v0.8h-0.8zM56.2 304.3h0.8v0.8h-0.8zM54.2 303.2h0.8v0.8h-0.8zM76.6 296.1h0.8v0.8h-0.8zM72.4 296.5h0.8v0.8h-0.8zM60.6 296.3h0.8v0.8h-0.8zM60.7 303.4h0.8v0.8h-0.8zM75.0 295.4h0.8v0.8h-0.8zM76.3 305.1h0.8v0.8h-0.8zM60.6 300.2h0.8v0.8h-0.8zM68.7 300.3h0.8v0.8h-0.8zM74.4 295.3h0.8v0.8h-0.8zM69.2 293.7h0.8v0.8h-0.8zM63.6 298.2h0.8v0.8h-0.8zM62.5 299.7h0.8v0.8h-0.8zM65.1 302.1h0.8v0.8h-0.8zM64.7 298.4h0.8v0.8h-0.8zM67.9 281.0h0.8v0.8h-0.8zM61.1 302.3h0.8v0.8h-0.8zM58.4 301.0h0.8v0.8h-0.8zM60.4 303.6h0.8v0.8h-0.8zM60.9 307.1h0.8v0.8h-0.8zM58.4 308.8h0.8v0.8h-0.8zM68.2 301.0h0.8v0.8h-0.8zM65.4 293.0h0.8v0.8h-0.8zM64.3 304.3h0.8v0.8h-0.8zM64.6 308.6h0.8v0.8h-0.8zM87.7 295.8h0.8v0.8h-0.8zM69.2 304.9h0.8v0.8h-0.8zM60.3 298.4h0.8v0.8h-0.8zM71.5 303.8h0.8v0.8h-0.8zM61.2 298.3h0.8v0.8h-0.8zM72.1 293.5h0.8v0.8h-0.8zM77.0 300.6h0.8v0.8h-0.8zM69.6 300.6h0.8v0.8h-0.8zM67.1 304.5h0.8v0.8h-0.8zM56.5 306.2h0.8v0.8h-0.8zM65.6 292.6h0.8v0.8h-0.8zM63.3 295.8h0.8v0.8h-0.8zM61.0 299.8h0.8v0.8h-0.8zM70.4 296.7h0.8v0.8h-0.8zM64.8 298.3h0.8v0.8h-0.8zM49.8 293.4h0.8v0.8h-0.8zM67.2 299.4h0.8v0.8h-0.8zM74.7 291.0h0.8v0.8h-0.8zM62.7 287.8h0.8v0.8h-0.8zM63.8 305.0h0.8v0.8h-0.8zM74.8 306.2h0.8v0.8h-0.8zM63.8 294.5h0.8v0.8h-0.8zM58.4 293.9h0.8v0.8h-0.8zM67.6 292.6h0.8v0.8h-0.8zM70.7 284.4h0.8v0.8h-0.8zM65.4 290.6h0.8v0.8h-0.8zM75.4 293.5h0.8v0.8h-0.8zM56.4 296.0h0.8v0.8h-0.8zM65.0 286.9h0.8v0.8h-0.8zM68.3 300.4h0.8v0.8h-0.8zM75.5 296.8h0.8v0.8h-0.8zM56.0 288.3h0.8v0.8h-0.8zM81.0 305.1h0.8v0.8h-0.8zM59.9 293.8h0.8v0.8h-0.8zM74.0 298.1h0.8v0.8h-0.8zM63.2 295.4h0.8v0.8h-0.8zM53.2 294.1h0.8v0.8h-0.8zM74.1 292.9h0.8v0.8h-0.8zM57.0 302.7h0.8v0.8h-0.8zM67.1 299.7h0.8v0.8h-0.8zM65.1 309.8h0.8v0.8h-0.8zM64.0 300.2h0.8v0.8h-0.8zM63.1 292.1h0.8v0.8h-0.8zM63.8 308.9h0.8v0.8h-0.8zM78.2 297.3h0.8v0.8h-0.8zM70.9 294.0h0.8v0.8h-0.8zM63.8 309.4h0.8v0.8h-0.8zM73.1 294.4h0.8v0.8h-0.8zM69.1 295.3h0.8v0.8h-0.8zM85.5 302.1h0.8v0.8h-0.8zM60.2 305.3h0.8v0.8h-0.8zM69.6 289.4h0.8v0.8h-0.8zM68.2 310.0h0.8v0.8h-0.8zM73.8 304.8h0.8v0.8h-0.8zM65.3 287.9h0.8v0.8h-0.8zM57.9 299.6h0.8v0.8h-0.8zM64.0 299.7h0.8v0.8h-0.8zM68.2 290.2h0.8v0.8h-0.8zM54.0 301.7h0.8v0.8h-0.8zM65.3 296.8h0.8v0.8h-0.8zM66.9 301.1h0.8v0.8h-0.8zM72.7 298.2h0.8v0.8h-0.8zM70.2 311.6h0.8v0.8h-0.8zM84.1 293.4h0.8v0.8h-0.8zM57.8 302.1h0.8v0.8h-0.8zM70.9 295.6h0.8v0.8h-0.8zM63.2 303.2h0.8v0.8h-0.8zM62.0 299.9h0.8v0.8h-0.8zM78.2 287.4h0.8v0.8h-0.8zM70.3 295.8h0.8v0.8h-0.8zM67.9 293.6h0.8v0.8h-0.8zM68.2 298.4h0.8v0.8h-0.8zM72.2 291.9h0.8v0.8h-0.8zM73.9 291.2h0.8v0.8h-0.8zM69.1 307.4h0.8v0.8h-0.8zM55.6 296.7h0.8v0.8h-0.8zM64.7 293.7h0.8v0.8h-0.8zM60.0 288.0h0.8v0.8h-0.8zM77.3 289.3h0.8v0.8h-0.8zM59.6 291.4h0.8v0.8h-0.8zM63.7 300.4h0.8v0.8h-0.8zM72.1 303.5h0.8v0.8h-0.8zM63.9 288.7h0.8v0.8h-0.8zM56.5 305.0h0.8v0.8h-0.8zM64.6 298.4h0.8v0.8h-0.8zM55.4 300.0h0.8v0.8h-0.8zM71.8 303.9h0.8v0.8h-0.8zM63.1 303.5h0.8v0.8h-0.8zM64.2 299.7h0.8v0.8h-0.8zM73.9 303.7h0.8v0.8h-0.8zM59.9 302.4h0.8v0.8h-0.8zM57.0 307.7h0.8v0.8h-0.8zM75.3 308.0h0.8v0.8h-0.8zM63.7 293.6h0.8v0.8h-0.8zM68.3 306.4h0.8v0.8h-0.8zM67.6 301.9h0.8v0.8h-0.8zM57.3 307.7h0.8v0.8h-0.8zM71.3 290.5h0.8v0.8h-0.8zM62.4 306.7h0.8v0.8h-0.8zM70.5 297.7h0.8v0.8h-0.8zM72.5 275.6h0.8v0.8h-0.8zM66.0 309.3h0.8v0.8h-0.8zM66.8 303.4h0.8v0.8h-0.8zM70.4 310.1h0.8v0.8h-0.8zM72.0 294.7h0.8v0.8h-0.8zM79.4 298.2h0.8v0.8h-0.8zM71.0 298.2h0.8v0.8h-0.8zM63.3 310.2h0.8v0.8h-0.8zM82.5 289.9h0.8v0.8h-0.8zM68.8 306.2h0.8v0.8h-0.8zM54.8 297.5h0.8v0.8h-0.8zM63.4 292.3h0.8v0.8h-0.8zM60.7 308.2h0.8v0.8h-0.8zM74.4 303.2h0.8v0.8h-0.8zM76.6 295.3h0.8v0.8h-0.8zM67.8 295.9h0.8v0.8h-0.8zM67.1 305.7h0.8v0.8h-0.8zM76.2 302.5h0.8v0.8h-0.8zM77.4 300.1h0.8v0.8h-0.8zM68.4 294.2h0.8v0.8h-0.8zM64.3 295.8h0.8v0.8h-0.8zM63.5 295.2h0.8v0.8h-0.8zM63.6 295.7h0.8v0.8h-0.8zM69.4 296.7h0.8v0.8h-0.8zM53.4 297.9h0.8v0.8h-0.8zM71.0 300.4h0.8v0.8h-0.8zM59.5 294.3h0.8v0.8h-0.8zM74.9 311.3h0.8v0.8h-0.8zM60.1 309.0h0.8v0.8h-0.8zM72.0 312.2h0.8v0.8h-0.8zM62.0 297.7h0.8v0.8h-0.8zM69.5 301.7h0.8v0.8h-0.8zM71.7 304.0h0.8v0.8h-0.8zM60.0 305.8h0.8v0.8h-0.8zM54.2 299.7h0.8v0.8h-0.8zM70.9 300.7h0.8v0.8h-0.8zM66.8 305.8h0.8v0.8h-0.8zM64.8 287.5h0.8v0.8h-0.8zM68.1 286.9h0.8v0.8h-0.8zM64.1 301.2h0.8v0.8h-0.8zM68.0 295.4h0.8v0.8h-0.8zM62.3 303.1h0.8v0.8h-0.8zM69.0 292.1h0.8v0.8h-0.8zM62.6 305.5h0.8v0.8h-0.8zM70.1 306.2h0.8v0.8h-0.8zM62.4 292.3h0.8v0.8h-0.8zM72.2 293.4h0.8v0.8h-0.8zM65.3 292.6h0.8v0.8h-0.8zM58.8 293.4h0.8v0.8h-0.8zM60.0 304.1h0.8v0.8h-0.8zM64.6 289.1h0.8v0.8h-0.8zM61.1 306.1h0.8v0.8h-0.8zM54.0 290.1h0.8v0.8h-0.8zM58.4 304.0h0.8v0.8h-0.8zM67.5 308.2h0.8v0.8h-0.8zM65.1 299.0h0.8v0.8h-0.8zM64.8 302.1h0.8v0.8h-0.8zM67.2 303.5h0.8v0.8h-0.8zM76.7 299.4h0.8v0.8h-0.8zM63.9 304.4h0.8v0.8h-0.8zM75.6 282.9h0.8v0.8h-0.8zM54.2 296.4h0.8v0.8h-0.8zM82.6 297.7h0.8v0.8h-0.8zM63.6 298.0h0.8v0.8h-0.8zM64.6 303.4h0.8v0.8h-0.8zM59.8 292.1h0.8v0.8h-0.8zM57.8 307.1h0.8v0.8h-0.8zM62.5 305.3h0.8v0.8h-0.8zM51.5 299.0h0.8v0.8h-0.8zM62.0 303.9h0.8v0.8h-0.8zM62.8 292.6h0.8v0.8h-0.8zM75.6 294.5h0.8v0.8h-0.8zM74.6 285.1h0.8v0.8h-0.8zM67.7 304.3h0.8v0.8h-0.8zM64.3 298.4h0.8v0.8h-0.8zM73.7 297.7h0.8v0.8h-0.8zM58.8 306.8h0.8v0.8h-0.8zM53.8 298.1h0.8v0.8h-0.8zM73.6 291.9h0.8v0.8h-0.8zM62.8 301.2h0.8v0.8h-0.8zM59.8 302.6h0.8v0.8h-0.8zM66.2 298.2h0.8v0.8h-0.8zM66.7 311.0h0.8v0.8h-0.8zM76.5 295.0h0.8v0.8h-0.8zM57.0 303.9h0.8v0.8h-0.8zM64.3 300.6h0.8v0.8h-0.8zM72.9 292.7h0.8v0.8h-0.8zM70.8 309.8h0.8v0.8h-0.8zM57.2 303.8h0.8v0.8h-0.8zM64.5 294.5h0.8v0.8h-0.8zM59.0 301.7h0.8v0.8h-0.8zM60.3 295.2h0.8v0.8h-0.8zM65.9 306.5h0.8v0.8h-0.8zM63.7 294.9h0.8v0.8h-0.8zM77.0 291.6h0.8v0.8h-0.8zM66.5 311.1h0.8v0.8h-0.8zM68.9 303.3h0.8v0.8h-0.8zM62.4 309.5h0.8v0.8h-0.8zM65.0 301.5h0.8v0.8h-0.8zM77.9 303.9h0.8v0.8h-0.8zM62.4 303.1h0.8v0.8h-0.8zM61.3 298.9h0.8v0.8h-0.8zM76.1 293.8h0.8v0.8h-0.8zM69.9 298.1h0.8v0.8h-0.8zM64.3 307.2h0.8v0.8h-0.8zM74.1 300.8h0.8v0.8h-0.8zM80.0 293.0h0.8v0.8h-0.8zM59.2 300.0h0.8v0.8h-0.8zM66.5 299.6h0.8v0.8h-0.8zM68.4 300.7h0.8v0.8h-0.8zM65.0 293.3h0.8v0.8h-0.8zM63.5 306.8h0.8v0.8h-0.8zM76.1 295.3h0.8v0.8h-0.8zM74.7 296.9h0.8v0.8h-0.8zM64.4 308.4h0.8v0.8h-0.8zM69.4 303.5h0.8v0.8h-0.8zM76.1 296.7h0.8v0.8h-0.8zM57.1 304.0h0.8v0.8h-0.8zM59.8 298.0h0.8v0.8h-0.8zM59.6 283.2h0.8v0.8h-0.8zM56.4 306.8h0.8v0.8h-0.8zM62.6 301.0h0.8v0.8h-0.8zM78.7 297.3h0.8v0.8h-0.8zM58.9 300.5h0.8v0.8h-0.8zM50.1 294.5h0.8v0.8h-0.8zM66.7 295.1h0.8v0.8h-0.8zM68.4 300.2h0.8v0.8h-0.8zM68.5 301.3h0.8v0.8h-0.8zM70.2 300.6h0.8v0.8h-0.8zM71.8 302.3h0.8v0.8h-0.8zM70.1 295.7h0.8v0.8h-0.8zM55.2 303.8h0.8v0.8h-0.8zM64.6 299.6h0.8v0.8h-0.8zM62.0 283.9h0.8v0.8h-0.8zM72.7 293.1h0.8v0.8h-0.8zM79.9 296.2h0.8v0.8h-0.8zM65.4 301.2h0.8v0.8h-0.8zM78.5 285.4h0.8v0.8h-0.8zM57.8 299.6h0.8v0.8h-0.8zM62.1 306.5h0.8v0.8h-0.8zM67.2 307.5h0.8v0.8h-0.8zM64.7 302.8h0.8v0.8h-0.8zM72.0 286.2h0.8v0.8h-0.8zM64.4 296.5h0.8v0.8h-0.8zM61.3 305.3h0.8v0.8h-0.8zM75.1 294.0h0.8v0.8h-0.8zM60.4 306.2h0.8v0.8h-0.8zM72.5 286.2h0.8v0.8h-0.8zM67.5 306.9h0.8v0.8h-0.8zM57.7 304.3h0.8v0.8h-0.8zM72.4 304.8h0.8v0.8h-0.8zM77.5 296.0h0.8v0.8h-0.8zM69.4 303.8h0.8v0.8h-0.8zM72.6 295.0h0.8v0.8h-0.8zM70.5 302.5h0.8v0.8h-0.8zM68.1 293.5h0.8v0.8h-0.8zM73.8 294.7h0.8v0.8h-0.8zM60.4 291.9h0.8v0.8h-0.8zM65.1 294.6h0.8v0.8h-0.8zM60.3 294.6h0.8v0.8h-0.8zM60.1 283.8h0.8v0.8h-0.8zM57.8 301.5h0.8v0.8h-0.8zM61.3 302.7h0.8v0.8h-0.8zM55.1 288.8h0.8v0.8h-0.8zM69.9 311.8h0.8v0.8h-0.8zM65.7 284.8h0.8v0.8h-0.8zM66.7 294.9h0.8v0.8h-0.8zM69.9 297.9h0.8v0.8h-0.8zM52.0 292.3h0.8v0.8h-0.8zM67.8 301.7h0.8v0.8h-0.8zM67.7 291.0h0.8v0.8h-0.8zM64.5 301.6h0.8v0.8h-0.8zM63.2 292.4h0.8v0.8h-0.8zM71.6 299.9h0.8v0.8h-0.8zM74.9 302.0h0.8v0.8h-0.8zM56.3 302.7h0.8v0.8h-0.8zM59.1 302.0h0.8v0.8h-0.8zM57.8 301.7h0.8v0.8h-0.8zM55.1 300.7h0.8v0.8h-0.8zM74.2 301.6h0.8v0.8h-0.8zM65.2 303.4h0.8v0.8h-0.8zM69.8 310.0h0.8v0.8h-0.8zM59.5 304.1h0.8v0.8h-0.8zM74.5 302.4h0.8v0.8h-0.8zM60.6 302.1h0.8v0.8h-0.8zM62.4 305.6h0.8v0.8h-0.8zM76.0 311.7h0.8v0.8h-0.8zM79.7 303.2h0.8v0.8h-0.8zM52.5 295.3h0.8v0.8h-0.8zM60.4 295.2h0.8v0.8h-0.8zM64.6 289.3h0.8v0.8h-0.8zM74.3 305.7h0.8v0.8h-0.8zM63.6 285.9h0.8v0.8h-0.8zM79.3 291.2h0.8v0.8h-0.8zM64.4 294.7h0.8v0.8h-0.8zM60.1 297.3h0.8v0.8h-0.8zM63.9 302.7h0.8v0.8h-0.8zM74.5 307.8h0.8v0.8h-0.8zM52.1 288.6h0.8v0.8h-0.8zM59.4 307.4h0.8v0.8h-0.8zM66.8 306.8h0.8v0.8h-0.8zM67.1 291.6h0.8v0.8h-0.8zM65.5 297.3h0.8v0.8h-0.8zM71.5 312.1h0.8v0.8h-0.8zM60.7 298.8h0.8v0.8h-0.8zM78.4 297.1h0.8v0.8h-0.8zM56.5 305.6h0.8v0.8h-0.8zM63.1 305.4h0.8v0.8h-0.8zM73.9 300.9h0.8v0.8h-0.8zM66.2 299.3h0.8v0.8h-0.8zM60.7 297.2h0.8v0.8h-0.8zM63.2 302.2h0.8v0.8h-0.8zM57.5 298.9h0.8v0.8h-0.8zM72.3 307.7h0.8v0.8h-0.8zM65.9 296.3h0.8v0.8h-0.8zM58.7 297.3h0.8v0.8h-0.8zM57.6 303.3h0.8v0.8h-0.8zM65.8 289.6h0.8v0.8h-0.8zM67.5 300.4h0.8v0.8h-0.8zM56.3 298.0h0.8v0.8h-0.8zM58.1 304.8h0.8v0.8h-0.8zM52.3 290.8h0.8v0.8h-0.8zM61.3 299.8h0.8v0.8h-0.8zM61.9 293.0h0.8v0.8h-0.8zM66.2 303.2h0.8v0.8h-0.8zM71.0 296.1h0.8v0.8h-0.8zM60.4 304.2h0.8v0.8h-0.8zM64.8 292.2h0.8v0.8h-0.8zM70.0 305.9h0.8v0.8h-0.8zM63.4 306.8h0.8v0.8h-0.8zM66.9 302.8h0.8v0.8h-0.8zM59.6 296.6h0.8v0.8h-0.8zM61.5 302.4h0.8v0.8h-0.8zM64.3 304.9h0.8v0.8h-0.8zM56.4 306.3h0.8v0.8h-0.8zM68.1 297.8h0.8v0.8h-0.8zM68.9 304.0h0.8v0.8h-0.8zM63.7 299.6h0.8v0.8h-0.8zM66.9 302.0h0.8v0.8h-0.8zM66.0 283.9h0.8v0.8h-0.8zM54.3 288.8h0.8v0.8h-0.8zM81.0 279.0h0.8v0.8h-0.8zM65.9 301.4h0.8v0.8h-0.8zM87.0 293.7h0.8v0.8h-0.8zM69.4 309.9h0.8v0.8h-0.8zM56.1 278.3h0.8v0.8h-0.8zM79.7 291.4h0.8v0.8h-0.8zM73.5 291.5h0.8v0.8h-0.8zM73.2 274.9h0.8v0.8h-0.8zM83.2 287.9h0.8v0.8h-0.8zM56.7 287.9h0.8v0.8h-0.8zM53.5 276.8h0.8v0.8h-0.8zM76.4 277.8h0.8v0.8h-0.8zM79.7 297.1h0.8v0.8h-0.8zM63.2 287.8h0.8v0.8h-0.8zM54.8 283.9h0.8v0.8h-0.8zM86.8 285.5h0.8v0.8h-0.8zM81.9 278.0h0.8v0.8h-0.8zM61.6 310.9h0.8v0.8h-0.8zM73.1 287.8h0.8v0.8h-0.8zM76.5 287.7h0.8v0.8h-0.8zM88.7 264.6h0.8v0.8h-0.8zM75.5 282.2h0.8v0.8h-0.8zM86.6 301.4h0.8v0.8h-0.8zM86.6 280.2h0.8v0.8h-0.8zM56.2 286.7h0.8v0.8h-0.8zM84.5 288.1h0.8v0.8h-0.8zM60.3 287.7h0.8v0.8h-0.8zM76.9 290.5h0.8v0.8h-0.8zM73.1 309.4h0.8v0.8h-0.8zM50.8 289.3h0.8v0.8h-0.8zM79.4 291.6h0.8v0.8h-0.8zM95.6 281.5h0.8v0.8h-0.8zM67.7 291.8h0.8v0.8h-0.8zM90.8 295.6h0.8v0.8h-0.8zM68.8 286.3h0.8v0.8h-0.8zM56.5 296.5h0.8v0.8h-0.8zM91.1 279.8h0.8v0.8h-0.8zM65.5 278.9h0.8v0.8h-0.8zM61.7 285.9h0.8v0.8h-0.8zM47.3 281.5h0.8v0.8h-0.8zM49.4 285.9h0.8v0.8h-0.8zM88.7 294.1h0.8v0.8h-0.8zM86.1 275.3h0.8v0.8h-0.8zM64.4 299.1h0.8v0.8h-0.8zM64.9 286.6h0.8v0.8h-0.8zM68.4 298.1h0.8v0.8h-0.8zM80.2 275.6h0.8v0.8h-0.8zM74.4 297.4h0.8v0.8h-0.8zM65.7 308.9h0.8v0.8h-0.8zM65.1 297.8h0.8v0.8h-0.8zM75.8 280.8h0.8v0.8h-0.8zM77.3 270.5h0.8v0.8h-0.8zM65.7 281.4h0.8v0.8h-0.8zM61.6 294.2h0.8v0.8h-0.8zM89.6 309.8h0.8v0.8h-0.8zM83.4 294.4h0.8v0.8h-0.8zM85.6 307.1h0.8v0.8h-0.8zM64.8 291.3h0.8v0.8h-0.8zM70.5 286.4h0.8v0.8h-0.8zM82.1 280.6h0.8v0.8h-0.8zM73.5 271.8h0.8v0.8h-0.8zM55.2 283.4h0.8v0.8h-0.8zM86.2 278.0h0.8v0.8h-0.8zM90.3 274.5h0.8v0.8h-0.8zM46.6 282.8h0.8v0.8h-0.8zM76.7 295.0h0.8v0.8h-0.8zM59.2 285.3h0.8v0.8h-0.8zM78.0 288.2h0.8v0.8h-0.8zM83.7 290.0h0.8v0.8h-0.8zM87.6 296.6h0.8v0.8h-0.8zM67.8 291.7h0.8v0.8h-0.8zM95.6 285.8h0.8v0.8h-0.8zM69.9 295.4h0.8v0.8h-0.8zM97.4 287.9h0.8v0.8h-0.8zM66.4 292.6h0.8v0.8h-0.8zM70.6 292.7h0.8v0.8h-0.8zM56.8 300.1h0.8v0.8h-0.8zM90.2 294.5h0.8v0.8h-0.8zM46.2 283.6h0.8v0.8h-0.8zM82.9 291.5h0.8v0.8h-0.8zM55.9 287.5h0.8v0.8h-0.8zM78.5 302.5h0.8v0.8h-0.8zM81.0 302.8h0.8v0.8h-0.8zM71.3 290.4h0.8v0.8h-0.8zM75.5 294.9h0.8v0.8h-0.8zM84.9 292.2h0.8v0.8h-0.8zM59.7 273.5h0.8v0.8h-0.8zM70.7 294.1h0.8v0.8h-0.8zM58.3 290.1h0.8v0.8h-0.8zM67.8 284.5h0.8v0.8h-0.8zM60.3 278.2h0.8v0.8h-0.8zM93.5 274.0h0.8v0.8h-0.8zM57.5 295.7h0.8v0.8h-0.8zM61.2 280.2h0.8v0.8h-0.8zM65.3 273.8h0.8v0.8h-0.8zM76.0 270.8h0.8v0.8h-0.8zM97.7 279.4h0.8v0.8h-0.8zM62.6 293.0h0.8v0.8h-0.8zM50.3 293.7h0.8v0.8h-0.8zM55.4 289.5h0.8v0.8h-0.8zM76.1 294.7h0.8v0.8h-0.8zM76.5 289.6h0.8v0.8h-0.8zM56.4 300.7h0.8v0.8h-0.8zM78.8 280.7h0.8v0.8h-0.8zM76.7 289.1h0.8v0.8h-0.8zM88.5 292.0h0.8v0.8h-0.8zM81.5 294.0h0.8v0.8h-0.8zM74.5 281.1h0.8v0.8h-0.8zM72.8 289.1h0.8v0.8h-0.8zM80.4 286.7h0.8v0.8h-0.8zM74.3 286.6h0.8v0.8h-0.8zM79.6 293.6h0.8v0.8h-0.8zM90.1 294.3h0.8v0.8h-0.8zM73.5 273.5h0.8v0.8h-0.8zM85.4 284.8h0.8v0.8h-0.8zM80.0 283.2h0.8v0.8h-0.8zM68.7 298.9h0.8v0.8h-0.8zM88.9 283.2h0.8v0.8h-0.8zM69.2 295.5h0.8v0.8h-0.8zM51.0 262.9h0.8v0.8h-0.8zM63.2 300.5h0.8v0.8h-0.8zM71.8 281.5h0.8v0.8h-0.8zM77.3 284.7h0.8v0.8h-0.8zM74.1 281.6h0.8v0.8h-0.8zM68.5 285.6h0.8v0.8h-0.8zM84.9 286.2h0.8v0.8h-0.8zM82.0 267.6h0.8v0.8h-0.8zM60.0 289.2h0.8v0.8h-0.8zM68.0 290.1h0.8v0.8h-0.8zM60.7 276.5h0.8v0.8h-0.8zM66.5 283.8h0.8v0.8h-0.8zM65.8 278.6h0.8v0.8h-0.8zM80.0 282.4h0.8v0.8h-0.8zM68.9 308.6h0.8v0.8h-0.8zM72.0 299.8h0.8v0.8h-0.8zM67.6 292.4h0.8v0.8h-0.8zM74.6 278.7h0.8v0.8h-0.8zM75.8 275.0h0.8v0.8h-0.8zM61.3 281.3h0.8v0.8h-0.8zM75.4 297.6h0.8v0.8h-0.8zM75.9 283.1h0.8v0.8h-0.8zM59.6 278.6h0.8v0.8h-0.8zM82.1 290.5h0.8v0.8h-0.8zM66.2 271.8h0.8v0.8h-0.8zM86.5 281.1h0.8v0.8h-0.8zM82.9 294.0h0.8v0.8h-0.8zM74.3 286.3h0.8v0.8h-0.8zM71.8 290.3h0.8v0.8h-0.8zM64.7 291.5h0.8v0.8h-0.8zM70.4 303.4h0.8v0.8h-0.8zM73.8 278.7h0.8v0.8h-0.8zM73.8 271.7h0.8v0.8h-0.8zM81.2 287.7h0.8v0.8h-0.8zM70.9 277.7h0.8v0.8h-0.8zM75.5 281.1h0.8v0.8h-0.8zM62.6 295.9h0.8v0.8h-0.8zM71.5 277.6h0.8v0.8h-0.8zM93.1 296.5h0.8v0.8h-0.8zM69.7 300.2h0.8v0.8h-0.8zM60.8 296.5h0.8v0.8h-0.8zM89.6 297.9h0.8v0.8h-0.8zM81.5 299.8h0.8v0.8h-0.8zM65.0 291.2h0.8v0.8h-0.8zM83.2 311.6h0.8v0.8h-0.8zM87.1 272.5h0.8v0.8h-0.8zM58.3 282.8h0.8v0.8h-0.8zM85.6 294.2h0.8v0.8h-0.8zM57.0 278.8h0.8v0.8h-0.8zM70.3 307.7h0.8v0.8h-0.8zM74.5 283.2h0.8v0.8h-0.8zM61.3 273.1h0.8v0.8h-0.8zM69.4 300.6h0.8v0.8h-0.8zM75.4 281.9h0.8v0.8h-0.8zM76.2 286.5h0.8v0.8h-0.8zM77.4 291.1h0.8v0.8h-0.8zM63.8 291.2h0.8v0.8h-0.8zM70.2 294.9h0.8v0.8h-0.8zM80.1 298.0h0.8v0.8h-0.8zM57.2 284.7h0.8v0.8h-0.8zM54.1 272.4h0.8v0.8h-0.8zM53.6 272.3h0.8v0.8h-0.8zM55.5 274.9h0.8v0.8h-0.8zM57.2 281.3h0.8v0.8h-0.8zM49.4 288.9h0.8v0.8h-0.8zM58.7 276.6h0.8v0.8h-0.8zM55.9 278.4h0.8v0.8h-0.8zM53.8 285.9h0.8v0.8h-0.8zM58.0 278.0h0.8v0.8h-0.8zM53.5 273.5h0.8v0.8h-0.8zM53.6 276.7h0.8v0.8h-0.8zM55.3 280.3h0.8v0.8h-0.8zM57.6 269.3h0.8v0.8h-0.8zM49.2 271.8h0.8v0.8h-0.8zM58.2 277.7h0.8v0.8h-0.8zM59.2 276.3h0.8v0.8h-0.8zM55.3 286.4h0.8v0.8h-0.8zM58.0 282.1h0.8v0.8h-0.8zM55.4 272.9h0.8v0.8h-0.8zM50.7 284.6h0.8v0.8h-0.8zM57.4 280.5h0.8v0.8h-0.8zM53.1 289.8h0.8v0.8h-0.8zM54.0 278.2h0.8v0.8h-0.8zM55.0 276.9h0.8v0.8h-0.8zM55.3 278.2h0.8v0.8h-0.8zM58.7 277.9h0.8v0.8h-0.8zM57.7 272.4h0.8v0.8h-0.8zM57.0 263.7h0.8v0.8h-0.8zM60.2 267.8h0.8v0.8h-0.8zM53.0 285.6h0.8v0.8h-0.8zM63.3 273.3h0.8v0.8h-0.8zM54.0 271.6h0.8v0.8h-0.8zM59.0 282.4h0.8v0.8h-0.8zM57.8 281.7h0.8v0.8h-0.8zM56.4 280.9h0.8v0.8h-0.8zM59.8 268.1h0.8v0.8h-0.8zM58.3 272.6h0.8v0.8h-0.8zM54.2 278.3h0.8v0.8h-0.8zM58.5 279.2h0.8v0.8h-0.8zM63.7 272.9h0.8v0.8h-0.8zM58.2 276.3h0.8v0.8h-0.8zM49.3 289.7h0.8v0.8h-0.8zM60.5 283.4h0.8v0.8h-0.8zM57.2 286.6h0.8v0.8h-0.8zM53.6 276.6h0.8v0.8h-0.8zM56.6 271.0h0.8v0.8h-0.8zM57.8 281.2h0.8v0.8h-0.8zM52.4 284.6h0.8v0.8h-0.8zM60.6 272.8h0.8v0.8h-0.8zM58.4 276.4h0.8v0.8h-0.8zM51.5 281.7h0.8v0.8h-0.8zM56.0 270.7h0.8v0.8h-0.8zM59.2 276.7h0.8v0.8h-0.8zM56.9 282.0h0.8v0.8h-0.8zM55.2 269.8h0.8v0.8h-0.8zM60.0 267.6h0.8v0.8h-0.8zM55.2 276.8h0.8v0.8h-0.8zM54.1 285.6h0.8v0.8h-0.8zM57.0 278.2h0.8v0.8h-0.8z" fill="#2a6330" fill-opacity="0.85"/>
<path d="M71.3 284.8h0.7v0.7h-0.7zM72.0 277.7h0.7v0.7h-0.7zM66.1 283.0h0.7v0.7h-0.7zM83.4 297.9h0.7v0.7h-0.7zM76.6 294.3h0.7v0.7h-0.7zM74.3 300.4h0.7v0.7h-0.7zM67.8 300.9h0.7v0.7h-0.7zM65.3 271.2h0.7v0.7h-0.7zM87.7 286.0h0.7v0.7h-0.7zM78.8 308.1h0.7v0.7h-0.7zM60.9 294.5h0.7v0.7h-0.7zM67.7 300.5h0.7v0.7h-0.7zM73.7 277.4h0.7v0.7h-0.7zM63.9 294.8h0.7v0.7h-0.7zM77.3 298.0h0.7v0.7h-0.7zM55.0 298.4h0.7v0.7h-0.7zM75.7 300.9h0.7v0.7h-0.7zM70.4 291.9h0.7v0.7h-0.7zM74.5 272.8h0.7v0.7h-0.7zM61.9 299.1h0.7v0.7h-0.7zM74.3 304.8h0.7v0.7h-0.7zM56.9 292.7h0.7v0.7h-0.7zM75.2 292.9h0.7v0.7h-0.7zM81.2 293.8h0.7v0.7h-0.7zM57.0 297.0h0.7v0.7h-0.7zM82.3 283.3h0.7v0.7h-0.7zM87.2 278.6h0.7v0.7h-0.7zM69.4 304.1h0.7v0.7h-0.7zM72.7 302.5h0.7v0.7h-0.7zM61.2 288.7h0.7v0.7h-0.7zM58.3 292.9h0.7v0.7h-0.7zM84.8 290.1h0.7v0.7h-0.7zM88.8 294.7h0.7v0.7h-0.7zM65.6 297.5h0.7v0.7h-0.7zM69.1 272.5h0.7v0.7h-0.7zM71.3 295.5h0.7v0.7h-0.7zM88.1 274.9h0.7v0.7h-0.7zM83.3 288.7h0.7v0.7h-0.7zM67.8 302.8h0.7v0.7h-0.7zM70.1 296.9h0.7v0.7h-0.7zM70.8 297.2h0.7v0.7h-0.7zM64.8 309.3h0.7v0.7h-0.7zM65.5 298.5h0.7v0.7h-0.7zM62.7 306.0h0.7v0.7h-0.7zM79.0 274.6h0.7v0.7h-0.7zM83.8 289.9h0.7v0.7h-0.7zM70.0 281.5h0.7v0.7h-0.7zM75.3 287.0h0.7v0.7h-0.7zM92.3 294.7h0.7v0.7h-0.7zM97.7 279.0h0.7v0.7h-0.7zM79.3 310.0h0.7v0.7h-0.7zM80.7 285.4h0.7v0.7h-0.7zM68.4 312.5h0.7v0.7h-0.7zM93.4 289.7h0.7v0.7h-0.7zM64.0 283.6h0.7v0.7h-0.7zM77.6 277.7h0.7v0.7h-0.7zM80.0 278.5h0.7v0.7h-0.7zM83.8 293.5h0.7v0.7h-0.7zM62.6 280.7h0.7v0.7h-0.7zM60.5 295.0h0.7v0.7h-0.7zM88.2 311.3h0.7v0.7h-0.7zM51.6 290.2h0.7v0.7h-0.7zM77.4 278.6h0.7v0.7h-0.7zM72.0 291.1h0.7v0.7h-0.7zM55.8 298.6h0.7v0.7h-0.7zM81.2 294.0h0.7v0.7h-0.7zM73.8 291.0h0.7v0.7h-0.7zM79.1 297.0h0.7v0.7h-0.7zM87.0 302.0h0.7v0.7h-0.7zM86.0 286.5h0.7v0.7h-0.7zM65.3 288.7h0.7v0.7h-0.7zM56.4 297.4h0.7v0.7h-0.7zM92.9 296.0h0.7v0.7h-0.7zM71.4 294.3h0.7v0.7h-0.7zM74.7 291.5h0.7v0.7h-0.7zM76.2 299.3h0.7v0.7h-0.7zM72.9 281.7h0.7v0.7h-0.7zM76.0 278.8h0.7v0.7h-0.7zM67.2 292.7h0.7v0.7h-0.7zM76.1 303.0h0.7v0.7h-0.7zM81.2 303.1h0.7v0.7h-0.7zM75.3 285.1h0.7v0.7h-0.7zM81.1 298.7h0.7v0.7h-0.7zM69.3 279.9h0.7v0.7h-0.7zM61.6 285.3h0.7v0.7h-0.7zM78.2 286.2h0.7v0.7h-0.7zM56.2 293.9h0.7v0.7h-0.7zM65.9 279.8h0.7v0.7h-0.7zM91.4 274.9h0.7v0.7h-0.7zM66.9 299.4h0.7v0.7h-0.7zM63.7 306.5h0.7v0.7h-0.7zM90.0 286.0h0.7v0.7h-0.7zM69.7 304.4h0.7v0.7h-0.7zM74.1 282.2h0.7v0.7h-0.7zM72.0 303.6h0.7v0.7h-0.7zM75.1 281.8h0.7v0.7h-0.7zM85.4 279.5h0.7v0.7h-0.7zM70.2 284.3h0.7v0.7h-0.7zM61.9 290.8h0.7v0.7h-0.7zM82.9 297.3h0.7v0.7h-0.7zM92.8 283.2h0.7v0.7h-0.7zM62.5 282.7h0.7v0.7h-0.7zM74.7 304.0h0.7v0.7h-0.7zM70.1 288.4h0.7v0.7h-0.7zM74.8 293.2h0.7v0.7h-0.7zM78.1 292.3h0.7v0.7h-0.7zM81.1 269.9h0.7v0.7h-0.7zM88.3 296.2h0.7v0.7h-0.7zM74.8 284.1h0.7v0.7h-0.7zM49.5 291.8h0.7v0.7h-0.7zM83.7 285.0h0.7v0.7h-0.7zM54.8 300.2h0.7v0.7h-0.7zM81.9 291.9h0.7v0.7h-0.7zM90.6 280.3h0.7v0.7h-0.7zM66.7 297.6h0.7v0.7h-0.7zM96.5 299.0h0.7v0.7h-0.7zM63.9 286.5h0.7v0.7h-0.7zM51.0 289.7h0.7v0.7h-0.7zM64.9 302.8h0.7v0.7h-0.7zM74.5 293.7h0.7v0.7h-0.7zM72.7 301.0h0.7v0.7h-0.7zM78.5 285.2h0.7v0.7h-0.7zM58.1 292.3h0.7v0.7h-0.7zM96.4 292.3h0.7v0.7h-0.7zM63.4 282.0h0.7v0.7h-0.7zM71.8 287.5h0.7v0.7h-0.7zM79.5 290.7h0.7v0.7h-0.7zM76.3 280.2h0.7v0.7h-0.7zM85.0 290.7h0.7v0.7h-0.7zM91.0 284.3h0.7v0.7h-0.7zM85.5 289.0h0.7v0.7h-0.7zM66.7 285.9h0.7v0.7h-0.7zM85.2 282.2h0.7v0.7h-0.7zM86.0 303.8h0.7v0.7h-0.7zM86.6 274.5h0.7v0.7h-0.7zM56.1 289.3h0.7v0.7h-0.7zM74.4 270.8h0.7v0.7h-0.7zM82.0 280.2h0.7v0.7h-0.7zM89.6 285.5h0.7v0.7h-0.7zM74.3 271.4h0.7v0.7h-0.7zM69.0 289.8h0.7v0.7h-0.7zM66.4 280.5h0.7v0.7h-0.7zM75.8 282.7h0.7v0.7h-0.7zM71.7 279.8h0.7v0.7h-0.7zM72.7 279.2h0.7v0.7h-0.7zM75.9 296.2h0.7v0.7h-0.7zM73.2 305.6h0.7v0.7h-0.7zM64.7 282.7h0.7v0.7h-0.7zM65.5 296.0h0.7v0.7h-0.7zM57.5 276.4h0.7v0.7h-0.7zM52.3 276.5h0.7v0.7h-0.7zM64.3 285.2h0.7v0.7h-0.7zM79.5 290.8h0.7v0.7h-0.7zM81.9 311.8h0.7v0.7h-0.7zM75.9 275.7h0.7v0.7h-0.7zM69.8 302.3h0.7v0.7h-0.7zM89.3 281.8h0.7v0.7h-0.7zM74.5 301.2h0.7v0.7h-0.7zM87.6 293.1h0.7v0.7h-0.7zM74.3 288.1h0.7v0.7h-0.7zM91.6 291.1h0.7v0.7h-0.7zM66.0 291.5h0.7v0.7h-0.7zM70.4 308.6h0.7v0.7h-0.7zM61.7 263.8h0.7v0.7h-0.7zM61.1 308.0h0.7v0.7h-0.7zM90.9 296.8h0.7v0.7h-0.7zM79.3 289.7h0.7v0.7h-0.7zM78.1 286.2h0.7v0.7h-0.7zM65.2 303.2h0.7v0.7h-0.7zM72.2 280.0h0.7v0.7h-0.7zM85.8 302.3h0.7v0.7h-0.7zM84.2 287.1h0.7v0.7h-0.7zM71.1 298.7h0.7v0.7h-0.7zM75.6 313.7h0.7v0.7h-0.7zM75.1 285.4h0.7v0.7h-0.7zM68.3 277.2h0.7v0.7h-0.7zM57.9 278.4h0.7v0.7h-0.7zM65.1 293.1h0.7v0.7h-0.7zM63.0 273.8h0.7v0.7h-0.7zM72.3 294.3h0.7v0.7h-0.7zM74.2 285.6h0.7v0.7h-0.7zM72.6 289.3h0.7v0.7h-0.7zM62.8 288.6h0.7v0.7h-0.7zM59.2 293.5h0.7v0.7h-0.7zM78.9 274.8h0.7v0.7h-0.7zM59.4 291.5h0.7v0.7h-0.7zM76.4 310.1h0.7v0.7h-0.7zM87.0 299.3h0.7v0.7h-0.7zM70.9 273.0h0.7v0.7h-0.7zM76.2 289.4h0.7v0.7h-0.7zM70.7 292.3h0.7v0.7h-0.7zM96.1 301.0h0.7v0.7h-0.7zM64.5 298.5h0.7v0.7h-0.7zM59.4 291.0h0.7v0.7h-0.7zM75.7 294.7h0.7v0.7h-0.7zM74.3 287.2h0.7v0.7h-0.7zM77.3 302.3h0.7v0.7h-0.7zM60.0 281.3h0.7v0.7h-0.7zM84.5 293.8h0.7v0.7h-0.7zM66.8 282.8h0.7v0.7h-0.7zM70.1 282.8h0.7v0.7h-0.7zM89.4 301.0h0.7v0.7h-0.7zM57.5 289.8h0.7v0.7h-0.7zM69.6 295.3h0.7v0.7h-0.7zM72.9 302.2h0.7v0.7h-0.7zM82.8 279.8h0.7v0.7h-0.7zM85.2 288.4h0.7v0.7h-0.7zM72.2 307.7h0.7v0.7h-0.7zM77.6 281.3h0.7v0.7h-0.7zM85.9 307.0h0.7v0.7h-0.7zM58.1 296.4h0.7v0.7h-0.7zM67.7 306.3h0.7v0.7h-0.7zM89.7 291.3h0.7v0.7h-0.7zM59.3 298.5h0.7v0.7h-0.7zM64.8 304.2h0.7v0.7h-0.7zM71.1 304.5h0.7v0.7h-0.7zM90.9 282.0h0.7v0.7h-0.7zM66.6 295.1h0.7v0.7h-0.7zM88.1 292.8h0.7v0.7h-0.7zM56.0 285.8h0.7v0.7h-0.7zM70.2 288.6h0.7v0.7h-0.7zM74.3 273.7h0.7v0.7h-0.7zM72.2 284.4h0.7v0.7h-0.7zM68.6 280.8h0.7v0.7h-0.7zM82.0 301.5h0.7v0.7h-0.7zM89.1 295.6h0.7v0.7h-0.7zM60.1 282.7h0.7v0.7h-0.7zM69.9 296.9h0.7v0.7h-0.7zM91.9 286.2h0.7v0.7h-0.7zM76.7 283.2h0.7v0.7h-0.7zM76.8 282.1h0.7v0.7h-0.7zM101.8 280.3h0.7v0.7h-0.7zM48.7 274.8h0.7v0.7h-0.7zM58.5 289.1h0.7v0.7h-0.7zM74.3 285.0h0.7v0.7h-0.7zM72.5 276.2h0.7v0.7h-0.7zM93.8 304.9h0.7v0.7h-0.7zM58.0 273.0h0.7v0.7h-0.7zM64.1 281.8h0.7v0.7h-0.7zM82.0 301.0h0.7v0.7h-0.7zM84.0 291.6h0.7v0.7h-0.7zM91.2 278.9h0.7v0.7h-0.7zM56.2 297.7h0.7v0.7h-0.7zM62.1 288.8h0.7v0.7h-0.7zM71.3 278.4h0.7v0.7h-0.7zM82.2 273.8h0.7v0.7h-0.7zM62.6 284.3h0.7v0.7h-0.7zM56.9 284.8h0.7v0.7h-0.7zM54.4 300.0h0.7v0.7h-0.7zM81.9 304.8h0.7v0.7h-0.7zM78.5 282.7h0.7v0.7h-0.7zM56.5 300.0h0.7v0.7h-0.7zM78.9 304.6h0.7v0.7h-0.7zM56.7 292.4h0.7v0.7h-0.7zM57.3 303.8h0.7v0.7h-0.7zM95.8 293.9h0.7v0.7h-0.7zM71.8 276.4h0.7v0.7h-0.7zM83.8 289.6h0.7v0.7h-0.7zM64.5 292.0h0.7v0.7h-0.7zM88.1 286.2h0.7v0.7h-0.7zM64.8 291.5h0.7v0.7h-0.7zM66.0 295.1h0.7v0.7h-0.7zM67.4 292.8h0.7v0.7h-0.7zM81.5 293.8h0.7v0.7h-0.7zM80.8 292.1h0.7v0.7h-0.7zM93.1 302.5h0.7v0.7h-0.7zM60.7 298.9h0.7v0.7h-0.7zM78.3 298.7h0.7v0.7h-0.7zM67.9 300.8h0.7v0.7h-0.7zM66.1 274.6h0.7v0.7h-0.7zM62.5 295.3h0.7v0.7h-0.7zM81.6 306.9h0.7v0.7h-0.7zM65.8 292.2h0.7v0.7h-0.7zM65.4 292.9h0.7v0.7h-0.7zM80.4 292.3h0.7v0.7h-0.7zM72.6 287.8h0.7v0.7h-0.7zM65.7 302.4h0.7v0.7h-0.7zM66.4 293.8h0.7v0.7h-0.7zM69.8 277.6h0.7v0.7h-0.7zM69.5 277.0h0.7v0.7h-0.7zM65.8 289.9h0.7v0.7h-0.7zM72.1 288.6h0.7v0.7h-0.7zM56.7 303.1h0.7v0.7h-0.7zM89.3 293.9h0.7v0.7h-0.7zM100.6 295.1h0.7v0.7h-0.7zM77.4 300.0h0.7v0.7h-0.7zM53.2 289.2h0.7v0.7h-0.7zM74.4 287.9h0.7v0.7h-0.7zM86.1 289.0h0.7v0.7h-0.7zM65.0 279.1h0.7v0.7h-0.7zM65.4 283.0h0.7v0.7h-0.7zM66.0 281.8h0.7v0.7h-0.7zM97.1 305.8h0.7v0.7h-0.7zM63.0 294.7h0.7v0.7h-0.7zM64.1 279.8h0.7v0.7h-0.7zM75.4 294.9h0.7v0.7h-0.7zM62.7 299.3h0.7v0.7h-0.7zM65.5 287.8h0.7v0.7h-0.7zM64.6 285.8h0.7v0.7h-0.7zM84.8 289.3h0.7v0.7h-0.7z" fill="#eef3ee" fill-opacity="0.9"/></g>
<text x="10.20" y="242.70" font-size="12.5" font-weight="bold" fill="#000">B</text>
<text x="30.40" y="243.70" font-size="6.8" fill="#555" stroke="#555" stroke-width="0.1">i</text>
<text x="44.50" y="243.70" font-size="6.93" textLength="94.33" lengthAdjust="spacingAndGlyphs" fill="#231f20" stroke="#231f20" stroke-width="0.1">GMP specific regions (n = 4395)</text>
<text x="170.80" y="243.20" font-size="7.14" textLength="4.53" lengthAdjust="spacingAndGlyphs" fill="#555" stroke="#555" stroke-width="0.1">iii</text>
<text x="185.20" y="243.20" font-size="6.9" font-weight="bold" fill="#000">Motif</text>
<text x="238.30" y="243.20" font-size="6.45" font-weight="bold" fill="#000">TF family</text>
<text x="329.60" y="243.70" font-size="7.19" textLength="46.07" lengthAdjust="spacingAndGlyphs" fill="#231f20" stroke="#231f20" stroke-width="0.1">other cell types</text>
<line x1="387.5" y1="242.9" x2="409.5" y2="242.9" stroke="#000" stroke-width="0.9"/>
<path d="M385.6,242.9 l3.2,-1.5 v3 z M411.4,242.9 l-3.2,-1.5 v3 z" fill="#000"/>
<text x="420.70" y="243.70" font-size="6.72" textLength="14.58" lengthAdjust="spacingAndGlyphs" fill="#231f20" stroke="#231f20" stroke-width="0.1">GMP</text>
<path d="M37.4,300.2 V312.5 H49.5" fill="none" stroke="#000" stroke-width="1"/>
<path d="M37.4,298.0 l-1.9,3.6 h3.8 z M51.6,312.5 l-3.6,-1.9 v3.8 z" fill="#000"/>
<text transform="translate(33.1,305.6) rotate(-90)" font-size="6.4" fill="#231f20" stroke="#231f20" stroke-width="0.1" textLength="22.1" lengthAdjust="spacingAndGlyphs">UMAP1</text>
<text x="38.80" y="321.50" font-size="6.4" textLength="22.6" lengthAdjust="spacingAndGlyphs" fill="#231f20" stroke="#231f20" stroke-width="0.1">UMAP2</text>
<text x="29.90" y="332.30" font-size="6.8" fill="#555" stroke="#555" stroke-width="0.1">ii</text>
<text x="44.50" y="332.40" font-size="6.93" textLength="103.56" lengthAdjust="spacingAndGlyphs" fill="#231f20" stroke="#231f20" stroke-width="0.1">GMP vs other cell types - TF bound</text>
<path d="M63.7,337.5 V416.1 H142.6" fill="none" stroke="#000" stroke-width="1.2"/>
<line x1="60.3" y1="341.0" x2="63.7" y2="341.0" stroke="#000" stroke-width="0.9"/>
<text x="57.60" y="343.30" font-size="6.4" text-anchor="end" fill="#231f20" stroke="#231f20" stroke-width="0.1">1.00</text>
<line x1="60.3" y1="358.85" x2="63.7" y2="358.85" stroke="#000" stroke-width="0.9"/>
<text x="57.60" y="361.15" font-size="6.4" text-anchor="end" fill="#231f20" stroke="#231f20" stroke-width="0.1">0.75</text>
<line x1="60.3" y1="376.7" x2="63.7" y2="376.7" stroke="#000" stroke-width="0.9"/>
<text x="57.60" y="379.00" font-size="6.4" text-anchor="end" fill="#231f20" stroke="#231f20" stroke-width="0.1">0.50</text>
<line x1="60.3" y1="394.54999999999995" x2="63.7" y2="394.54999999999995" stroke="#000" stroke-width="0.9"/>
<text x="57.60" y="396.85" font-size="6.4" text-anchor="end" fill="#231f20" stroke="#231f20" stroke-width="0.1">0.25</text>
<line x1="60.3" y1="412.4" x2="63.7" y2="412.4" stroke="#000" stroke-width="0.9"/>
<text x="57.60" y="414.70" font-size="6.4" text-anchor="end" fill="#231f20" stroke="#231f20" stroke-width="0.1">0.00</text>
<line x1="67.4" y1="416.1" x2="67.4" y2="419.0" stroke="#000" stroke-width="0.9"/>
<text x="67.40" y="428.10" font-size="6.4" text-anchor="middle" fill="#231f20" stroke="#231f20" stroke-width="0.1">1.00</text>
<line x1="85.35" y1="416.1" x2="85.35" y2="419.0" stroke="#000" stroke-width="0.9"/>
<text x="85.35" y="428.10" font-size="6.4" text-anchor="middle" fill="#231f20" stroke="#231f20" stroke-width="0.1">0.75</text>
<line x1="103.3" y1="416.1" x2="103.3" y2="419.0" stroke="#000" stroke-width="0.9"/>
<text x="103.30" y="428.10" font-size="6.4" text-anchor="middle" fill="#231f20" stroke="#231f20" stroke-width="0.1">0.50</text>
<line x1="121.25" y1="416.1" x2="121.25" y2="419.0" stroke="#000" stroke-width="0.9"/>
<text x="121.25" y="428.10" font-size="6.4" text-anchor="middle" fill="#231f20" stroke="#231f20" stroke-width="0.1">0.25</text>
<line x1="139.2" y1="416.1" x2="139.2" y2="419.0" stroke="#000" stroke-width="0.9"/>
<text x="139.20" y="428.10" font-size="6.4" text-anchor="middle" fill="#231f20" stroke="#231f20" stroke-width="0.1">0.00</text>
<line x1="67.4" y1="412.4" x2="139.2" y2="341.0" stroke="#c8c8c8" stroke-width="0.8"/>
<path d="M67.5,412.4 V353.2 C67.5,346.7 70,343.4 76,342.29999999999995 C84,341.29999999999995 95,341.04999999999995 139.2,341.0" fill="none" stroke="#000" stroke-width="1.25"/>
<text x="103.40" y="440.10" font-size="8.4" text-anchor="middle" textLength="31.2" lengthAdjust="spacingAndGlyphs" fill="#231f20" stroke="#231f20" stroke-width="0.1">Specificity</text>
<text transform="translate(38.3,376.7) rotate(-90)" font-size="8.4" text-anchor="middle" fill="#231f20" stroke="#231f20" stroke-width="0.1" textLength="31.2" lengthAdjust="spacingAndGlyphs">Sensitivity</text>
<text x="140.80" y="392.70" font-size="6.93" text-anchor="end" textLength="34.12" lengthAdjust="spacingAndGlyphs" fill="#231f20" stroke="#231f20" stroke-width="0.1">AUC: 0.999</text>
<text x="140.80" y="400.80" font-size="6.93" text-anchor="end" textLength="50.99" lengthAdjust="spacingAndGlyphs" fill="#231f20" stroke="#231f20" stroke-width="0.1">Accuracy: 0.9846</text>
<text x="140.80" y="408.70" font-size="6.93" text-anchor="end" textLength="49.52" lengthAdjust="spacingAndGlyphs" fill="#231f20" stroke="#231f20" stroke-width="0.1">F1 score: 0.9848</text>
<text x="242.90" y="267.80" font-size="6.9" textLength="9.6" lengthAdjust="spacingAndGlyphs" fill="#231f20" stroke="#231f20" stroke-width="0.1">Ets</text>
<text x="242.90" y="281.88" font-size="6.9" textLength="17.5" lengthAdjust="spacingAndGlyphs" fill="#231f20" stroke="#231f20" stroke-width="0.1">GATA</text>
<text x="242.90" y="295.96" font-size="6.9" textLength="17.4" lengthAdjust="spacingAndGlyphs" fill="#231f20" stroke="#231f20" stroke-width="0.1">bHLH</text>
<text x="242.90" y="310.04" font-size="6.9" textLength="26.799999999999997" lengthAdjust="spacingAndGlyphs" fill="#231f20" stroke="#231f20" stroke-width="0.1">C2H2-ZF</text>
<text x="242.90" y="324.12" font-size="6.9" textLength="28.4" lengthAdjust="spacingAndGlyphs" fill="#231f20" stroke="#231f20" stroke-width="0.1">Unknown</text>
<text x="242.90" y="338.20" font-size="6.9" textLength="9.6" lengthAdjust="spacingAndGlyphs" fill="#231f20" stroke="#231f20" stroke-width="0.1">Ets</text>
<text x="242.90" y="352.28" font-size="6.9" textLength="9.6" lengthAdjust="spacingAndGlyphs" fill="#231f20" stroke="#231f20" stroke-width="0.1">Ets</text>
<text x="242.90" y="366.36" font-size="6.9" textLength="14.5" lengthAdjust="spacingAndGlyphs" fill="#231f20" stroke="#231f20" stroke-width="0.1">bZIP</text>
<text x="242.90" y="380.44" font-size="6.9" textLength="28.4" lengthAdjust="spacingAndGlyphs" fill="#231f20" stroke="#231f20" stroke-width="0.1">Unknown</text>
<text x="242.90" y="394.52" font-size="6.9" textLength="9.6" lengthAdjust="spacingAndGlyphs" fill="#231f20" stroke="#231f20" stroke-width="0.1">Ets</text>
<text x="242.90" y="408.60" font-size="6.9" textLength="19.099999999999998" lengthAdjust="spacingAndGlyphs" fill="#231f20" stroke="#231f20" stroke-width="0.1">Mixed</text>
<text x="242.90" y="422.68" font-size="6.9" textLength="50.6" lengthAdjust="spacingAndGlyphs" fill="#231f20" stroke="#231f20" stroke-width="0.1">Nuclear receptor</text>
<line x1="295" y1="431.29999999999995" x2="502.7" y2="431.29999999999995" stroke="#000" stroke-width="1.1"/>
<line x1="301.40" y1="431.29999999999995" x2="301.40" y2="434.29999999999995" stroke="#000" stroke-width="0.9"/>
<text x="301.10" y="442.90" font-size="6.4" text-anchor="middle" fill="#231f20" stroke="#231f20" stroke-width="0.1">−3</text>
<line x1="332.50" y1="431.29999999999995" x2="332.50" y2="434.29999999999995" stroke="#000" stroke-width="0.9"/>
<text x="332.20" y="442.90" font-size="6.4" text-anchor="middle" fill="#231f20" stroke="#231f20" stroke-width="0.1">−2</text>
<line x1="363.50" y1="431.29999999999995" x2="363.50" y2="434.29999999999995" stroke="#000" stroke-width="0.9"/>
<text x="363.20" y="442.90" font-size="6.4" text-anchor="middle" fill="#231f20" stroke="#231f20" stroke-width="0.1">−1</text>
<line x1="398.80" y1="431.29999999999995" x2="398.80" y2="434.29999999999995" stroke="#000" stroke-width="0.9"/>
<text x="398.80" y="442.90" font-size="6.4" text-anchor="middle" fill="#231f20" stroke="#231f20" stroke-width="0.1">0</text>
<line x1="434.20" y1="431.29999999999995" x2="434.20" y2="434.29999999999995" stroke="#000" stroke-width="0.9"/>
<text x="434.20" y="442.90" font-size="6.4" text-anchor="middle" fill="#231f20" stroke="#231f20" stroke-width="0.1">1</text>
<line x1="465.30" y1="431.29999999999995" x2="465.30" y2="434.29999999999995" stroke="#000" stroke-width="0.9"/>
<text x="465.30" y="442.90" font-size="6.4" text-anchor="middle" fill="#231f20" stroke="#231f20" stroke-width="0.1">2</text>
<line x1="496.60" y1="431.29999999999995" x2="496.60" y2="434.29999999999995" stroke="#000" stroke-width="0.9"/>
<text x="496.60" y="442.90" font-size="6.4" text-anchor="middle" fill="#231f20" stroke="#231f20" stroke-width="0.1">3</text>
<text x="398.80" y="455.80" font-size="8.4" text-anchor="middle" textLength="35.7" lengthAdjust="spacingAndGlyphs" fill="#231f20" stroke="#231f20" stroke-width="0.1">SHAP value</text>
<defs><linearGradient id="cbB" x1="0" y1="0" x2="0" y2="1"><stop offset="0" stop-color="#d0104c"/><stop offset="0.5" stop-color="#7b3a98"/><stop offset="1" stop-color="#5a80cc"/></linearGradient></defs>
<rect x="503.8" y="295.9" width="4.1" height="88.6" fill="url(#cbB)"/>
<text x="506.20" y="291.50" font-size="7.04" text-anchor="middle" textLength="13.78" lengthAdjust="spacingAndGlyphs" fill="#231f20" stroke="#231f20" stroke-width="0.1">High</text>
<text x="506.00" y="393.80" font-size="6.93" text-anchor="middle" textLength="12.11" lengthAdjust="spacingAndGlyphs" fill="#231f20" stroke="#231f20" stroke-width="0.1">Low</text>
<text transform="translate(498.8,340.6) rotate(-90)" font-size="6.65" text-anchor="middle" fill="#231f20" stroke="#231f20" stroke-width="0.1">Feature value</text>
<path d="M377.20,265.50C377.20,265.07 378.19,264.43 378.60,263.90C379.01,263.37 379.78,262.02 380.30,261.50C380.82,260.98 381.87,260.24 382.50,260.00C383.13,259.76 384.33,259.67 385.00,259.70C385.67,259.73 386.86,259.91 387.50,260.20C388.14,260.49 389.31,261.61 389.80,261.90C390.29,262.19 390.77,262.36 391.20,262.40C391.63,262.44 392.55,262.11 393.00,262.20C393.45,262.29 394.21,262.66 394.60,263.10C394.99,263.54 395.90,264.86 395.90,265.50C395.90,266.14 394.99,267.46 394.60,267.90C394.21,268.34 393.45,268.71 393.00,268.80C392.55,268.89 391.63,268.56 391.20,268.60C390.77,268.64 390.29,268.81 389.80,269.10C389.31,269.39 388.14,270.51 387.50,270.80C386.86,271.09 385.67,271.27 385.00,271.30C384.33,271.33 383.13,271.24 382.50,271.00C381.87,270.76 380.82,270.02 380.30,269.50C379.78,268.98 379.01,267.63 378.60,267.10C378.19,266.57 377.20,265.93 377.20,265.50Z" fill="#5b7fcb"/>
<path d="M402.65,265.50H431.65" stroke="#9c1a78" stroke-width="1.70" stroke-linecap="round"/><path d="M404.31,265.50C407.85,264.19 412.82,262.60 418.50,262.60C423.26,262.60 427.42,264.19 430.40,265.50C427.42,266.81 423.26,268.40 418.50,268.40C412.82,268.40 407.85,266.81 404.31,265.50Z" fill="#9c1a78"/>
<path d="M324.96,279.60H374.14" stroke="#c8104c" stroke-width="1.9" stroke-linecap="round"/>
<path d="M401.15,279.60H406.15" stroke="#5b7fcb" stroke-width="1.70" stroke-linecap="round"/><path d="M400.70,279.60C401.28,278.88 402.08,278.00 403.00,278.00C404.36,278.00 405.55,278.88 406.40,279.60C405.55,280.32 404.36,281.20 403.00,281.20C402.08,281.20 401.28,280.32 400.70,279.60Z" fill="#5b7fcb"/>
<ellipse cx="407.70" cy="279.60" rx="1.40" ry="5.80" fill="#5b7fcb"/>
<path d="M324.96,293.70H374.24" stroke="#c8104c" stroke-width="1.9" stroke-linecap="round"/>
<path d="M399.60,293.70C400.17,290.05 401.38,287.90 402.50,287.90C403.54,287.90 404.67,290.05 405.20,293.70C404.67,297.35 403.54,299.50 402.50,299.50C401.38,299.50 400.17,297.35 399.60,293.70Z" fill="#5b7fcb"/>
<ellipse cx="392.00" cy="307.80" rx="3.20" ry="5.50" fill="#5b7fcb"/>
<path d="M402.05,307.80H413.95" stroke="#5b7fcb" stroke-width="1.70" stroke-linecap="round"/><path d="M402.07,307.80C403.30,306.90 405.03,305.80 407.00,305.80C409.65,305.80 411.97,306.90 413.63,307.80C411.97,308.70 409.65,309.80 407.00,309.80C405.03,309.80 403.30,308.70 402.07,307.80Z" fill="#5b7fcb"/>
<path d="M401.20,307.80C402.28,307.46 404.79,304.00 405.00,304.00C405.25,304.00 408.29,307.46 409.60,307.80C408.29,308.14 405.25,311.60 405.00,311.60C404.79,311.60 402.28,308.14 401.20,307.80Z" fill="#8c2a88"/>
<path d="M319.56,321.90H371.44" stroke="#c8104c" stroke-width="1.9" stroke-linecap="round"/>
<ellipse cx="402.00" cy="321.90" rx="2.00" ry="5.80" fill="#5b7fcb"/>
<path d="M379.25,336.00H393.15" stroke="#862688" stroke-width="1.70" stroke-linecap="round"/><path d="M379.54,336.00C381.15,335.10 383.42,334.00 386.00,334.00C388.72,334.00 391.10,335.10 392.80,336.00C391.10,336.90 388.72,338.00 386.00,338.00C383.42,338.00 381.15,336.90 379.54,336.00Z" fill="#862688"/>
<path d="M400.50,336.00C401.22,333.91 402.84,330.20 403.50,330.20C404.56,330.20 407.15,333.91 408.30,336.00C407.15,338.09 404.56,341.80 403.50,341.80C402.84,341.80 401.22,338.09 400.50,336.00Z" fill="#5b7fcb"/>
<path d="M387.50,350.10C388.70,347.98 391.40,344.20 392.50,344.20C393.69,344.20 396.60,347.98 397.90,350.10C396.60,352.22 393.69,356.00 392.50,356.00C391.40,356.00 388.70,352.22 387.50,350.10Z" fill="#5b7fcb"/>
<path d="M400.75,350.10H418.15" stroke="#c01a5c" stroke-width="1.70" stroke-linecap="round"/><path d="M400.66,350.10C401.75,349.29 403.27,348.30 405.00,348.30C409.76,348.30 413.92,349.29 416.90,350.10C413.92,350.91 409.76,351.90 405.00,351.90C403.27,351.90 401.75,350.91 400.66,350.10Z" fill="#c01a5c"/>
<path d="M399.90,350.10C400.93,349.79 403.30,346.60 403.50,346.60C403.73,346.60 406.50,349.79 407.70,350.10C406.50,350.42 403.73,353.60 403.50,353.60C403.30,353.60 400.93,350.42 399.90,350.10Z" fill="#862688"/>
<path d="M327.76,364.20H369.74" stroke="#c8104c" stroke-width="1.9" stroke-linecap="round"/>
<ellipse cx="401.40" cy="364.20" rx="1.40" ry="5.90" fill="#5b7fcb"/>
<path d="M332.56,378.30H370.64" stroke="#c8104c" stroke-width="1.9" stroke-linecap="round"/>
<ellipse cx="401.40" cy="378.30" rx="1.40" ry="5.80" fill="#5b7fcb"/>
<path d="M388.80,392.40C389.81,390.24 392.08,386.40 393.00,386.40C393.99,386.40 396.42,390.24 397.50,392.40C396.42,394.56 393.99,398.40 393.00,398.40C392.08,398.40 389.81,394.56 388.80,392.40Z" fill="#5b7fcb"/>
<path d="M400.90,392.40C402.35,392.08 405.72,388.90 406.00,388.90C406.39,388.90 411.08,392.08 413.10,392.40C411.08,392.71 406.39,395.90 406.00,395.90C405.72,395.90 402.35,392.71 400.90,392.40Z" fill="#862688"/>
<path d="M353.26,406.50H382.44" stroke="#c8104c" stroke-width="1.9" stroke-linecap="round"/>
<ellipse cx="401.30" cy="406.50" rx="1.40" ry="5.60" fill="#5b7fcb"/>
<ellipse cx="395.60" cy="420.60" rx="1.70" ry="5.80" fill="#5b7fcb"/>
<path d="M417.06,420.60H446.44" stroke="#c8104c" stroke-width="1.9" stroke-linecap="round"/>
<line x1="398.9" y1="254.9" x2="398.9" y2="431.29999999999995" stroke="#2e2e2e" stroke-width="1.35"/>
<g font-family="Liberation Sans" font-weight="bold" font-size="100" stroke-width="0.35">
<text transform="translate(179.23,269.45) scale(0.0397,0.1564)" fill="#109648" stroke="#109648" vector-effect="non-scaling-stroke">A</text>
<text transform="translate(182.15,269.45) scale(0.0397,0.1564)" fill="#109648" stroke="#109648" vector-effect="non-scaling-stroke">A</text>
<text transform="translate(185.07,269.45) scale(0.0397,0.1386)" fill="#109648" stroke="#109648" vector-effect="non-scaling-stroke">A</text>
<text transform="translate(187.99,269.45) scale(0.0397,0.1207)" fill="#109648" stroke="#109648" vector-effect="non-scaling-stroke">A</text>
<text transform="translate(190.86,269.45) scale(0.0403,0.0671)" fill="#22529a" stroke="#22529a" vector-effect="non-scaling-stroke">C</text>
<text transform="translate(193.79,269.45) scale(0.0385,0.1564)" fill="#F5B02B" stroke="#F5B02B" vector-effect="non-scaling-stroke">G</text>
<text transform="translate(196.71,269.45) scale(0.0385,0.1743)" fill="#F5B02B" stroke="#F5B02B" vector-effect="non-scaling-stroke">G</text>
<text transform="translate(199.66,269.45) scale(0.0397,0.1564)" fill="#109648" stroke="#109648" vector-effect="non-scaling-stroke">A</text>
<text transform="translate(202.58,269.45) scale(0.0397,0.1386)" fill="#109648" stroke="#109648" vector-effect="non-scaling-stroke">A</text>
<text transform="translate(205.46,269.45) scale(0.0385,0.1207)" fill="#F5B02B" stroke="#F5B02B" vector-effect="non-scaling-stroke">G</text>
<text transform="translate(208.49,269.45) scale(0.0444,0.1886)" fill="#D62839" stroke="#D62839" vector-effect="non-scaling-stroke">T</text>
<text transform="translate(179.31,283.71) scale(0.0437,0.1564)" fill="#D62839" stroke="#D62839" vector-effect="non-scaling-stroke">T</text>
<text transform="translate(182.19,283.71) scale(0.0437,0.1886)" fill="#D62839" stroke="#D62839" vector-effect="non-scaling-stroke">T</text>
<text transform="translate(184.99,283.71) scale(0.0391,0.1386)" fill="#109648" stroke="#109648" vector-effect="non-scaling-stroke">A</text>
<text transform="translate(187.95,283.71) scale(0.0437,0.1886)" fill="#D62839" stroke="#D62839" vector-effect="non-scaling-stroke">T</text>
<text transform="translate(190.71,283.71) scale(0.0397,0.1743)" fill="#22529a" stroke="#22529a" vector-effect="non-scaling-stroke">C</text>
<text transform="translate(193.71,283.71) scale(0.0437,0.0671)" fill="#D62839" stroke="#D62839" vector-effect="non-scaling-stroke">T</text>
<text transform="translate(196.59,283.71) scale(0.0437,0.0314)" fill="#D62839" stroke="#D62839" vector-effect="non-scaling-stroke">T</text>
<rect x="199.96" y="282.86" width="1.68" height="0.8" fill="#109648"/>
<rect x="202.84" y="282.86" width="1.68" height="0.8" fill="#22529a"/>
<rect x="205.72" y="282.86" width="1.68" height="0.8" fill="#109648"/>
<rect x="208.60" y="282.86" width="1.68" height="0.8" fill="#22529a"/>
<rect x="211.48" y="282.86" width="1.68" height="0.8" fill="#109648"/>
<text transform="translate(213.75,283.71) scale(0.0397,0.0493)" fill="#22529a" stroke="#22529a" vector-effect="non-scaling-stroke">C</text>
<text transform="translate(216.63,283.71) scale(0.0397,0.1207)" fill="#22529a" stroke="#22529a" vector-effect="non-scaling-stroke">C</text>
<text transform="translate(219.55,283.71) scale(0.0391,0.1207)" fill="#109648" stroke="#109648" vector-effect="non-scaling-stroke">A</text>
<text transform="translate(179.22,297.97) scale(0.0417,0.1386)" fill="#109648" stroke="#109648" vector-effect="non-scaling-stroke">A</text>
<text transform="translate(182.24,297.97) scale(0.0404,0.1386)" fill="#F5B02B" stroke="#F5B02B" vector-effect="non-scaling-stroke">G</text>
<text transform="translate(185.28,297.97) scale(0.0423,0.1743)" fill="#22529a" stroke="#22529a" vector-effect="non-scaling-stroke">C</text>
<text transform="translate(188.38,297.97) scale(0.0417,0.1743)" fill="#109648" stroke="#109648" vector-effect="non-scaling-stroke">A</text>
<text transform="translate(191.50,297.97) scale(0.0466,0.1886)" fill="#D62839" stroke="#D62839" vector-effect="non-scaling-stroke">T</text>
<text transform="translate(194.43,297.97) scale(0.0423,0.1564)" fill="#22529a" stroke="#22529a" vector-effect="non-scaling-stroke">C</text>
<text transform="translate(197.60,297.97) scale(0.0466,0.1886)" fill="#D62839" stroke="#D62839" vector-effect="non-scaling-stroke">T</text>
<text transform="translate(200.54,297.97) scale(0.0404,0.1029)" fill="#F5B02B" stroke="#F5B02B" vector-effect="non-scaling-stroke">G</text>
<text transform="translate(179.19,312.23) scale(0.0391,0.1296)" fill="#F5B02B" stroke="#F5B02B" vector-effect="non-scaling-stroke">G</text>
<text transform="translate(182.15,312.23) scale(0.0391,0.1296)" fill="#F5B02B" stroke="#F5B02B" vector-effect="non-scaling-stroke">G</text>
<text transform="translate(185.11,312.23) scale(0.0409,0.0939)" fill="#22529a" stroke="#22529a" vector-effect="non-scaling-stroke">C</text>
<text transform="translate(188.08,312.23) scale(0.0391,0.1118)" fill="#F5B02B" stroke="#F5B02B" vector-effect="non-scaling-stroke">G</text>
<text transform="translate(191.04,312.23) scale(0.0391,0.1296)" fill="#F5B02B" stroke="#F5B02B" vector-effect="non-scaling-stroke">G</text>
<text transform="translate(193.99,312.23) scale(0.0409,0.0939)" fill="#22529a" stroke="#22529a" vector-effect="non-scaling-stroke">C</text>
<text transform="translate(196.96,312.23) scale(0.0391,0.1118)" fill="#F5B02B" stroke="#F5B02B" vector-effect="non-scaling-stroke">G</text>
<text transform="translate(199.92,312.23) scale(0.0391,0.1296)" fill="#F5B02B" stroke="#F5B02B" vector-effect="non-scaling-stroke">G</text>
<text transform="translate(202.92,312.23) scale(0.0403,0.0850)" fill="#109648" stroke="#109648" vector-effect="non-scaling-stroke">A</text>
<text transform="translate(205.84,312.23) scale(0.0409,0.0939)" fill="#22529a" stroke="#22529a" vector-effect="non-scaling-stroke">C</text>
<text transform="translate(208.80,312.23) scale(0.0391,0.1207)" fill="#F5B02B" stroke="#F5B02B" vector-effect="non-scaling-stroke">G</text>
<text transform="translate(211.77,312.23) scale(0.0391,0.1296)" fill="#F5B02B" stroke="#F5B02B" vector-effect="non-scaling-stroke">G</text>
<text transform="translate(214.73,312.23) scale(0.0391,0.1743)" fill="#F5B02B" stroke="#F5B02B" vector-effect="non-scaling-stroke">G</text>
<text transform="translate(217.68,312.23) scale(0.0409,0.1564)" fill="#22529a" stroke="#22529a" vector-effect="non-scaling-stroke">C</text>
<text transform="translate(220.65,312.23) scale(0.0391,0.1654)" fill="#F5B02B" stroke="#F5B02B" vector-effect="non-scaling-stroke">G</text>
<text transform="translate(223.65,312.23) scale(0.0403,0.1118)" fill="#109648" stroke="#109648" vector-effect="non-scaling-stroke">A</text>
<text transform="translate(226.56,312.23) scale(0.0409,0.1475)" fill="#22529a" stroke="#22529a" vector-effect="non-scaling-stroke">C</text>
<text transform="translate(229.53,312.23) scale(0.0391,0.1475)" fill="#F5B02B" stroke="#F5B02B" vector-effect="non-scaling-stroke">G</text>
<text transform="translate(179.22,326.49) scale(0.0417,0.0671)" fill="#109648" stroke="#109648" vector-effect="non-scaling-stroke">A</text>
<text transform="translate(182.28,326.49) scale(0.0417,0.1029)" fill="#109648" stroke="#109648" vector-effect="non-scaling-stroke">A</text>
<text transform="translate(185.33,326.49) scale(0.0417,0.1207)" fill="#109648" stroke="#109648" vector-effect="non-scaling-stroke">A</text>
<text transform="translate(188.33,326.49) scale(0.0423,0.1886)" fill="#22529a" stroke="#22529a" vector-effect="non-scaling-stroke">C</text>
<text transform="translate(191.43,326.49) scale(0.0417,0.1386)" fill="#109648" stroke="#109648" vector-effect="non-scaling-stroke">A</text>
<text transform="translate(194.43,326.49) scale(0.0423,0.1386)" fill="#22529a" stroke="#22529a" vector-effect="non-scaling-stroke">C</text>
<text transform="translate(179.20,340.75) scale(0.0387,0.1564)" fill="#22529a" stroke="#22529a" vector-effect="non-scaling-stroke">C</text>
<text transform="translate(182.01,340.75) scale(0.0387,0.0850)" fill="#22529a" stroke="#22529a" vector-effect="non-scaling-stroke">C</text>
<text transform="translate(184.83,340.75) scale(0.0370,0.1886)" fill="#F5B02B" stroke="#F5B02B" vector-effect="non-scaling-stroke">G</text>
<text transform="translate(187.64,340.75) scale(0.0370,0.1564)" fill="#F5B02B" stroke="#F5B02B" vector-effect="non-scaling-stroke">G</text>
<text transform="translate(190.49,340.75) scale(0.0381,0.1386)" fill="#109648" stroke="#109648" vector-effect="non-scaling-stroke">A</text>
<text transform="translate(193.31,340.75) scale(0.0381,0.1386)" fill="#109648" stroke="#109648" vector-effect="non-scaling-stroke">A</text>
<text transform="translate(196.09,340.75) scale(0.0370,0.0850)" fill="#F5B02B" stroke="#F5B02B" vector-effect="non-scaling-stroke">G</text>
<text transform="translate(179.23,355.01) scale(0.0393,0.1386)" fill="#109648" stroke="#109648" vector-effect="non-scaling-stroke">A</text>
<text transform="translate(182.12,355.01) scale(0.0393,0.1386)" fill="#109648" stroke="#109648" vector-effect="non-scaling-stroke">A</text>
<text transform="translate(185.02,355.01) scale(0.0393,0.1207)" fill="#109648" stroke="#109648" vector-effect="non-scaling-stroke">A</text>
<text transform="translate(187.88,355.01) scale(0.0381,0.1207)" fill="#F5B02B" stroke="#F5B02B" vector-effect="non-scaling-stroke">G</text>
<text transform="translate(190.80,355.01) scale(0.0393,0.1207)" fill="#109648" stroke="#109648" vector-effect="non-scaling-stroke">A</text>
<text transform="translate(193.66,355.01) scale(0.0381,0.1886)" fill="#F5B02B" stroke="#F5B02B" vector-effect="non-scaling-stroke">G</text>
<text transform="translate(196.55,355.01) scale(0.0381,0.1743)" fill="#F5B02B" stroke="#F5B02B" vector-effect="non-scaling-stroke">G</text>
<text transform="translate(199.48,355.01) scale(0.0393,0.1564)" fill="#109648" stroke="#109648" vector-effect="non-scaling-stroke">A</text>
<text transform="translate(202.37,355.01) scale(0.0393,0.1564)" fill="#109648" stroke="#109648" vector-effect="non-scaling-stroke">A</text>
<text transform="translate(205.23,355.01) scale(0.0381,0.1386)" fill="#F5B02B" stroke="#F5B02B" vector-effect="non-scaling-stroke">G</text>
<text transform="translate(208.23,355.01) scale(0.0439,0.1886)" fill="#D62839" stroke="#D62839" vector-effect="non-scaling-stroke">T</text>
<text transform="translate(211.02,355.01) scale(0.0381,0.1029)" fill="#F5B02B" stroke="#F5B02B" vector-effect="non-scaling-stroke">G</text>
<text transform="translate(213.95,355.01) scale(0.0393,0.0850)" fill="#109648" stroke="#109648" vector-effect="non-scaling-stroke">A</text>
<text transform="translate(216.84,355.01) scale(0.0393,0.0850)" fill="#109648" stroke="#109648" vector-effect="non-scaling-stroke">A</text>
<text transform="translate(179.23,369.27) scale(0.0388,0.1386)" fill="#109648" stroke="#109648" vector-effect="non-scaling-stroke">A</text>
<text transform="translate(182.17,369.27) scale(0.0434,0.1207)" fill="#D62839" stroke="#D62839" vector-effect="non-scaling-stroke">T</text>
<text transform="translate(184.92,369.27) scale(0.0377,0.1564)" fill="#F5B02B" stroke="#F5B02B" vector-effect="non-scaling-stroke">G</text>
<text transform="translate(187.78,369.27) scale(0.0394,0.1886)" fill="#22529a" stroke="#22529a" vector-effect="non-scaling-stroke">C</text>
<text transform="translate(190.68,369.27) scale(0.0388,0.0671)" fill="#109648" stroke="#109648" vector-effect="non-scaling-stroke">A</text>
<text transform="translate(193.50,369.27) scale(0.0394,0.1207)" fill="#22529a" stroke="#22529a" vector-effect="non-scaling-stroke">C</text>
<text transform="translate(196.40,369.27) scale(0.0388,0.0493)" fill="#109648" stroke="#109648" vector-effect="non-scaling-stroke">A</text>
<rect x="199.83" y="368.42" width="1.66" height="0.8" fill="#22529a"/>
<text transform="translate(202.20,369.27) scale(0.0434,0.0493)" fill="#D62839" stroke="#D62839" vector-effect="non-scaling-stroke">T</text>
<text transform="translate(204.95,369.27) scale(0.0377,0.1386)" fill="#F5B02B" stroke="#F5B02B" vector-effect="non-scaling-stroke">G</text>
<text transform="translate(207.85,369.27) scale(0.0388,0.1386)" fill="#109648" stroke="#109648" vector-effect="non-scaling-stroke">A</text>
<text transform="translate(210.71,369.27) scale(0.0388,0.1386)" fill="#109648" stroke="#109648" vector-effect="non-scaling-stroke">A</text>
<text transform="translate(213.54,369.27) scale(0.0377,0.1029)" fill="#F5B02B" stroke="#F5B02B" vector-effect="non-scaling-stroke">G</text>
<text transform="translate(179.23,383.53) scale(0.0406,0.1029)" fill="#109648" stroke="#109648" vector-effect="non-scaling-stroke">A</text>
<text transform="translate(182.28,383.53) scale(0.0454,0.1386)" fill="#D62839" stroke="#D62839" vector-effect="non-scaling-stroke">T</text>
<text transform="translate(185.15,383.53) scale(0.0412,0.1743)" fill="#22529a" stroke="#22529a" vector-effect="non-scaling-stroke">C</text>
<text transform="translate(188.17,383.53) scale(0.0406,0.1386)" fill="#109648" stroke="#109648" vector-effect="non-scaling-stroke">A</text>
<text transform="translate(191.11,383.53) scale(0.0412,0.0850)" fill="#22529a" stroke="#22529a" vector-effect="non-scaling-stroke">C</text>
<text transform="translate(194.09,383.53) scale(0.0412,0.1564)" fill="#22529a" stroke="#22529a" vector-effect="non-scaling-stroke">C</text>
<text transform="translate(197.18,383.53) scale(0.0454,0.1886)" fill="#D62839" stroke="#D62839" vector-effect="non-scaling-stroke">T</text>
<text transform="translate(200.16,383.53) scale(0.0454,0.0850)" fill="#D62839" stroke="#D62839" vector-effect="non-scaling-stroke">T</text>
<text transform="translate(203.03,383.53) scale(0.0412,0.0671)" fill="#22529a" stroke="#22529a" vector-effect="non-scaling-stroke">C</text>
<text transform="translate(206.12,383.53) scale(0.0454,0.0671)" fill="#D62839" stroke="#D62839" vector-effect="non-scaling-stroke">T</text>
<text transform="translate(179.22,397.79) scale(0.0424,0.1207)" fill="#109648" stroke="#109648" vector-effect="non-scaling-stroke">A</text>
<text transform="translate(182.29,397.79) scale(0.0412,0.0671)" fill="#F5B02B" stroke="#F5B02B" vector-effect="non-scaling-stroke">G</text>
<text transform="translate(185.42,397.79) scale(0.0424,0.0850)" fill="#109648" stroke="#109648" vector-effect="non-scaling-stroke">A</text>
<text transform="translate(188.49,397.79) scale(0.0412,0.1886)" fill="#F5B02B" stroke="#F5B02B" vector-effect="non-scaling-stroke">G</text>
<text transform="translate(191.59,397.79) scale(0.0412,0.1743)" fill="#F5B02B" stroke="#F5B02B" vector-effect="non-scaling-stroke">G</text>
<text transform="translate(194.72,397.79) scale(0.0424,0.1564)" fill="#109648" stroke="#109648" vector-effect="non-scaling-stroke">A</text>
<text transform="translate(197.79,397.79) scale(0.0412,0.0850)" fill="#F5B02B" stroke="#F5B02B" vector-effect="non-scaling-stroke">G</text>
<text transform="translate(179.22,412.05) scale(0.0424,0.0493)" fill="#109648" stroke="#109648" vector-effect="non-scaling-stroke">A</text>
<text transform="translate(182.32,412.05) scale(0.0424,0.0850)" fill="#109648" stroke="#109648" vector-effect="non-scaling-stroke">A</text>
<text transform="translate(185.42,412.05) scale(0.0424,0.1207)" fill="#109648" stroke="#109648" vector-effect="non-scaling-stroke">A</text>
<text transform="translate(188.52,412.05) scale(0.0424,0.1886)" fill="#109648" stroke="#109648" vector-effect="non-scaling-stroke">A</text>
<text transform="translate(191.70,412.05) scale(0.0475,0.1207)" fill="#D62839" stroke="#D62839" vector-effect="non-scaling-stroke">T</text>
<text transform="translate(194.72,412.05) scale(0.0424,0.1564)" fill="#109648" stroke="#109648" vector-effect="non-scaling-stroke">A</text>
<text transform="translate(197.82,412.05) scale(0.0424,0.1564)" fill="#109648" stroke="#109648" vector-effect="non-scaling-stroke">A</text>
<text transform="translate(179.22,426.31) scale(0.0418,0.1207)" fill="#109648" stroke="#109648" vector-effect="non-scaling-stroke">A</text>
<text transform="translate(182.25,426.31) scale(0.0406,0.1564)" fill="#F5B02B" stroke="#F5B02B" vector-effect="non-scaling-stroke">G</text>
<text transform="translate(185.31,426.31) scale(0.0406,0.1564)" fill="#F5B02B" stroke="#F5B02B" vector-effect="non-scaling-stroke">G</text>
<text transform="translate(188.49,426.31) scale(0.0468,0.1564)" fill="#D62839" stroke="#D62839" vector-effect="non-scaling-stroke">T</text>
<text transform="translate(191.43,426.31) scale(0.0425,0.1743)" fill="#22529a" stroke="#22529a" vector-effect="non-scaling-stroke">C</text>
<text transform="translate(194.53,426.31) scale(0.0418,0.1743)" fill="#109648" stroke="#109648" vector-effect="non-scaling-stroke">A</text>
<text transform="translate(197.59,426.31) scale(0.0418,0.1564)" fill="#109648" stroke="#109648" vector-effect="non-scaling-stroke">A</text>
<text transform="translate(200.66,426.31) scale(0.0418,0.1564)" fill="#109648" stroke="#109648" vector-effect="non-scaling-stroke">A</text>
<text transform="translate(203.68,426.31) scale(0.0406,0.1564)" fill="#F5B02B" stroke="#F5B02B" vector-effect="non-scaling-stroke">G</text>
<text transform="translate(206.74,426.31) scale(0.0406,0.1564)" fill="#F5B02B" stroke="#F5B02B" vector-effect="non-scaling-stroke">G</text>
<text transform="translate(209.92,426.31) scale(0.0468,0.1743)" fill="#D62839" stroke="#D62839" vector-effect="non-scaling-stroke">T</text>
<text transform="translate(212.86,426.31) scale(0.0425,0.1564)" fill="#22529a" stroke="#22529a" vector-effect="non-scaling-stroke">C</text>
<text transform="translate(215.96,426.31) scale(0.0418,0.1564)" fill="#109648" stroke="#109648" vector-effect="non-scaling-stroke">A</text>
</g>
<path d="M52.5,479.2C54.3,478.8 55.7,479.5 57.0,479.9C58.3,480.3 59.3,480.5 60.5,481.4C61.7,482.3 63.1,484.0 64.4,485.5C65.7,487.0 67.2,489.1 68.3,490.3C69.4,491.6 69.8,492.9 70.8,493.0C71.8,493.1 72.7,491.6 74.0,490.6C75.3,489.6 76.9,488.0 78.8,486.8C80.7,485.6 83.2,484.3 85.6,483.3C88.0,482.3 90.9,481.5 93.3,480.8C95.7,480.1 98.0,479.7 100.0,479.3C102.0,478.9 102.0,478.6 105.0,478.4C108.0,478.2 114.5,477.9 118.0,477.9C121.5,477.9 123.9,477.4 126.0,478.3C128.1,479.2 129.2,481.5 130.5,483.0C131.8,484.5 132.8,485.9 133.5,487.5C134.2,489.1 133.5,491.2 134.5,492.5C135.5,493.8 138.5,494.2 139.3,495.5C140.1,496.8 139.9,498.4 139.2,500.0C138.4,501.6 135.7,503.4 134.8,505.0C133.9,506.6 135.2,507.9 133.8,509.5C132.4,511.1 129.1,512.9 126.5,514.3C123.9,515.7 120.4,516.9 118.0,517.7C115.6,518.5 113.8,518.5 112.0,519.0C110.2,519.5 108.8,519.7 107.5,520.5C106.2,521.3 105.0,522.4 104.0,524.0C103.0,525.6 102.7,528.0 101.5,530.0C100.3,532.0 99.0,534.2 97.0,536.0C95.0,537.8 92.0,539.4 89.2,540.6C86.4,541.8 83.1,542.8 80.0,543.3C76.9,543.8 73.6,543.9 70.8,543.6C68.0,543.4 65.2,542.8 63.0,541.8C60.8,540.8 59.0,539.3 57.3,537.3C55.6,535.3 54.1,532.5 52.6,530.0C51.1,527.5 49.6,525.2 48.2,522.5C46.8,519.8 45.3,516.2 44.2,513.5C43.1,510.8 42.2,508.9 41.5,506.0C40.8,503.1 39.8,499.1 39.8,496.0C39.8,492.9 40.5,489.8 41.5,487.5C42.5,485.2 44.2,483.4 46.0,482.0C47.8,480.6 50.7,479.6 52.5,479.2Z" fill="#d6d6d6"/>
<path d="M151.5,502 l4,1.2 l4,2.2 l-0.6,1.6 l-4,-1.3 l-3.6,-2.2z" fill="none" stroke="#dcdcdc" stroke-width="0.8"/>
<path d="M119.4 510.3h0.8v0.8h-0.8zM130.4 501.6h0.8v0.8h-0.8zM95.9 505.2h0.8v0.8h-0.8zM81.6 503.9h0.8v0.8h-0.8zM80.0 503.5h0.8v0.8h-0.8zM58.0 491.0h0.8v0.8h-0.8zM102.0 523.6h0.8v0.8h-0.8zM62.4 527.4h0.8v0.8h-0.8zM75.7 526.3h0.8v0.8h-0.8zM46.0 498.3h0.8v0.8h-0.8zM55.1 497.4h0.8v0.8h-0.8zM53.1 502.5h0.8v0.8h-0.8zM121.1 486.7h0.8v0.8h-0.8zM105.3 504.4h0.8v0.8h-0.8zM98.5 514.6h0.8v0.8h-0.8zM114.4 504.9h0.8v0.8h-0.8zM84.3 491.6h0.8v0.8h-0.8zM44.9 488.2h0.8v0.8h-0.8zM118.7 484.4h0.8v0.8h-0.8zM64.9 534.1h0.8v0.8h-0.8zM108.2 489.7h0.8v0.8h-0.8zM133.1 492.9h0.8v0.8h-0.8zM78.4 530.6h0.8v0.8h-0.8zM50.5 499.5h0.8v0.8h-0.8zM80.4 542.6h0.8v0.8h-0.8zM87.4 496.5h0.8v0.8h-0.8zM83.9 517.5h0.8v0.8h-0.8zM69.6 534.5h0.8v0.8h-0.8zM130.1 506.9h0.8v0.8h-0.8zM74.2 511.0h0.8v0.8h-0.8zM135.7 499.9h0.8v0.8h-0.8zM110.7 484.5h0.8v0.8h-0.8zM113.2 492.4h0.8v0.8h-0.8zM81.6 532.1h0.8v0.8h-0.8zM133.3 490.5h0.8v0.8h-0.8zM62.0 519.4h0.8v0.8h-0.8zM87.6 506.8h0.8v0.8h-0.8zM50.3 514.9h0.8v0.8h-0.8zM55.2 521.6h0.8v0.8h-0.8zM75.6 509.9h0.8v0.8h-0.8zM123.2 510.3h0.8v0.8h-0.8zM119.5 485.8h0.8v0.8h-0.8zM83.5 489.3h0.8v0.8h-0.8zM104.0 497.3h0.8v0.8h-0.8zM131.4 503.0h0.8v0.8h-0.8zM67.1 507.1h0.8v0.8h-0.8zM74.7 491.5h0.8v0.8h-0.8zM81.3 518.7h0.8v0.8h-0.8zM56.1 486.5h0.8v0.8h-0.8zM81.0 493.3h0.8v0.8h-0.8zM107.6 479.5h0.8v0.8h-0.8zM126.7 488.2h0.8v0.8h-0.8zM121.3 502.1h0.8v0.8h-0.8zM92.2 538.0h0.8v0.8h-0.8zM134.1 505.2h0.8v0.8h-0.8zM120.1 495.5h0.8v0.8h-0.8zM43.5 502.9h0.8v0.8h-0.8zM85.7 488.1h0.8v0.8h-0.8zM100.2 523.0h0.8v0.8h-0.8zM103.7 518.4h0.8v0.8h-0.8z" fill="#e0e0e0"/>
<defs><filter id="blC" x="-20%" y="-20%" width="140%" height="140%"><feGaussianBlur stdDeviation="0.9"/></filter><filter id="blCs" x="-5%" y="-5%" width="110%" height="110%"><feGaussianBlur stdDeviation="0.28"/></filter></defs>
<path d="M66,479 L76,477.5 L79,486 L69,495 L64,492Z" fill="#eef4f8" filter="url(#blC)"/>
<path d="M61.9,503.1C62.7,502.2 67.2,498.8 68.8,497.4C70.4,496.0 76.2,490.7 78.0,489.3C79.8,487.9 85.6,484.4 87.3,483.5C89.0,482.6 93.8,480.6 95.4,480.0C97.0,479.4 102.0,478.1 103.4,477.8C104.8,477.5 108.5,477.3 109.2,477.3C109.9,477.3 110.6,477.8 110.6,478.0C110.6,478.2 109.9,478.5 109.2,479.2C108.5,479.9 104.4,483.6 103.4,484.7C102.4,485.8 99.6,489.4 98.8,490.5C98.0,491.6 96.3,495.2 95.4,496.2C94.5,497.2 90.9,499.9 89.6,500.8C88.3,501.7 84.1,504.6 82.7,505.4C81.3,506.2 77.2,508.4 75.8,508.9C74.4,509.4 70.0,510.0 68.8,510.0C67.6,510.0 65.0,509.3 64.2,508.9C63.4,508.5 61.4,506.6 61.2,506.0C61.0,505.4 61.1,504.0 61.9,503.1Z" fill="#d8691f" fill-opacity="0.97" filter="url(#blCs)"/>
<g filter="url(#blCs)"><path d="M64.0 504.4h0.8v0.8h-0.8zM68.3 505.8h0.8v0.8h-0.8zM70.4 501.7h0.8v0.8h-0.8zM72.1 508.0h0.8v0.8h-0.8zM71.3 504.9h0.8v0.8h-0.8zM75.0 504.1h0.8v0.8h-0.8zM74.2 503.2h0.8v0.8h-0.8zM74.0 506.2h0.8v0.8h-0.8zM72.0 506.3h0.8v0.8h-0.8zM68.7 509.1h0.8v0.8h-0.8zM80.3 494.3h0.8v0.8h-0.8zM74.1 506.3h0.8v0.8h-0.8zM73.1 499.5h0.8v0.8h-0.8zM81.8 490.1h0.8v0.8h-0.8zM73.1 506.6h0.8v0.8h-0.8zM68.4 508.0h0.8v0.8h-0.8zM76.6 505.1h0.8v0.8h-0.8zM75.0 501.4h0.8v0.8h-0.8zM66.6 507.6h0.8v0.8h-0.8zM67.5 502.2h0.8v0.8h-0.8zM77.5 504.3h0.8v0.8h-0.8zM68.7 506.6h0.8v0.8h-0.8zM73.2 505.3h0.8v0.8h-0.8zM67.1 498.8h0.8v0.8h-0.8zM65.3 506.4h0.8v0.8h-0.8zM76.5 503.9h0.8v0.8h-0.8zM76.5 502.6h0.8v0.8h-0.8zM78.3 501.9h0.8v0.8h-0.8zM70.9 497.3h0.8v0.8h-0.8zM74.0 497.6h0.8v0.8h-0.8zM69.7 508.5h0.8v0.8h-0.8zM75.6 499.6h0.8v0.8h-0.8zM80.7 499.7h0.8v0.8h-0.8zM72.2 508.3h0.8v0.8h-0.8zM70.0 504.2h0.8v0.8h-0.8zM69.7 506.0h0.8v0.8h-0.8zM74.3 503.1h0.8v0.8h-0.8zM73.6 505.7h0.8v0.8h-0.8zM67.7 501.9h0.8v0.8h-0.8zM78.2 499.0h0.8v0.8h-0.8zM76.3 503.4h0.8v0.8h-0.8zM71.2 507.3h0.8v0.8h-0.8zM65.5 500.7h0.8v0.8h-0.8zM72.4 502.1h0.8v0.8h-0.8zM83.2 500.2h0.8v0.8h-0.8zM74.4 505.8h0.8v0.8h-0.8zM75.3 504.6h0.8v0.8h-0.8zM79.3 500.6h0.8v0.8h-0.8zM71.1 506.4h0.8v0.8h-0.8zM71.9 508.6h0.8v0.8h-0.8zM73.4 502.0h0.8v0.8h-0.8zM79.8 499.3h0.8v0.8h-0.8zM63.3 504.1h0.8v0.8h-0.8zM74.5 507.7h0.8v0.8h-0.8zM78.8 501.1h0.8v0.8h-0.8zM76.9 503.3h0.8v0.8h-0.8zM70.3 505.2h0.8v0.8h-0.8zM73.4 499.0h0.8v0.8h-0.8zM78.2 502.3h0.8v0.8h-0.8zM83.8 499.7h0.8v0.8h-0.8zM74.5 503.7h0.8v0.8h-0.8zM76.6 502.6h0.8v0.8h-0.8zM62.5 506.3h0.8v0.8h-0.8zM79.3 497.8h0.8v0.8h-0.8zM75.9 500.3h0.8v0.8h-0.8zM71.6 495.3h0.8v0.8h-0.8zM67.8 500.8h0.8v0.8h-0.8zM84.6 501.0h0.8v0.8h-0.8zM75.9 501.4h0.8v0.8h-0.8zM76.8 503.6h0.8v0.8h-0.8zM68.3 507.3h0.8v0.8h-0.8zM69.8 500.2h0.8v0.8h-0.8zM62.5 507.3h0.8v0.8h-0.8zM74.9 492.2h0.8v0.8h-0.8zM73.8 495.0h0.8v0.8h-0.8zM75.1 508.8h0.8v0.8h-0.8zM79.5 499.1h0.8v0.8h-0.8zM79.0 506.9h0.8v0.8h-0.8zM70.9 502.9h0.8v0.8h-0.8zM81.2 500.0h0.8v0.8h-0.8zM66.8 503.0h0.8v0.8h-0.8zM89.9 497.7h0.8v0.8h-0.8zM66.4 506.2h0.8v0.8h-0.8zM75.3 507.1h0.8v0.8h-0.8zM76.0 497.4h0.8v0.8h-0.8zM72.7 502.0h0.8v0.8h-0.8zM80.3 504.1h0.8v0.8h-0.8zM74.7 505.8h0.8v0.8h-0.8zM76.1 506.8h0.8v0.8h-0.8zM69.4 500.9h0.8v0.8h-0.8zM67.6 502.5h0.8v0.8h-0.8zM76.6 505.0h0.8v0.8h-0.8zM81.4 498.7h0.8v0.8h-0.8zM65.3 507.7h0.8v0.8h-0.8zM71.9 500.2h0.8v0.8h-0.8zM77.2 503.6h0.8v0.8h-0.8zM71.5 501.4h0.8v0.8h-0.8zM68.2 507.6h0.8v0.8h-0.8zM68.4 508.9h0.8v0.8h-0.8zM73.0 503.0h0.8v0.8h-0.8zM71.3 509.0h0.8v0.8h-0.8zM67.1 504.6h0.8v0.8h-0.8zM66.7 503.3h0.8v0.8h-0.8zM77.3 502.8h0.8v0.8h-0.8zM71.5 508.9h0.8v0.8h-0.8zM71.0 502.6h0.8v0.8h-0.8zM74.9 505.1h0.8v0.8h-0.8zM62.6 504.4h0.8v0.8h-0.8zM72.4 504.8h0.8v0.8h-0.8zM76.1 504.3h0.8v0.8h-0.8zM73.3 499.0h0.8v0.8h-0.8zM82.6 496.9h0.8v0.8h-0.8zM66.9 503.9h0.8v0.8h-0.8zM78.4 500.6h0.8v0.8h-0.8zM66.1 502.0h0.8v0.8h-0.8zM81.7 504.6h0.8v0.8h-0.8zM75.9 500.5h0.8v0.8h-0.8zM67.7 503.7h0.8v0.8h-0.8zM72.6 509.2h0.8v0.8h-0.8zM67.8 500.3h0.8v0.8h-0.8zM74.4 495.9h0.8v0.8h-0.8zM71.2 508.0h0.8v0.8h-0.8zM77.0 494.6h0.8v0.8h-0.8zM70.6 497.0h0.8v0.8h-0.8zM69.0 502.5h0.8v0.8h-0.8zM75.6 497.5h0.8v0.8h-0.8zM75.0 493.5h0.8v0.8h-0.8zM75.6 497.4h0.8v0.8h-0.8zM72.8 505.2h0.8v0.8h-0.8zM74.8 503.0h0.8v0.8h-0.8zM91.1 493.8h0.8v0.8h-0.8zM72.3 506.4h0.8v0.8h-0.8zM75.8 503.2h0.8v0.8h-0.8zM75.1 499.0h0.8v0.8h-0.8zM71.6 501.3h0.8v0.8h-0.8zM70.5 500.7h0.8v0.8h-0.8zM72.1 506.3h0.8v0.8h-0.8zM78.4 504.9h0.8v0.8h-0.8zM75.8 492.0h0.8v0.8h-0.8zM63.8 505.0h0.8v0.8h-0.8zM73.8 502.7h0.8v0.8h-0.8zM68.6 505.3h0.8v0.8h-0.8zM81.9 501.3h0.8v0.8h-0.8zM79.3 504.1h0.8v0.8h-0.8zM72.7 504.9h0.8v0.8h-0.8zM66.6 505.3h0.8v0.8h-0.8zM76.1 508.6h0.8v0.8h-0.8zM72.0 502.9h0.8v0.8h-0.8zM71.7 498.3h0.8v0.8h-0.8zM78.0 499.7h0.8v0.8h-0.8zM81.6 502.3h0.8v0.8h-0.8zM72.1 504.9h0.8v0.8h-0.8zM75.7 506.0h0.8v0.8h-0.8zM70.5 505.5h0.8v0.8h-0.8zM72.0 503.8h0.8v0.8h-0.8zM77.1 506.8h0.8v0.8h-0.8zM83.0 502.7h0.8v0.8h-0.8zM67.1 508.2h0.8v0.8h-0.8zM69.4 501.4h0.8v0.8h-0.8zM69.5 506.2h0.8v0.8h-0.8zM70.5 503.2h0.8v0.8h-0.8zM67.2 506.2h0.8v0.8h-0.8zM74.8 500.1h0.8v0.8h-0.8zM71.0 500.9h0.8v0.8h-0.8zM69.7 505.1h0.8v0.8h-0.8zM79.5 500.3h0.8v0.8h-0.8zM74.0 500.6h0.8v0.8h-0.8zM67.3 506.3h0.8v0.8h-0.8zM64.8 505.3h0.8v0.8h-0.8zM82.9 502.9h0.8v0.8h-0.8zM79.5 506.1h0.8v0.8h-0.8zM75.8 501.4h0.8v0.8h-0.8zM79.3 501.2h0.8v0.8h-0.8zM75.9 496.8h0.8v0.8h-0.8zM67.2 503.3h0.8v0.8h-0.8zM68.5 507.3h0.8v0.8h-0.8zM75.7 500.4h0.8v0.8h-0.8zM76.9 501.0h0.8v0.8h-0.8zM77.7 498.3h0.8v0.8h-0.8zM72.9 502.1h0.8v0.8h-0.8zM73.6 501.0h0.8v0.8h-0.8zM67.1 503.9h0.8v0.8h-0.8zM78.6 506.6h0.8v0.8h-0.8zM73.8 504.2h0.8v0.8h-0.8zM67.7 505.0h0.8v0.8h-0.8zM72.3 503.4h0.8v0.8h-0.8zM71.6 506.4h0.8v0.8h-0.8zM68.9 501.1h0.8v0.8h-0.8zM64.0 504.7h0.8v0.8h-0.8zM67.6 504.8h0.8v0.8h-0.8zM73.9 504.8h0.8v0.8h-0.8zM77.4 505.4h0.8v0.8h-0.8zM79.8 503.5h0.8v0.8h-0.8zM73.3 501.0h0.8v0.8h-0.8zM65.4 506.0h0.8v0.8h-0.8zM65.9 508.6h0.8v0.8h-0.8zM84.3 495.1h0.8v0.8h-0.8zM65.9 505.5h0.8v0.8h-0.8zM73.5 504.4h0.8v0.8h-0.8zM66.1 505.1h0.8v0.8h-0.8zM66.7 501.3h0.8v0.8h-0.8zM68.6 507.2h0.8v0.8h-0.8zM76.2 496.6h0.8v0.8h-0.8zM69.5 500.5h0.8v0.8h-0.8zM72.2 505.6h0.8v0.8h-0.8zM81.0 502.3h0.8v0.8h-0.8zM73.4 502.7h0.8v0.8h-0.8zM65.0 508.9h0.8v0.8h-0.8zM76.9 494.4h0.8v0.8h-0.8zM70.6 500.4h0.8v0.8h-0.8zM78.4 493.0h0.8v0.8h-0.8zM67.4 503.7h0.8v0.8h-0.8zM69.2 505.6h0.8v0.8h-0.8zM76.9 502.1h0.8v0.8h-0.8zM67.9 504.9h0.8v0.8h-0.8zM72.2 504.8h0.8v0.8h-0.8zM82.0 502.8h0.8v0.8h-0.8zM81.8 494.3h0.8v0.8h-0.8zM86.8 497.7h0.8v0.8h-0.8zM68.9 502.8h0.8v0.8h-0.8zM74.9 500.7h0.8v0.8h-0.8zM67.5 509.2h0.8v0.8h-0.8zM77.6 506.0h0.8v0.8h-0.8zM76.8 500.6h0.8v0.8h-0.8zM88.9 489.8h0.8v0.8h-0.8zM70.5 508.9h0.8v0.8h-0.8zM69.5 506.1h0.8v0.8h-0.8zM73.2 502.7h0.8v0.8h-0.8zM87.0 499.0h0.8v0.8h-0.8zM76.3 505.7h0.8v0.8h-0.8zM68.0 505.0h0.8v0.8h-0.8zM67.5 507.2h0.8v0.8h-0.8zM70.5 505.8h0.8v0.8h-0.8zM69.3 509.0h0.8v0.8h-0.8zM64.0 508.7h0.8v0.8h-0.8zM74.0 504.1h0.8v0.8h-0.8zM65.8 505.8h0.8v0.8h-0.8zM78.9 504.5h0.8v0.8h-0.8zM65.9 506.4h0.8v0.8h-0.8zM66.3 507.6h0.8v0.8h-0.8zM76.9 502.5h0.8v0.8h-0.8zM73.2 505.6h0.8v0.8h-0.8zM72.8 504.8h0.8v0.8h-0.8zM77.6 505.4h0.8v0.8h-0.8zM72.3 505.8h0.8v0.8h-0.8zM70.8 506.2h0.8v0.8h-0.8zM81.2 500.2h0.8v0.8h-0.8zM70.9 504.0h0.8v0.8h-0.8zM72.8 501.7h0.8v0.8h-0.8zM78.5 499.5h0.8v0.8h-0.8zM73.0 502.6h0.8v0.8h-0.8zM71.5 508.9h0.8v0.8h-0.8zM65.3 501.6h0.8v0.8h-0.8zM80.6 492.5h0.8v0.8h-0.8zM71.4 508.3h0.8v0.8h-0.8zM65.8 509.2h0.8v0.8h-0.8zM70.4 506.7h0.8v0.8h-0.8zM77.1 502.9h0.8v0.8h-0.8zM83.9 498.9h0.8v0.8h-0.8zM67.6 508.9h0.8v0.8h-0.8zM88.3 496.5h0.8v0.8h-0.8zM81.7 489.6h0.8v0.8h-0.8zM71.0 501.3h0.8v0.8h-0.8zM62.6 503.6h0.8v0.8h-0.8zM81.5 489.5h0.8v0.8h-0.8zM100.6 484.5h0.8v0.8h-0.8zM107.4 477.9h0.8v0.8h-0.8zM62.8 505.3h0.8v0.8h-0.8zM103.6 479.0h0.8v0.8h-0.8zM95.3 483.9h0.8v0.8h-0.8zM88.8 484.5h0.8v0.8h-0.8zM79.9 500.1h0.8v0.8h-0.8zM109.4 478.8h0.8v0.8h-0.8zM100.3 479.1h0.8v0.8h-0.8zM91.3 497.6h0.8v0.8h-0.8zM97.4 484.1h0.8v0.8h-0.8zM107.4 477.5h0.8v0.8h-0.8zM73.7 494.4h0.8v0.8h-0.8zM86.7 496.7h0.8v0.8h-0.8zM69.4 509.8h0.8v0.8h-0.8zM91.3 483.1h0.8v0.8h-0.8zM74.1 496.2h0.8v0.8h-0.8zM85.7 494.6h0.8v0.8h-0.8zM79.8 495.0h0.8v0.8h-0.8zM74.9 497.2h0.8v0.8h-0.8zM88.0 494.7h0.8v0.8h-0.8zM103.6 480.5h0.8v0.8h-0.8zM82.7 490.1h0.8v0.8h-0.8zM84.9 494.7h0.8v0.8h-0.8zM88.1 492.5h0.8v0.8h-0.8zM94.0 489.3h0.8v0.8h-0.8zM83.5 500.5h0.8v0.8h-0.8zM91.6 486.9h0.8v0.8h-0.8zM105.8 479.8h0.8v0.8h-0.8zM71.3 505.7h0.8v0.8h-0.8zM64.2 503.1h0.8v0.8h-0.8zM68.5 504.5h0.8v0.8h-0.8zM73.3 505.6h0.8v0.8h-0.8zM103.9 481.0h0.8v0.8h-0.8zM85.9 500.7h0.8v0.8h-0.8zM72.8 505.3h0.8v0.8h-0.8zM91.1 494.5h0.8v0.8h-0.8zM85.8 486.7h0.8v0.8h-0.8zM88.5 495.2h0.8v0.8h-0.8zM91.7 485.7h0.8v0.8h-0.8zM91.5 493.9h0.8v0.8h-0.8zM77.8 503.4h0.8v0.8h-0.8zM90.1 492.1h0.8v0.8h-0.8zM94.5 488.7h0.8v0.8h-0.8zM65.9 504.7h0.8v0.8h-0.8zM86.4 484.4h0.8v0.8h-0.8zM91.1 498.1h0.8v0.8h-0.8zM86.0 496.6h0.8v0.8h-0.8zM64.7 507.2h0.8v0.8h-0.8zM78.5 491.9h0.8v0.8h-0.8zM72.9 498.2h0.8v0.8h-0.8zM69.9 509.2h0.8v0.8h-0.8zM71.1 500.0h0.8v0.8h-0.8zM75.7 494.2h0.8v0.8h-0.8zM76.7 490.7h0.8v0.8h-0.8zM70.7 507.8h0.8v0.8h-0.8zM74.9 508.9h0.8v0.8h-0.8zM71.7 502.3h0.8v0.8h-0.8zM107.1 477.9h0.8v0.8h-0.8zM82.5 501.2h0.8v0.8h-0.8zM105.5 480.3h0.8v0.8h-0.8zM72.9 504.6h0.8v0.8h-0.8zM91.5 490.2h0.8v0.8h-0.8zM75.8 498.8h0.8v0.8h-0.8zM85.3 489.9h0.8v0.8h-0.8zM70.8 501.5h0.8v0.8h-0.8zM92.8 486.1h0.8v0.8h-0.8zM78.5 489.3h0.8v0.8h-0.8zM76.7 501.4h0.8v0.8h-0.8zM89.5 487.8h0.8v0.8h-0.8zM91.9 491.8h0.8v0.8h-0.8zM100.0 486.4h0.8v0.8h-0.8zM83.8 496.1h0.8v0.8h-0.8zM100.4 486.2h0.8v0.8h-0.8zM96.4 482.7h0.8v0.8h-0.8z" fill="#f4b27a" fill-opacity="0.9"/><path d="M70.1 511.8h0.8v0.8h-0.8zM76.4 514.5h0.8v0.8h-0.8zM65.8 534.6h0.8v0.8h-0.8zM71.0 536.9h0.8v0.8h-0.8zM70.9 534.7h0.8v0.8h-0.8zM68.2 519.1h0.8v0.8h-0.8zM65.7 522.2h0.8v0.8h-0.8zM66.2 532.5h0.8v0.8h-0.8zM62.9 523.7h0.8v0.8h-0.8zM54.8 532.3h0.8v0.8h-0.8zM69.4 527.5h0.8v0.8h-0.8zM63.9 540.6h0.8v0.8h-0.8zM61.1 522.6h0.8v0.8h-0.8zM58.1 524.4h0.8v0.8h-0.8zM56.2 533.5h0.8v0.8h-0.8zM66.6 523.1h0.8v0.8h-0.8zM69.2 533.2h0.8v0.8h-0.8zM54.6 524.9h0.8v0.8h-0.8zM68.9 516.9h0.8v0.8h-0.8zM70.4 513.2h0.8v0.8h-0.8zM70.6 518.2h0.8v0.8h-0.8zM70.1 524.1h0.8v0.8h-0.8zM62.5 518.4h0.8v0.8h-0.8zM68.7 516.0h0.8v0.8h-0.8zM64.0 541.4h0.8v0.8h-0.8zM65.7 533.5h0.8v0.8h-0.8zM61.5 530.2h0.8v0.8h-0.8zM62.3 537.8h0.8v0.8h-0.8zM75.5 511.5h0.8v0.8h-0.8zM68.7 521.5h0.8v0.8h-0.8zM63.3 516.2h0.8v0.8h-0.8zM63.0 522.9h0.8v0.8h-0.8zM76.5 511.8h0.8v0.8h-0.8zM77.1 520.2h0.8v0.8h-0.8zM70.7 525.0h0.8v0.8h-0.8zM63.2 512.7h0.8v0.8h-0.8zM73.0 519.0h0.8v0.8h-0.8zM77.4 513.7h0.8v0.8h-0.8zM59.4 528.5h0.8v0.8h-0.8zM70.6 516.6h0.8v0.8h-0.8zM70.9 524.4h0.8v0.8h-0.8zM72.5 504.6h0.8v0.8h-0.8zM61.1 525.7h0.8v0.8h-0.8zM63.6 514.1h0.8v0.8h-0.8zM65.0 510.3h0.8v0.8h-0.8zM68.0 511.8h0.8v0.8h-0.8zM56.5 523.0h0.8v0.8h-0.8zM73.4 517.2h0.8v0.8h-0.8zM63.6 505.7h0.8v0.8h-0.8zM65.7 525.4h0.8v0.8h-0.8zM59.7 531.2h0.8v0.8h-0.8zM63.4 515.9h0.8v0.8h-0.8zM64.2 522.6h0.8v0.8h-0.8zM65.6 526.9h0.8v0.8h-0.8zM65.8 535.5h0.8v0.8h-0.8zM59.8 526.0h0.8v0.8h-0.8zM62.9 539.5h0.8v0.8h-0.8zM76.4 524.5h0.8v0.8h-0.8zM63.3 523.7h0.8v0.8h-0.8zM71.5 522.4h0.8v0.8h-0.8zM63.3 509.0h0.8v0.8h-0.8zM63.5 541.4h0.8v0.8h-0.8zM57.2 513.0h0.8v0.8h-0.8zM58.2 533.2h0.8v0.8h-0.8zM67.4 529.0h0.8v0.8h-0.8zM62.7 532.8h0.8v0.8h-0.8zM75.0 518.8h0.8v0.8h-0.8zM69.7 513.4h0.8v0.8h-0.8zM64.9 518.8h0.8v0.8h-0.8zM66.0 528.0h0.8v0.8h-0.8zM61.6 518.1h0.8v0.8h-0.8zM64.3 539.0h0.8v0.8h-0.8zM68.9 526.8h0.8v0.8h-0.8zM68.1 533.7h0.8v0.8h-0.8zM67.5 532.0h0.8v0.8h-0.8zM64.8 518.3h0.8v0.8h-0.8zM66.7 532.3h0.8v0.8h-0.8zM66.7 533.6h0.8v0.8h-0.8zM69.2 535.8h0.8v0.8h-0.8zM56.5 519.6h0.8v0.8h-0.8zM71.8 521.2h0.8v0.8h-0.8zM63.2 525.5h0.8v0.8h-0.8zM69.9 515.3h0.8v0.8h-0.8zM59.9 532.7h0.8v0.8h-0.8zM65.1 528.6h0.8v0.8h-0.8zM73.7 529.1h0.8v0.8h-0.8zM56.9 532.2h0.8v0.8h-0.8zM72.7 522.0h0.8v0.8h-0.8zM66.1 530.2h0.8v0.8h-0.8zM66.7 520.6h0.8v0.8h-0.8zM61.9 512.9h0.8v0.8h-0.8zM65.5 523.6h0.8v0.8h-0.8zM74.1 517.5h0.8v0.8h-0.8zM64.9 525.6h0.8v0.8h-0.8zM71.1 536.4h0.8v0.8h-0.8zM63.2 533.2h0.8v0.8h-0.8zM72.2 528.0h0.8v0.8h-0.8zM58.5 531.3h0.8v0.8h-0.8zM67.7 532.1h0.8v0.8h-0.8zM77.8 527.4h0.8v0.8h-0.8zM59.1 530.6h0.8v0.8h-0.8zM58.9 529.8h0.8v0.8h-0.8zM62.1 533.9h0.8v0.8h-0.8zM63.8 520.5h0.8v0.8h-0.8zM73.7 521.7h0.8v0.8h-0.8zM70.3 513.9h0.8v0.8h-0.8zM63.0 528.8h0.8v0.8h-0.8zM64.1 519.8h0.8v0.8h-0.8zM61.8 528.1h0.8v0.8h-0.8zM76.0 501.0h0.8v0.8h-0.8zM70.9 512.8h0.8v0.8h-0.8zM77.1 518.2h0.8v0.8h-0.8zM70.1 514.7h0.8v0.8h-0.8zM61.3 510.3h0.8v0.8h-0.8zM74.9 515.9h0.8v0.8h-0.8zM63.1 530.2h0.8v0.8h-0.8zM68.1 517.2h0.8v0.8h-0.8zM70.8 530.5h0.8v0.8h-0.8zM64.9 536.9h0.8v0.8h-0.8zM62.8 520.9h0.8v0.8h-0.8zM63.9 533.6h0.8v0.8h-0.8zM67.8 536.4h0.8v0.8h-0.8zM58.9 526.8h0.8v0.8h-0.8zM71.7 515.2h0.8v0.8h-0.8zM67.3 520.5h0.8v0.8h-0.8zM69.8 507.7h0.8v0.8h-0.8zM74.1 517.8h0.8v0.8h-0.8zM68.1 537.5h0.8v0.8h-0.8zM72.0 517.5h0.8v0.8h-0.8zM69.9 527.9h0.8v0.8h-0.8zM68.8 515.6h0.8v0.8h-0.8zM74.6 519.4h0.8v0.8h-0.8zM69.5 510.2h0.8v0.8h-0.8zM66.1 530.1h0.8v0.8h-0.8zM66.2 511.6h0.8v0.8h-0.8zM65.0 529.3h0.8v0.8h-0.8zM66.8 536.1h0.8v0.8h-0.8zM67.6 520.9h0.8v0.8h-0.8zM64.1 515.7h0.8v0.8h-0.8zM76.2 507.6h0.8v0.8h-0.8zM69.0 527.4h0.8v0.8h-0.8zM73.5 516.6h0.8v0.8h-0.8zM79.7 515.2h0.8v0.8h-0.8zM60.6 528.7h0.8v0.8h-0.8zM63.9 520.3h0.8v0.8h-0.8zM67.9 533.0h0.8v0.8h-0.8zM58.1 530.3h0.8v0.8h-0.8zM60.4 527.4h0.8v0.8h-0.8zM79.5 514.3h0.8v0.8h-0.8zM64.3 527.5h0.8v0.8h-0.8zM68.1 516.1h0.8v0.8h-0.8zM62.6 527.6h0.8v0.8h-0.8zM68.1 522.3h0.8v0.8h-0.8zM58.8 536.7h0.8v0.8h-0.8zM70.1 516.4h0.8v0.8h-0.8zM58.1 528.3h0.8v0.8h-0.8zM57.5 530.3h0.8v0.8h-0.8zM69.3 526.1h0.8v0.8h-0.8zM71.2 511.4h0.8v0.8h-0.8zM63.2 530.0h0.8v0.8h-0.8zM65.7 518.9h0.8v0.8h-0.8zM66.8 527.4h0.8v0.8h-0.8zM62.1 524.4h0.8v0.8h-0.8zM59.2 525.5h0.8v0.8h-0.8zM73.2 519.8h0.8v0.8h-0.8zM70.8 525.6h0.8v0.8h-0.8zM67.0 521.8h0.8v0.8h-0.8zM62.7 522.7h0.8v0.8h-0.8zM59.3 535.9h0.8v0.8h-0.8zM62.4 534.7h0.8v0.8h-0.8zM66.7 518.2h0.8v0.8h-0.8zM69.1 513.8h0.8v0.8h-0.8zM77.9 502.7h0.8v0.8h-0.8zM67.4 503.3h0.8v0.8h-0.8zM70.5 514.7h0.8v0.8h-0.8zM70.2 516.4h0.8v0.8h-0.8zM63.7 539.3h0.8v0.8h-0.8zM76.2 523.8h0.8v0.8h-0.8zM70.3 516.8h0.8v0.8h-0.8zM72.2 525.4h0.8v0.8h-0.8zM66.2 530.3h0.8v0.8h-0.8zM56.1 531.4h0.8v0.8h-0.8zM72.0 522.7h0.8v0.8h-0.8zM73.5 529.1h0.8v0.8h-0.8zM59.5 526.2h0.8v0.8h-0.8zM61.9 535.3h0.8v0.8h-0.8zM72.4 533.5h0.8v0.8h-0.8zM66.8 531.7h0.8v0.8h-0.8zM77.4 518.3h0.8v0.8h-0.8zM65.2 524.6h0.8v0.8h-0.8zM65.2 507.6h0.8v0.8h-0.8zM66.5 514.5h0.8v0.8h-0.8zM69.9 516.4h0.8v0.8h-0.8zM74.5 522.0h0.8v0.8h-0.8zM64.6 521.9h0.8v0.8h-0.8zM63.8 508.8h0.8v0.8h-0.8zM75.9 521.8h0.8v0.8h-0.8zM61.5 516.9h0.8v0.8h-0.8zM65.0 521.5h0.8v0.8h-0.8zM66.8 518.5h0.8v0.8h-0.8zM73.4 515.3h0.8v0.8h-0.8zM66.8 522.4h0.8v0.8h-0.8zM69.1 520.7h0.8v0.8h-0.8zM63.8 526.7h0.8v0.8h-0.8zM62.0 538.2h0.8v0.8h-0.8zM67.8 513.3h0.8v0.8h-0.8zM63.2 514.5h0.8v0.8h-0.8zM64.8 526.8h0.8v0.8h-0.8zM62.2 523.2h0.8v0.8h-0.8zM68.3 513.3h0.8v0.8h-0.8zM62.4 531.6h0.8v0.8h-0.8zM70.5 518.3h0.8v0.8h-0.8zM73.4 509.2h0.8v0.8h-0.8zM59.6 514.6h0.8v0.8h-0.8zM66.0 524.6h0.8v0.8h-0.8zM68.8 525.9h0.8v0.8h-0.8zM68.4 522.6h0.8v0.8h-0.8zM62.2 508.4h0.8v0.8h-0.8zM67.1 511.3h0.8v0.8h-0.8zM70.7 515.7h0.8v0.8h-0.8zM59.6 528.7h0.8v0.8h-0.8zM61.9 530.1h0.8v0.8h-0.8zM69.6 525.0h0.8v0.8h-0.8zM81.1 504.1h0.8v0.8h-0.8zM65.4 533.7h0.8v0.8h-0.8zM74.3 526.9h0.8v0.8h-0.8zM62.7 530.9h0.8v0.8h-0.8zM61.2 515.8h0.8v0.8h-0.8zM65.8 505.3h0.8v0.8h-0.8zM71.4 525.9h0.8v0.8h-0.8zM68.2 522.0h0.8v0.8h-0.8zM74.7 513.1h0.8v0.8h-0.8zM70.2 524.7h0.8v0.8h-0.8zM75.3 511.9h0.8v0.8h-0.8zM68.9 525.9h0.8v0.8h-0.8zM66.8 535.6h0.8v0.8h-0.8zM78.4 513.2h0.8v0.8h-0.8zM59.5 525.9h0.8v0.8h-0.8zM56.8 535.1h0.8v0.8h-0.8zM70.1 520.2h0.8v0.8h-0.8zM63.0 534.7h0.8v0.8h-0.8zM73.9 520.0h0.8v0.8h-0.8zM66.6 526.1h0.8v0.8h-0.8zM66.9 526.6h0.8v0.8h-0.8zM67.2 520.5h0.8v0.8h-0.8zM67.0 522.5h0.8v0.8h-0.8zM68.5 532.3h0.8v0.8h-0.8zM66.6 517.7h0.8v0.8h-0.8zM71.1 520.1h0.8v0.8h-0.8zM69.4 539.7h0.8v0.8h-0.8zM70.0 507.9h0.8v0.8h-0.8zM68.9 526.7h0.8v0.8h-0.8zM73.5 512.6h0.8v0.8h-0.8zM70.4 523.0h0.8v0.8h-0.8zM64.3 521.2h0.8v0.8h-0.8zM65.3 525.8h0.8v0.8h-0.8zM65.0 522.9h0.8v0.8h-0.8zM59.8 522.8h0.8v0.8h-0.8zM69.0 518.5h0.8v0.8h-0.8zM63.2 533.0h0.8v0.8h-0.8zM63.0 535.7h0.8v0.8h-0.8zM66.7 526.4h0.8v0.8h-0.8zM65.5 528.4h0.8v0.8h-0.8zM60.7 531.5h0.8v0.8h-0.8zM67.9 526.2h0.8v0.8h-0.8zM72.8 503.0h0.8v0.8h-0.8zM67.2 524.4h0.8v0.8h-0.8zM62.4 519.9h0.8v0.8h-0.8zM62.7 532.2h0.8v0.8h-0.8zM68.3 528.1h0.8v0.8h-0.8zM75.3 516.9h0.8v0.8h-0.8zM66.6 533.7h0.8v0.8h-0.8zM68.1 528.6h0.8v0.8h-0.8zM74.3 512.8h0.8v0.8h-0.8zM67.6 518.9h0.8v0.8h-0.8zM63.2 514.6h0.8v0.8h-0.8zM67.3 523.4h0.8v0.8h-0.8zM69.5 531.7h0.8v0.8h-0.8zM62.8 535.4h0.8v0.8h-0.8zM68.1 512.1h0.8v0.8h-0.8zM71.7 521.0h0.8v0.8h-0.8zM65.7 515.7h0.8v0.8h-0.8zM64.8 522.1h0.8v0.8h-0.8zM72.0 507.0h0.8v0.8h-0.8zM64.2 512.8h0.8v0.8h-0.8zM75.3 514.4h0.8v0.8h-0.8zM60.4 526.8h0.8v0.8h-0.8zM62.2 523.0h0.8v0.8h-0.8zM57.4 536.3h0.8v0.8h-0.8zM63.5 535.1h0.8v0.8h-0.8zM66.5 523.8h0.8v0.8h-0.8zM58.6 529.4h0.8v0.8h-0.8zM57.8 522.1h0.8v0.8h-0.8zM67.4 517.5h0.8v0.8h-0.8zM63.7 517.4h0.8v0.8h-0.8zM75.2 525.4h0.8v0.8h-0.8zM61.5 520.2h0.8v0.8h-0.8zM63.5 529.8h0.8v0.8h-0.8zM73.3 508.2h0.8v0.8h-0.8zM67.4 512.2h0.8v0.8h-0.8zM63.8 538.6h0.8v0.8h-0.8zM62.0 525.0h0.8v0.8h-0.8zM62.9 524.5h0.8v0.8h-0.8zM66.4 512.4h0.8v0.8h-0.8zM61.9 524.4h0.8v0.8h-0.8zM68.1 518.5h0.8v0.8h-0.8zM65.8 536.0h0.8v0.8h-0.8zM74.2 528.8h0.8v0.8h-0.8zM78.7 510.9h0.8v0.8h-0.8zM69.8 523.1h0.8v0.8h-0.8zM66.5 518.3h0.8v0.8h-0.8zM60.8 527.8h0.8v0.8h-0.8zM65.1 529.5h0.8v0.8h-0.8zM61.1 517.5h0.8v0.8h-0.8zM66.2 530.9h0.8v0.8h-0.8zM69.5 517.6h0.8v0.8h-0.8zM63.3 537.9h0.8v0.8h-0.8zM69.7 507.5h0.8v0.8h-0.8zM71.6 519.3h0.8v0.8h-0.8zM60.8 531.8h0.8v0.8h-0.8zM70.7 510.5h0.8v0.8h-0.8zM69.0 517.3h0.8v0.8h-0.8zM74.7 505.7h0.8v0.8h-0.8zM70.5 532.9h0.8v0.8h-0.8zM66.2 524.2h0.8v0.8h-0.8zM59.8 537.8h0.8v0.8h-0.8zM78.9 511.9h0.8v0.8h-0.8zM67.9 527.7h0.8v0.8h-0.8zM62.7 516.5h0.8v0.8h-0.8zM67.0 519.5h0.8v0.8h-0.8zM71.1 531.0h0.8v0.8h-0.8zM53.9 518.7h0.8v0.8h-0.8zM57.5 518.8h0.8v0.8h-0.8zM68.7 513.9h0.8v0.8h-0.8zM65.2 529.5h0.8v0.8h-0.8zM65.5 531.1h0.8v0.8h-0.8zM68.3 511.5h0.8v0.8h-0.8zM72.0 532.1h0.8v0.8h-0.8zM71.2 517.9h0.8v0.8h-0.8zM68.1 516.7h0.8v0.8h-0.8zM76.3 517.7h0.8v0.8h-0.8zM69.3 539.8h0.8v0.8h-0.8zM64.6 517.0h0.8v0.8h-0.8zM59.3 510.8h0.8v0.8h-0.8zM64.7 519.1h0.8v0.8h-0.8zM62.9 525.5h0.8v0.8h-0.8zM70.3 519.2h0.8v0.8h-0.8zM71.9 508.3h0.8v0.8h-0.8zM72.0 527.0h0.8v0.8h-0.8zM61.2 522.7h0.8v0.8h-0.8zM62.1 504.6h0.8v0.8h-0.8zM62.6 528.2h0.8v0.8h-0.8zM72.8 530.9h0.8v0.8h-0.8zM70.8 508.9h0.8v0.8h-0.8zM66.8 525.3h0.8v0.8h-0.8zM71.9 517.6h0.8v0.8h-0.8zM64.0 531.0h0.8v0.8h-0.8zM66.5 518.0h0.8v0.8h-0.8zM62.6 524.9h0.8v0.8h-0.8zM66.0 522.2h0.8v0.8h-0.8zM64.4 529.0h0.8v0.8h-0.8zM63.3 527.9h0.8v0.8h-0.8zM64.0 515.1h0.8v0.8h-0.8zM67.5 527.3h0.8v0.8h-0.8zM63.5 506.0h0.8v0.8h-0.8zM63.0 531.2h0.8v0.8h-0.8zM64.3 537.9h0.8v0.8h-0.8zM71.4 508.2h0.8v0.8h-0.8zM70.5 508.1h0.8v0.8h-0.8zM67.5 536.0h0.8v0.8h-0.8zM62.3 527.8h0.8v0.8h-0.8zM58.1 537.5h0.8v0.8h-0.8zM68.1 515.1h0.8v0.8h-0.8zM65.4 519.6h0.8v0.8h-0.8zM66.5 522.6h0.8v0.8h-0.8zM65.9 521.1h0.8v0.8h-0.8zM59.4 521.8h0.8v0.8h-0.8zM72.6 520.6h0.8v0.8h-0.8zM74.1 537.2h0.8v0.8h-0.8zM68.3 527.3h0.8v0.8h-0.8zM66.0 508.8h0.8v0.8h-0.8zM74.3 515.1h0.8v0.8h-0.8zM80.9 511.1h0.8v0.8h-0.8zM70.7 521.3h0.8v0.8h-0.8zM76.6 516.7h0.8v0.8h-0.8zM68.8 514.0h0.8v0.8h-0.8zM92.5 519.4h0.8v0.8h-0.8zM71.2 529.5h0.8v0.8h-0.8zM76.3 525.1h0.8v0.8h-0.8zM95.1 512.3h0.8v0.8h-0.8zM94.6 510.3h0.8v0.8h-0.8zM88.1 512.4h0.8v0.8h-0.8zM82.4 511.3h0.8v0.8h-0.8zM77.7 511.1h0.8v0.8h-0.8zM71.4 514.9h0.8v0.8h-0.8zM85.1 502.2h0.8v0.8h-0.8zM70.7 515.9h0.8v0.8h-0.8zM75.2 515.4h0.8v0.8h-0.8zM65.6 514.0h0.8v0.8h-0.8zM81.7 511.8h0.8v0.8h-0.8zM70.7 518.3h0.8v0.8h-0.8zM72.6 513.2h0.8v0.8h-0.8zM94.0 512.8h0.8v0.8h-0.8zM83.3 525.6h0.8v0.8h-0.8zM78.8 510.8h0.8v0.8h-0.8zM76.7 504.8h0.8v0.8h-0.8zM87.7 522.3h0.8v0.8h-0.8zM85.1 520.1h0.8v0.8h-0.8zM87.5 514.8h0.8v0.8h-0.8zM81.2 516.2h0.8v0.8h-0.8zM77.9 506.7h0.8v0.8h-0.8zM83.6 523.4h0.8v0.8h-0.8zM66.0 514.0h0.8v0.8h-0.8zM72.9 511.8h0.8v0.8h-0.8zM64.2 513.5h0.8v0.8h-0.8zM68.0 526.9h0.8v0.8h-0.8zM83.7 505.2h0.8v0.8h-0.8zM72.7 510.4h0.8v0.8h-0.8zM76.3 521.9h0.8v0.8h-0.8zM77.9 522.3h0.8v0.8h-0.8zM81.6 508.3h0.8v0.8h-0.8zM59.1 514.5h0.8v0.8h-0.8zM68.5 524.4h0.8v0.8h-0.8zM75.7 523.0h0.8v0.8h-0.8zM85.4 518.3h0.8v0.8h-0.8zM57.7 524.9h0.8v0.8h-0.8zM61.6 514.9h0.8v0.8h-0.8zM67.5 510.5h0.8v0.8h-0.8zM74.2 517.7h0.8v0.8h-0.8zM74.7 512.2h0.8v0.8h-0.8zM68.4 518.0h0.8v0.8h-0.8zM88.0 513.3h0.8v0.8h-0.8zM83.8 506.7h0.8v0.8h-0.8zM78.8 507.9h0.8v0.8h-0.8zM79.5 520.9h0.8v0.8h-0.8zM88.4 518.5h0.8v0.8h-0.8zM70.0 517.5h0.8v0.8h-0.8zM70.5 519.6h0.8v0.8h-0.8zM78.7 514.5h0.8v0.8h-0.8zM68.3 516.8h0.8v0.8h-0.8zM87.3 516.4h0.8v0.8h-0.8zM65.7 518.6h0.8v0.8h-0.8zM79.3 518.3h0.8v0.8h-0.8zM73.9 517.1h0.8v0.8h-0.8zM71.2 527.0h0.8v0.8h-0.8zM74.4 512.2h0.8v0.8h-0.8zM68.5 503.1h0.8v0.8h-0.8zM79.0 509.4h0.8v0.8h-0.8zM55.7 518.3h0.8v0.8h-0.8zM85.2 526.8h0.8v0.8h-0.8zM78.9 515.7h0.8v0.8h-0.8zM71.6 516.3h0.8v0.8h-0.8zM69.9 523.6h0.8v0.8h-0.8zM72.6 506.0h0.8v0.8h-0.8zM74.8 515.8h0.8v0.8h-0.8zM94.0 516.1h0.8v0.8h-0.8zM77.4 509.6h0.8v0.8h-0.8zM69.0 522.2h0.8v0.8h-0.8zM65.5 522.2h0.8v0.8h-0.8zM65.4 507.9h0.8v0.8h-0.8z" fill="#e08a52" fill-opacity="0.7"/></g>
<text x="7.30" y="471.40" font-size="12.5" font-weight="bold" fill="#000">C</text>
<text x="24.80" y="471.90" font-size="6.8" fill="#555" stroke="#555" stroke-width="0.1">i</text>
<text x="44.50" y="471.90" font-size="6.93" textLength="93.6" lengthAdjust="spacingAndGlyphs" fill="#231f20" stroke="#231f20" stroke-width="0.1">MEP specific regions (n = 3469)</text>
<text x="170.80" y="471.40" font-size="7.14" textLength="4.53" lengthAdjust="spacingAndGlyphs" fill="#555" stroke="#555" stroke-width="0.1">iii</text>
<text x="185.20" y="471.40" font-size="6.9" font-weight="bold" fill="#000">Motif</text>
<text x="238.30" y="471.40" font-size="6.45" font-weight="bold" fill="#000">TF family</text>
<text x="329.60" y="471.90" font-size="7.19" textLength="46.07" lengthAdjust="spacingAndGlyphs" fill="#231f20" stroke="#231f20" stroke-width="0.1">other cell types</text>
<line x1="387.5" y1="471.1" x2="409.5" y2="471.1" stroke="#000" stroke-width="0.9"/>
<path d="M385.6,471.1 l3.2,-1.5 v3 z M411.4,471.1 l-3.2,-1.5 v3 z" fill="#000"/>
<text x="420.70" y="471.90" font-size="6.72" textLength="14.58" lengthAdjust="spacingAndGlyphs" fill="#231f20" stroke="#231f20" stroke-width="0.1">GMP</text>
<path d="M37.4,529.5 V541.8 H49.5" fill="none" stroke="#000" stroke-width="1"/>
<path d="M37.4,527.3 l-1.9,3.6 h3.8 z M51.6,541.8 l-3.6,-1.9 v3.8 z" fill="#000"/>
<text transform="translate(33.1,534.9) rotate(-90)" font-size="6.4" fill="#231f20" stroke="#231f20" stroke-width="0.1" textLength="22.1" lengthAdjust="spacingAndGlyphs">UMAP1</text>
<text x="38.80" y="550.80" font-size="6.4" textLength="22.6" lengthAdjust="spacingAndGlyphs" fill="#231f20" stroke="#231f20" stroke-width="0.1">UMAP2</text>
<text x="25.20" y="561.50" font-size="6.8" fill="#555" stroke="#555" stroke-width="0.1">ii</text>
<text x="44.50" y="561.60" font-size="6.93" textLength="102.83" lengthAdjust="spacingAndGlyphs" fill="#231f20" stroke="#231f20" stroke-width="0.1">MEP vs other cell types - TF bound</text>
<path d="M63.7,568.0 V646.6 H142.6" fill="none" stroke="#000" stroke-width="1.2"/>
<line x1="60.3" y1="571.5" x2="63.7" y2="571.5" stroke="#000" stroke-width="0.9"/>
<text x="57.60" y="573.80" font-size="6.4" text-anchor="end" fill="#231f20" stroke="#231f20" stroke-width="0.1">1.00</text>
<line x1="60.3" y1="589.35" x2="63.7" y2="589.35" stroke="#000" stroke-width="0.9"/>
<text x="57.60" y="591.65" font-size="6.4" text-anchor="end" fill="#231f20" stroke="#231f20" stroke-width="0.1">0.75</text>
<line x1="60.3" y1="607.2" x2="63.7" y2="607.2" stroke="#000" stroke-width="0.9"/>
<text x="57.60" y="609.50" font-size="6.4" text-anchor="end" fill="#231f20" stroke="#231f20" stroke-width="0.1">0.50</text>
<line x1="60.3" y1="625.05" x2="63.7" y2="625.05" stroke="#000" stroke-width="0.9"/>
<text x="57.60" y="627.35" font-size="6.4" text-anchor="end" fill="#231f20" stroke="#231f20" stroke-width="0.1">0.25</text>
<line x1="60.3" y1="642.9" x2="63.7" y2="642.9" stroke="#000" stroke-width="0.9"/>
<text x="57.60" y="645.20" font-size="6.4" text-anchor="end" fill="#231f20" stroke="#231f20" stroke-width="0.1">0.00</text>
<line x1="67.4" y1="646.6" x2="67.4" y2="649.5" stroke="#000" stroke-width="0.9"/>
<text x="67.40" y="658.60" font-size="6.4" text-anchor="middle" fill="#231f20" stroke="#231f20" stroke-width="0.1">1.00</text>
<line x1="85.35" y1="646.6" x2="85.35" y2="649.5" stroke="#000" stroke-width="0.9"/>
<text x="85.35" y="658.60" font-size="6.4" text-anchor="middle" fill="#231f20" stroke="#231f20" stroke-width="0.1">0.75</text>
<line x1="103.3" y1="646.6" x2="103.3" y2="649.5" stroke="#000" stroke-width="0.9"/>
<text x="103.30" y="658.60" font-size="6.4" text-anchor="middle" fill="#231f20" stroke="#231f20" stroke-width="0.1">0.50</text>
<line x1="121.25" y1="646.6" x2="121.25" y2="649.5" stroke="#000" stroke-width="0.9"/>
<text x="121.25" y="658.60" font-size="6.4" text-anchor="middle" fill="#231f20" stroke="#231f20" stroke-width="0.1">0.25</text>
<line x1="139.2" y1="646.6" x2="139.2" y2="649.5" stroke="#000" stroke-width="0.9"/>
<text x="139.20" y="658.60" font-size="6.4" text-anchor="middle" fill="#231f20" stroke="#231f20" stroke-width="0.1">0.00</text>
<line x1="67.4" y1="642.9" x2="139.2" y2="571.5" stroke="#c8c8c8" stroke-width="0.8"/>
<path d="M67.5,642.9 V579.2 C67.5,574.9 69,572.9 72.5,572.3 C78,571.7 90,571.55 139.2,571.5" fill="none" stroke="#000" stroke-width="1.25"/>
<text x="103.40" y="670.60" font-size="8.4" text-anchor="middle" textLength="31.2" lengthAdjust="spacingAndGlyphs" fill="#231f20" stroke="#231f20" stroke-width="0.1">Specificity</text>
<text transform="translate(38.3,607.2) rotate(-90)" font-size="8.4" text-anchor="middle" fill="#231f20" stroke="#231f20" stroke-width="0.1" textLength="31.2" lengthAdjust="spacingAndGlyphs">Sensitivity</text>
<text x="140.80" y="623.20" font-size="6.93" text-anchor="end" textLength="37.79" lengthAdjust="spacingAndGlyphs" fill="#231f20" stroke="#231f20" stroke-width="0.1">AUC: 0.9954</text>
<text x="140.80" y="631.30" font-size="6.93" text-anchor="end" textLength="50.99" lengthAdjust="spacingAndGlyphs" fill="#231f20" stroke="#231f20" stroke-width="0.1">Accuracy: 0.9676</text>
<text x="140.80" y="639.20" font-size="6.93" text-anchor="end" textLength="49.52" lengthAdjust="spacingAndGlyphs" fill="#231f20" stroke="#231f20" stroke-width="0.1">F1 score: 0.9674</text>
<text x="242.90" y="497.80" font-size="6.9" textLength="17.5" lengthAdjust="spacingAndGlyphs" fill="#231f20" stroke="#231f20" stroke-width="0.1">GATA</text>
<text x="242.90" y="511.96" font-size="6.9" textLength="28.4" lengthAdjust="spacingAndGlyphs" fill="#231f20" stroke="#231f20" stroke-width="0.1">Unknown</text>
<text x="242.90" y="526.12" font-size="6.9" textLength="9.6" lengthAdjust="spacingAndGlyphs" fill="#231f20" stroke="#231f20" stroke-width="0.1">Ets</text>
<text x="242.90" y="540.28" font-size="6.9" textLength="28.4" lengthAdjust="spacingAndGlyphs" fill="#231f20" stroke="#231f20" stroke-width="0.1">Unknown</text>
<text x="242.90" y="554.44" font-size="6.9" textLength="9.6" lengthAdjust="spacingAndGlyphs" fill="#231f20" stroke="#231f20" stroke-width="0.1">Ets</text>
<text x="242.90" y="568.60" font-size="6.9" textLength="19.099999999999998" lengthAdjust="spacingAndGlyphs" fill="#231f20" stroke="#231f20" stroke-width="0.1">Mixed</text>
<text x="242.90" y="582.76" font-size="6.9" textLength="44.8" lengthAdjust="spacingAndGlyphs" fill="#231f20" stroke="#231f20" stroke-width="0.1">Homeodomain</text>
<text x="242.90" y="596.92" font-size="6.9" textLength="28.4" lengthAdjust="spacingAndGlyphs" fill="#231f20" stroke="#231f20" stroke-width="0.1">Unknown</text>
<text x="242.90" y="611.08" font-size="6.9" textLength="32.5" lengthAdjust="spacingAndGlyphs" fill="#231f20" stroke="#231f20" stroke-width="0.1">Paired box</text>
<text x="242.90" y="625.24" font-size="6.9" textLength="9.1" lengthAdjust="spacingAndGlyphs" fill="#231f20" stroke="#231f20" stroke-width="0.1">IRF</text>
<text x="242.90" y="639.40" font-size="6.9" textLength="28.4" lengthAdjust="spacingAndGlyphs" fill="#231f20" stroke="#231f20" stroke-width="0.1">Unknown</text>
<text x="242.90" y="653.56" font-size="6.9" textLength="17.5" lengthAdjust="spacingAndGlyphs" fill="#231f20" stroke="#231f20" stroke-width="0.1">GATA</text>
<line x1="295" y1="659.3" x2="502.7" y2="659.3" stroke="#000" stroke-width="1.1"/>
<line x1="301.40" y1="659.3" x2="301.40" y2="662.3" stroke="#000" stroke-width="0.9"/>
<text x="301.10" y="670.90" font-size="6.4" text-anchor="middle" fill="#231f20" stroke="#231f20" stroke-width="0.1">−3</text>
<line x1="332.50" y1="659.3" x2="332.50" y2="662.3" stroke="#000" stroke-width="0.9"/>
<text x="332.20" y="670.90" font-size="6.4" text-anchor="middle" fill="#231f20" stroke="#231f20" stroke-width="0.1">−2</text>
<line x1="363.50" y1="659.3" x2="363.50" y2="662.3" stroke="#000" stroke-width="0.9"/>
<text x="363.20" y="670.90" font-size="6.4" text-anchor="middle" fill="#231f20" stroke="#231f20" stroke-width="0.1">−1</text>
<line x1="398.80" y1="659.3" x2="398.80" y2="662.3" stroke="#000" stroke-width="0.9"/>
<text x="398.80" y="670.90" font-size="6.4" text-anchor="middle" fill="#231f20" stroke="#231f20" stroke-width="0.1">0</text>
<line x1="434.20" y1="659.3" x2="434.20" y2="662.3" stroke="#000" stroke-width="0.9"/>
<text x="434.20" y="670.90" font-size="6.4" text-anchor="middle" fill="#231f20" stroke="#231f20" stroke-width="0.1">1</text>
<line x1="465.30" y1="659.3" x2="465.30" y2="662.3" stroke="#000" stroke-width="0.9"/>
<text x="465.30" y="670.90" font-size="6.4" text-anchor="middle" fill="#231f20" stroke="#231f20" stroke-width="0.1">2</text>
<line x1="496.60" y1="659.3" x2="496.60" y2="662.3" stroke="#000" stroke-width="0.9"/>
<text x="496.60" y="670.90" font-size="6.4" text-anchor="middle" fill="#231f20" stroke="#231f20" stroke-width="0.1">3</text>
<text x="398.80" y="683.80" font-size="8.4" text-anchor="middle" textLength="35.7" lengthAdjust="spacingAndGlyphs" fill="#231f20" stroke="#231f20" stroke-width="0.1">SHAP value</text>
<defs><linearGradient id="cbC" x1="0" y1="0" x2="0" y2="1"><stop offset="0" stop-color="#d0104c"/><stop offset="0.5" stop-color="#7b3a98"/><stop offset="1" stop-color="#5a80cc"/></linearGradient></defs>
<rect x="503.8" y="530.5" width="4.1" height="88.6" fill="url(#cbC)"/>
<text x="506.20" y="526.10" font-size="7.04" text-anchor="middle" textLength="13.78" lengthAdjust="spacingAndGlyphs" fill="#231f20" stroke="#231f20" stroke-width="0.1">High</text>
<text x="506.00" y="628.40" font-size="6.93" text-anchor="middle" textLength="12.11" lengthAdjust="spacingAndGlyphs" fill="#231f20" stroke="#231f20" stroke-width="0.1">Low</text>
<text transform="translate(498.8,575.2) rotate(-90)" font-size="6.65" text-anchor="middle" fill="#231f20" stroke="#231f20" stroke-width="0.1">Feature value</text>
<path d="M378.30,494.50C378.30,493.81 378.49,492.51 378.70,491.90C378.91,491.29 379.46,490.31 379.90,489.90C380.34,489.49 381.39,488.98 382.00,488.80C382.61,488.62 383.83,488.52 384.50,488.55C385.17,488.58 386.40,488.78 387.00,489.00C387.60,489.22 388.53,489.81 389.00,490.20C389.47,490.59 390.10,491.49 390.50,491.90C390.90,492.31 391.55,492.95 392.00,493.30C392.45,493.65 393.90,494.18 393.90,494.50C393.90,494.82 392.45,495.35 392.00,495.70C391.55,496.05 390.90,496.69 390.50,497.10C390.10,497.51 389.47,498.41 389.00,498.80C388.53,499.19 387.60,499.78 387.00,500.00C386.40,500.22 385.17,500.42 384.50,500.45C383.83,500.48 382.61,500.38 382.00,500.20C381.39,500.02 380.34,499.51 379.90,499.10C379.46,498.69 378.91,497.71 378.70,497.10C378.49,496.49 378.30,495.19 378.30,494.50Z" fill="#5b7fcb"/>
<path d="M422.65,494.50H457.05" stroke="#c8104c" stroke-width="1.70" stroke-linecap="round"/><path d="M424.53,494.50C428.40,493.60 433.81,492.50 440.00,492.50C446.09,492.50 451.41,493.60 455.21,494.50C451.41,495.40 446.09,496.50 440.00,496.50C433.81,496.50 428.40,495.40 424.53,494.50Z" fill="#c8104c"/>
<path d="M332.26,508.61H331.54" stroke="#c8104c" stroke-width="1.9" stroke-linecap="round"/>
<path d="M333.90,508.61H371.40" stroke="#c8104c" stroke-width="1.80" stroke-linecap="round"/><path d="M335.55,508.61C339.16,508.03 344.22,507.31 350.00,507.31C357.58,507.31 364.22,508.03 368.95,508.61C364.22,509.19 357.58,509.91 350.00,509.91C344.22,509.91 339.16,509.19 335.55,508.61Z" fill="#c8104c"/>
<path d="M400.10,508.61C400.82,504.83 402.38,502.61 403.80,502.61C404.80,502.61 405.89,504.83 406.40,508.61C405.89,512.39 404.80,514.61 403.80,514.61C402.38,514.61 400.82,512.39 400.10,508.61Z" fill="#5b7fcb"/>
<path d="M369.35,522.72H390.55" stroke="#c8104c" stroke-width="1.70" stroke-linecap="round"/><path d="M370.23,522.72C372.67,521.82 376.09,520.72 380.00,520.72C383.88,520.72 387.27,521.82 389.69,522.72C387.27,523.62 383.88,524.72 380.00,524.72C376.09,524.72 372.67,523.62 370.23,522.72Z" fill="#c8104c"/>
<path d="M401.00,522.72C401.86,520.02 403.75,516.72 404.80,516.72C406.12,516.72 408.52,520.02 409.60,522.72C408.52,525.42 406.12,528.72 404.80,528.72C403.75,528.72 401.86,525.42 401.00,522.72Z" fill="#5b7fcb"/>
<path d="M371.15,536.83H392.75" stroke="#c8104c" stroke-width="1.70" stroke-linecap="round"/><path d="M371.91,536.83C374.18,535.93 377.36,534.83 381.00,534.83C385.28,534.83 389.03,535.93 391.71,536.83C389.03,537.73 385.28,538.83 381.00,538.83C377.36,538.83 374.18,537.73 371.91,536.83Z" fill="#c8104c"/>
<path d="M400.50,536.83C401.40,534.13 403.40,530.83 404.50,530.83C405.74,530.83 407.99,534.13 409.00,536.83C407.99,539.53 405.74,542.83 404.50,542.83C403.40,542.83 401.40,539.53 400.50,536.83Z" fill="#5b7fcb"/>
<path d="M377.05,550.94H393.85" stroke="#9c1a78" stroke-width="1.70" stroke-linecap="round"/><path d="M377.44,550.94C379.21,549.95 381.68,548.74 384.50,548.74C387.97,548.74 391.00,549.95 393.17,550.94C391.00,551.93 387.97,553.14 384.50,553.14C381.68,553.14 379.21,551.93 377.44,550.94Z" fill="#9c1a78"/>
<path d="M400.90,550.94C401.82,548.24 403.87,544.94 405.00,544.94C406.46,544.94 409.11,548.24 410.30,550.94C409.11,553.64 406.46,556.94 405.00,556.94C403.87,556.94 401.82,553.64 400.90,550.94Z" fill="#5b7fcb"/>
<path d="M390.80,565.05C391.42,561.27 392.77,559.05 394.00,559.05C395.15,559.05 396.42,561.27 397.00,565.05C396.42,568.83 395.15,571.05 394.00,571.05C392.77,571.05 391.42,568.83 390.80,565.05Z" fill="#5b7fcb"/>
<path d="M410.36,565.05H409.54" stroke="#c8104c" stroke-width="1.9" stroke-linecap="round"/>
<path d="M413.40,565.05H433.70" stroke="#c8104c" stroke-width="1.80" stroke-linecap="round"/><path d="M414.07,565.05C416.31,564.38 419.43,563.55 423.00,563.55C426.94,563.55 430.39,564.38 432.86,565.05C430.39,565.72 426.94,566.55 423.00,566.55C419.43,566.55 416.31,565.72 414.07,565.05Z" fill="#c8104c"/>
<path d="M391.40,579.16C392.00,575.25 393.31,572.96 394.50,572.96C395.65,572.96 396.92,575.25 397.50,579.16C396.92,583.07 395.65,585.36 394.50,585.36C393.31,585.36 392.00,583.07 391.40,579.16Z" fill="#5b7fcb"/>
<path d="M421.76,579.16H421.04" stroke="#c8104c" stroke-width="1.9" stroke-linecap="round"/>
<path d="M423.70,579.16H459.90" stroke="#c8104c" stroke-width="1.80" stroke-linecap="round"/><path d="M425.38,579.16C429.03,578.53 434.15,577.76 440.00,577.76C447.07,577.76 453.26,578.53 457.68,579.16C453.26,579.79 447.07,580.56 440.00,580.56C434.15,580.56 429.03,579.79 425.38,579.16Z" fill="#c8104c"/>
<path d="M387.50,593.27C388.62,590.57 391.12,587.27 392.50,587.27C393.82,587.27 396.22,590.57 397.30,593.27C396.22,595.97 393.82,599.27 392.50,599.27C391.12,599.27 388.62,595.97 387.50,593.27Z" fill="#5b7fcb"/>
<path d="M401.20,593.27C402.55,592.24 405.63,589.47 406.50,589.47C407.99,589.47 413.20,592.24 415.50,593.27C413.20,594.30 407.99,597.07 406.50,597.07C405.63,597.07 402.55,594.30 401.20,593.27Z" fill="#7e3090"/>
<path d="M390.10,607.38C391.04,605.26 393.14,601.48 394.00,601.48C394.73,601.48 396.51,605.26 397.30,607.38C396.51,609.50 394.73,613.28 394.00,613.28C393.14,613.28 391.04,609.50 390.10,607.38Z" fill="#5b7fcb"/>
<path d="M403.85,607.38H417.85" stroke="#b0166a" stroke-width="1.70" stroke-linecap="round"/><path d="M404.05,607.38C405.54,606.48 407.62,605.38 410.00,605.38C412.96,605.38 415.55,606.48 417.39,607.38C415.55,608.28 412.96,609.38 410.00,609.38C407.62,609.38 405.54,608.28 404.05,607.38Z" fill="#b0166a"/>
<path d="M376.65,621.49H391.85" stroke="#9c1a78" stroke-width="1.70" stroke-linecap="round"/><path d="M377.03,621.49C378.77,620.50 381.21,619.29 384.00,619.29C386.96,619.29 389.55,620.50 391.39,621.49C389.55,622.48 386.96,623.69 384.00,623.69C381.21,623.69 378.77,622.48 377.03,621.49Z" fill="#9c1a78"/>
<path d="M390.85,621.49H398.15" stroke="#3f4f9a" stroke-width="1.70" stroke-linecap="round"/><path d="M390.75,621.49C391.81,620.59 393.30,619.49 395.00,619.49C396.36,619.49 397.55,620.59 398.40,621.49C397.55,622.39 396.36,623.49 395.00,623.49C393.30,623.49 391.81,622.39 390.75,621.49Z" fill="#3f4f9a"/>
<path d="M400.10,621.49C401.09,618.84 403.29,615.59 404.50,615.59C406.37,615.59 409.77,618.84 411.30,621.49C409.77,624.14 406.37,627.39 404.50,627.39C403.29,627.39 401.09,624.14 400.10,621.49Z" fill="#5b7fcb"/>
<path d="M374.75,635.60H393.55" stroke="#862688" stroke-width="1.70" stroke-linecap="round"/><path d="M375.41,635.60C377.56,634.84 380.57,633.90 384.00,633.90C387.54,633.90 390.63,634.84 392.84,635.60C390.63,636.37 387.54,637.30 384.00,637.30C380.57,637.30 377.56,636.37 375.41,635.60Z" fill="#862688"/>
<path d="M400.10,635.60C400.76,631.95 402.19,629.80 403.50,629.80C404.85,629.80 406.32,631.95 407.00,635.60C406.32,639.25 404.85,641.40 403.50,641.40C402.19,641.40 400.76,639.25 400.10,635.60Z" fill="#5b7fcb"/>
<path d="M392.00,649.71C392.59,646.47 393.88,643.71 394.80,643.71C395.62,643.71 396.78,646.47 397.30,649.71C396.78,652.95 395.62,655.71 394.80,655.71C393.88,655.71 392.59,652.95 392.00,649.71Z" fill="#5b7fcb"/>
<path d="M409.15,649.71H426.25" stroke="#c8104c" stroke-width="1.70" stroke-linecap="round"/><path d="M409.68,649.71C411.63,648.86 414.37,647.81 417.50,647.81C420.76,647.81 423.62,648.86 425.66,649.71C423.62,650.57 420.76,651.61 417.50,651.61C414.37,651.61 411.63,650.57 409.68,649.71Z" fill="#c8104c"/>
<line x1="398.9" y1="482.90000000000003" x2="398.9" y2="659.3" stroke="#2e2e2e" stroke-width="1.35"/>
<g font-family="Liberation Sans" font-weight="bold" font-size="100" stroke-width="0.35">
<text transform="translate(179.31,501.75) scale(0.0437,0.1564)" fill="#D62839" stroke="#D62839" vector-effect="non-scaling-stroke">T</text>
<text transform="translate(182.19,501.75) scale(0.0437,0.1886)" fill="#D62839" stroke="#D62839" vector-effect="non-scaling-stroke">T</text>
<text transform="translate(184.99,501.75) scale(0.0391,0.1386)" fill="#109648" stroke="#109648" vector-effect="non-scaling-stroke">A</text>
<text transform="translate(187.95,501.75) scale(0.0437,0.1886)" fill="#D62839" stroke="#D62839" vector-effect="non-scaling-stroke">T</text>
<text transform="translate(190.71,501.75) scale(0.0397,0.1743)" fill="#22529a" stroke="#22529a" vector-effect="non-scaling-stroke">C</text>
<text transform="translate(193.71,501.75) scale(0.0437,0.0671)" fill="#D62839" stroke="#D62839" vector-effect="non-scaling-stroke">T</text>
<text transform="translate(196.59,501.75) scale(0.0437,0.0314)" fill="#D62839" stroke="#D62839" vector-effect="non-scaling-stroke">T</text>
<rect x="199.96" y="500.90" width="1.68" height="0.8" fill="#109648"/>
<rect x="202.84" y="500.90" width="1.68" height="0.8" fill="#22529a"/>
<rect x="205.72" y="500.90" width="1.68" height="0.8" fill="#109648"/>
<rect x="208.60" y="500.90" width="1.68" height="0.8" fill="#22529a"/>
<rect x="211.48" y="500.90" width="1.68" height="0.8" fill="#109648"/>
<text transform="translate(213.75,501.75) scale(0.0397,0.0493)" fill="#22529a" stroke="#22529a" vector-effect="non-scaling-stroke">C</text>
<text transform="translate(216.63,501.75) scale(0.0397,0.1207)" fill="#22529a" stroke="#22529a" vector-effect="non-scaling-stroke">C</text>
<text transform="translate(219.55,501.75) scale(0.0391,0.1207)" fill="#109648" stroke="#109648" vector-effect="non-scaling-stroke">A</text>
<text transform="translate(179.20,515.80) scale(0.0382,0.1886)" fill="#22529a" stroke="#22529a" vector-effect="non-scaling-stroke">C</text>
<text transform="translate(182.09,515.80) scale(0.0420,0.1386)" fill="#D62839" stroke="#D62839" vector-effect="non-scaling-stroke">T</text>
<text transform="translate(184.87,515.80) scale(0.0420,0.1564)" fill="#D62839" stroke="#D62839" vector-effect="non-scaling-stroke">T</text>
<text transform="translate(187.54,515.80) scale(0.0382,0.1564)" fill="#22529a" stroke="#22529a" vector-effect="non-scaling-stroke">C</text>
<text transform="translate(190.32,515.80) scale(0.0382,0.1564)" fill="#22529a" stroke="#22529a" vector-effect="non-scaling-stroke">C</text>
<text transform="translate(193.10,515.80) scale(0.0382,0.1386)" fill="#22529a" stroke="#22529a" vector-effect="non-scaling-stroke">C</text>
<text transform="translate(195.88,515.80) scale(0.0382,0.1386)" fill="#22529a" stroke="#22529a" vector-effect="non-scaling-stroke">C</text>
<text transform="translate(198.66,515.80) scale(0.0382,0.1029)" fill="#22529a" stroke="#22529a" vector-effect="non-scaling-stroke">C</text>
<text transform="translate(201.44,515.80) scale(0.0382,0.0671)" fill="#22529a" stroke="#22529a" vector-effect="non-scaling-stroke">C</text>
<text transform="translate(204.22,515.80) scale(0.0365,0.0493)" fill="#F5B02B" stroke="#F5B02B" vector-effect="non-scaling-stroke">G</text>
<text transform="translate(179.20,529.85) scale(0.0387,0.1029)" fill="#F5B02B" stroke="#F5B02B" vector-effect="non-scaling-stroke">G</text>
<text transform="translate(182.12,529.85) scale(0.0405,0.0493)" fill="#22529a" stroke="#22529a" vector-effect="non-scaling-stroke">C</text>
<text transform="translate(185.10,529.85) scale(0.0399,0.0493)" fill="#109648" stroke="#109648" vector-effect="non-scaling-stroke">A</text>
<text transform="translate(188.00,529.85) scale(0.0387,0.0671)" fill="#F5B02B" stroke="#F5B02B" vector-effect="non-scaling-stroke">G</text>
<text transform="translate(190.96,529.85) scale(0.0399,0.0671)" fill="#109648" stroke="#109648" vector-effect="non-scaling-stroke">A</text>
<text transform="translate(193.85,529.85) scale(0.0405,0.1743)" fill="#22529a" stroke="#22529a" vector-effect="non-scaling-stroke">C</text>
<text transform="translate(196.83,529.85) scale(0.0399,0.1564)" fill="#109648" stroke="#109648" vector-effect="non-scaling-stroke">A</text>
<text transform="translate(199.73,529.85) scale(0.0387,0.1886)" fill="#F5B02B" stroke="#F5B02B" vector-effect="non-scaling-stroke">G</text>
<text transform="translate(202.66,529.85) scale(0.0387,0.1743)" fill="#F5B02B" stroke="#F5B02B" vector-effect="non-scaling-stroke">G</text>
<text transform="translate(205.63,529.85) scale(0.0399,0.1564)" fill="#109648" stroke="#109648" vector-effect="non-scaling-stroke">A</text>
<text transform="translate(208.56,529.85) scale(0.0399,0.1207)" fill="#109648" stroke="#109648" vector-effect="non-scaling-stroke">A</text>
<text transform="translate(211.57,529.85) scale(0.0446,0.1207)" fill="#D62839" stroke="#D62839" vector-effect="non-scaling-stroke">T</text>
<text transform="translate(179.23,543.90) scale(0.0410,0.1564)" fill="#109648" stroke="#109648" vector-effect="non-scaling-stroke">A</text>
<text transform="translate(182.20,543.90) scale(0.0398,0.1564)" fill="#F5B02B" stroke="#F5B02B" vector-effect="non-scaling-stroke">G</text>
<text transform="translate(185.21,543.90) scale(0.0398,0.1564)" fill="#F5B02B" stroke="#F5B02B" vector-effect="non-scaling-stroke">G</text>
<text transform="translate(188.25,543.90) scale(0.0410,0.1564)" fill="#109648" stroke="#109648" vector-effect="non-scaling-stroke">A</text>
<text transform="translate(191.26,543.90) scale(0.0410,0.1029)" fill="#109648" stroke="#109648" vector-effect="non-scaling-stroke">A</text>
<text transform="translate(194.23,543.90) scale(0.0417,0.1886)" fill="#22529a" stroke="#22529a" vector-effect="non-scaling-stroke">C</text>
<text transform="translate(197.28,543.90) scale(0.0410,0.1386)" fill="#109648" stroke="#109648" vector-effect="non-scaling-stroke">A</text>
<text transform="translate(200.25,543.90) scale(0.0398,0.0493)" fill="#F5B02B" stroke="#F5B02B" vector-effect="non-scaling-stroke">G</text>
<text transform="translate(203.26,543.90) scale(0.0417,0.0850)" fill="#22529a" stroke="#22529a" vector-effect="non-scaling-stroke">C</text>
<text transform="translate(206.39,543.90) scale(0.0459,0.1386)" fill="#D62839" stroke="#D62839" vector-effect="non-scaling-stroke">T</text>
<text transform="translate(209.28,543.90) scale(0.0398,0.1296)" fill="#F5B02B" stroke="#F5B02B" vector-effect="non-scaling-stroke">G</text>
<text transform="translate(179.23,557.95) scale(0.0402,0.1564)" fill="#109648" stroke="#109648" vector-effect="non-scaling-stroke">A</text>
<text transform="translate(182.18,557.95) scale(0.0402,0.1564)" fill="#109648" stroke="#109648" vector-effect="non-scaling-stroke">A</text>
<text transform="translate(185.14,557.95) scale(0.0402,0.1386)" fill="#109648" stroke="#109648" vector-effect="non-scaling-stroke">A</text>
<text transform="translate(188.09,557.95) scale(0.0402,0.1207)" fill="#109648" stroke="#109648" vector-effect="non-scaling-stroke">A</text>
<text transform="translate(191.00,557.95) scale(0.0408,0.0671)" fill="#22529a" stroke="#22529a" vector-effect="non-scaling-stroke">C</text>
<text transform="translate(193.97,557.95) scale(0.0390,0.1564)" fill="#F5B02B" stroke="#F5B02B" vector-effect="non-scaling-stroke">G</text>
<text transform="translate(196.92,557.95) scale(0.0390,0.1743)" fill="#F5B02B" stroke="#F5B02B" vector-effect="non-scaling-stroke">G</text>
<text transform="translate(199.91,557.95) scale(0.0402,0.1564)" fill="#109648" stroke="#109648" vector-effect="non-scaling-stroke">A</text>
<text transform="translate(202.87,557.95) scale(0.0402,0.1386)" fill="#109648" stroke="#109648" vector-effect="non-scaling-stroke">A</text>
<text transform="translate(205.78,557.95) scale(0.0390,0.1207)" fill="#F5B02B" stroke="#F5B02B" vector-effect="non-scaling-stroke">G</text>
<text transform="translate(208.85,557.95) scale(0.0450,0.1886)" fill="#D62839" stroke="#D62839" vector-effect="non-scaling-stroke">T</text>
<text transform="translate(179.22,572.00) scale(0.0426,0.0493)" fill="#109648" stroke="#109648" vector-effect="non-scaling-stroke">A</text>
<text transform="translate(182.34,572.00) scale(0.0426,0.0850)" fill="#109648" stroke="#109648" vector-effect="non-scaling-stroke">A</text>
<text transform="translate(185.41,572.00) scale(0.0414,0.1386)" fill="#F5B02B" stroke="#F5B02B" vector-effect="non-scaling-stroke">G</text>
<text transform="translate(188.56,572.00) scale(0.0426,0.1886)" fill="#109648" stroke="#109648" vector-effect="non-scaling-stroke">A</text>
<text transform="translate(191.76,572.00) scale(0.0477,0.1207)" fill="#D62839" stroke="#D62839" vector-effect="non-scaling-stroke">T</text>
<text transform="translate(194.79,572.00) scale(0.0426,0.1564)" fill="#109648" stroke="#109648" vector-effect="non-scaling-stroke">A</text>
<text transform="translate(197.91,572.00) scale(0.0426,0.1564)" fill="#109648" stroke="#109648" vector-effect="non-scaling-stroke">A</text>
<text transform="translate(179.31,586.05) scale(0.0411,0.0671)" fill="#D62839" stroke="#D62839" vector-effect="non-scaling-stroke">T</text>
<text transform="translate(181.93,586.05) scale(0.0373,0.1029)" fill="#22529a" stroke="#22529a" vector-effect="non-scaling-stroke">C</text>
<text transform="translate(184.76,586.05) scale(0.0411,0.1886)" fill="#D62839" stroke="#D62839" vector-effect="non-scaling-stroke">T</text>
<text transform="translate(187.48,586.05) scale(0.0411,0.1564)" fill="#D62839" stroke="#D62839" vector-effect="non-scaling-stroke">T</text>
<text transform="translate(190.14,586.05) scale(0.0367,0.1386)" fill="#109648" stroke="#109648" vector-effect="non-scaling-stroke">A</text>
<text transform="translate(192.93,586.05) scale(0.0411,0.1564)" fill="#D62839" stroke="#D62839" vector-effect="non-scaling-stroke">T</text>
<text transform="translate(195.55,586.05) scale(0.0373,0.1386)" fill="#22529a" stroke="#22529a" vector-effect="non-scaling-stroke">C</text>
<text transform="translate(198.31,586.05) scale(0.0367,0.1386)" fill="#109648" stroke="#109648" vector-effect="non-scaling-stroke">A</text>
<text transform="translate(179.20,600.10) scale(0.0379,0.1386)" fill="#F5B02B" stroke="#F5B02B" vector-effect="non-scaling-stroke">G</text>
<text transform="translate(182.11,600.10) scale(0.0391,0.1029)" fill="#109648" stroke="#109648" vector-effect="non-scaling-stroke">A</text>
<text transform="translate(184.99,600.10) scale(0.0391,0.1029)" fill="#109648" stroke="#109648" vector-effect="non-scaling-stroke">A</text>
<text transform="translate(187.83,600.10) scale(0.0379,0.1207)" fill="#F5B02B" stroke="#F5B02B" vector-effect="non-scaling-stroke">G</text>
<text transform="translate(190.74,600.10) scale(0.0391,0.1029)" fill="#109648" stroke="#109648" vector-effect="non-scaling-stroke">A</text>
<text transform="translate(193.58,600.10) scale(0.0397,0.0493)" fill="#22529a" stroke="#22529a" vector-effect="non-scaling-stroke">C</text>
<rect x="197.07" y="599.25" width="1.68" height="0.8" fill="#109648"/>
<text transform="translate(199.34,600.10) scale(0.0379,0.1207)" fill="#F5B02B" stroke="#F5B02B" vector-effect="non-scaling-stroke">G</text>
<text transform="translate(202.22,600.10) scale(0.0379,0.1386)" fill="#F5B02B" stroke="#F5B02B" vector-effect="non-scaling-stroke">G</text>
<text transform="translate(205.10,600.10) scale(0.0379,0.1564)" fill="#F5B02B" stroke="#F5B02B" vector-effect="non-scaling-stroke">G</text>
<text transform="translate(208.01,600.10) scale(0.0391,0.1564)" fill="#109648" stroke="#109648" vector-effect="non-scaling-stroke">A</text>
<text transform="translate(210.85,600.10) scale(0.0379,0.1564)" fill="#F5B02B" stroke="#F5B02B" vector-effect="non-scaling-stroke">G</text>
<text transform="translate(213.77,600.10) scale(0.0391,0.1207)" fill="#109648" stroke="#109648" vector-effect="non-scaling-stroke">A</text>
<text transform="translate(216.61,600.10) scale(0.0379,0.1386)" fill="#F5B02B" stroke="#F5B02B" vector-effect="non-scaling-stroke">G</text>
<text transform="translate(219.52,600.10) scale(0.0391,0.1207)" fill="#109648" stroke="#109648" vector-effect="non-scaling-stroke">A</text>
<text transform="translate(222.37,600.10) scale(0.0379,0.1207)" fill="#F5B02B" stroke="#F5B02B" vector-effect="non-scaling-stroke">G</text>
<text transform="translate(225.28,600.10) scale(0.0391,0.1029)" fill="#109648" stroke="#109648" vector-effect="non-scaling-stroke">A</text>
<text transform="translate(228.12,600.10) scale(0.0379,0.1386)" fill="#F5B02B" stroke="#F5B02B" vector-effect="non-scaling-stroke">G</text>
<text transform="translate(179.20,614.15) scale(0.0371,0.1564)" fill="#22529a" stroke="#22529a" vector-effect="non-scaling-stroke">C</text>
<text transform="translate(181.95,614.15) scale(0.0365,0.1029)" fill="#109648" stroke="#109648" vector-effect="non-scaling-stroke">A</text>
<text transform="translate(184.62,614.15) scale(0.0371,0.1207)" fill="#22529a" stroke="#22529a" vector-effect="non-scaling-stroke">C</text>
<text transform="translate(187.44,614.15) scale(0.0408,0.1386)" fill="#D62839" stroke="#D62839" vector-effect="non-scaling-stroke">T</text>
<text transform="translate(190.15,614.15) scale(0.0408,0.1743)" fill="#D62839" stroke="#D62839" vector-effect="non-scaling-stroke">T</text>
<text transform="translate(192.75,614.15) scale(0.0371,0.1743)" fill="#22529a" stroke="#22529a" vector-effect="non-scaling-stroke">C</text>
<text transform="translate(195.46,614.15) scale(0.0371,0.1564)" fill="#22529a" stroke="#22529a" vector-effect="non-scaling-stroke">C</text>
<text transform="translate(198.28,614.15) scale(0.0408,0.1029)" fill="#D62839" stroke="#D62839" vector-effect="non-scaling-stroke">T</text>
<text transform="translate(200.88,614.15) scale(0.0371,0.0850)" fill="#22529a" stroke="#22529a" vector-effect="non-scaling-stroke">C</text>
<text transform="translate(203.70,614.15) scale(0.0408,0.1207)" fill="#D62839" stroke="#D62839" vector-effect="non-scaling-stroke">T</text>
<text transform="translate(179.23,628.20) scale(0.0406,0.0850)" fill="#109648" stroke="#109648" vector-effect="non-scaling-stroke">A</text>
<text transform="translate(182.20,628.20) scale(0.0406,0.0850)" fill="#109648" stroke="#109648" vector-effect="non-scaling-stroke">A</text>
<text transform="translate(185.18,628.20) scale(0.0406,0.0671)" fill="#109648" stroke="#109648" vector-effect="non-scaling-stroke">A</text>
<text transform="translate(188.11,628.20) scale(0.0412,0.0314)" fill="#22529a" stroke="#22529a" vector-effect="non-scaling-stroke">C</text>
<text transform="translate(191.10,628.20) scale(0.0394,0.0671)" fill="#F5B02B" stroke="#F5B02B" vector-effect="non-scaling-stroke">G</text>
<text transform="translate(194.11,628.20) scale(0.0406,0.1386)" fill="#109648" stroke="#109648" vector-effect="non-scaling-stroke">A</text>
<text transform="translate(197.09,628.20) scale(0.0406,0.1386)" fill="#109648" stroke="#109648" vector-effect="non-scaling-stroke">A</text>
<text transform="translate(200.06,628.20) scale(0.0406,0.0850)" fill="#109648" stroke="#109648" vector-effect="non-scaling-stroke">A</text>
<text transform="translate(203.00,628.20) scale(0.0412,0.0314)" fill="#22529a" stroke="#22529a" vector-effect="non-scaling-stroke">C</text>
<text transform="translate(205.98,628.20) scale(0.0394,0.0493)" fill="#F5B02B" stroke="#F5B02B" vector-effect="non-scaling-stroke">G</text>
<text transform="translate(208.96,628.20) scale(0.0394,0.1564)" fill="#F5B02B" stroke="#F5B02B" vector-effect="non-scaling-stroke">G</text>
<text transform="translate(211.97,628.20) scale(0.0406,0.1386)" fill="#109648" stroke="#109648" vector-effect="non-scaling-stroke">A</text>
<text transform="translate(214.95,628.20) scale(0.0406,0.1207)" fill="#109648" stroke="#109648" vector-effect="non-scaling-stroke">A</text>
<text transform="translate(217.89,628.20) scale(0.0394,0.1029)" fill="#F5B02B" stroke="#F5B02B" vector-effect="non-scaling-stroke">G</text>
<text transform="translate(220.86,628.20) scale(0.0412,0.0314)" fill="#22529a" stroke="#22529a" vector-effect="non-scaling-stroke">C</text>
<text transform="translate(223.88,628.20) scale(0.0406,0.0314)" fill="#109648" stroke="#109648" vector-effect="non-scaling-stroke">A</text>
<text transform="translate(226.85,628.20) scale(0.0406,0.0671)" fill="#109648" stroke="#109648" vector-effect="non-scaling-stroke">A</text>
<text transform="translate(179.19,642.25) scale(0.0412,0.0850)" fill="#22529a" stroke="#22529a" vector-effect="non-scaling-stroke">C</text>
<text transform="translate(182.21,642.25) scale(0.0406,0.1386)" fill="#109648" stroke="#109648" vector-effect="non-scaling-stroke">A</text>
<text transform="translate(185.15,642.25) scale(0.0394,0.1386)" fill="#F5B02B" stroke="#F5B02B" vector-effect="non-scaling-stroke">G</text>
<text transform="translate(188.17,642.25) scale(0.0406,0.1386)" fill="#109648" stroke="#109648" vector-effect="non-scaling-stroke">A</text>
<text transform="translate(191.22,642.25) scale(0.0454,0.1207)" fill="#D62839" stroke="#D62839" vector-effect="non-scaling-stroke">T</text>
<text transform="translate(194.20,642.25) scale(0.0454,0.1743)" fill="#D62839" stroke="#D62839" vector-effect="non-scaling-stroke">T</text>
<text transform="translate(197.18,642.25) scale(0.0454,0.1564)" fill="#D62839" stroke="#D62839" vector-effect="non-scaling-stroke">T</text>
<text transform="translate(200.05,642.25) scale(0.0394,0.1386)" fill="#F5B02B" stroke="#F5B02B" vector-effect="non-scaling-stroke">G</text>
<text transform="translate(203.14,642.25) scale(0.0454,0.1029)" fill="#D62839" stroke="#D62839" vector-effect="non-scaling-stroke">T</text>
<text transform="translate(206.12,642.25) scale(0.0454,0.0671)" fill="#D62839" stroke="#D62839" vector-effect="non-scaling-stroke">T</text>
<text transform="translate(179.24,656.30) scale(0.0381,0.1207)" fill="#109648" stroke="#109648" vector-effect="non-scaling-stroke">A</text>
<text transform="translate(182.02,656.30) scale(0.0370,0.1207)" fill="#F5B02B" stroke="#F5B02B" vector-effect="non-scaling-stroke">G</text>
<text transform="translate(184.86,656.30) scale(0.0381,0.1386)" fill="#109648" stroke="#109648" vector-effect="non-scaling-stroke">A</text>
<text transform="translate(187.75,656.30) scale(0.0426,0.1886)" fill="#D62839" stroke="#D62839" vector-effect="non-scaling-stroke">T</text>
<text transform="translate(190.49,656.30) scale(0.0381,0.1564)" fill="#109648" stroke="#109648" vector-effect="non-scaling-stroke">A</text>
<text transform="translate(193.31,656.30) scale(0.0381,0.1564)" fill="#109648" stroke="#109648" vector-effect="non-scaling-stroke">A</text>
<text transform="translate(196.09,656.30) scale(0.0370,0.1029)" fill="#F5B02B" stroke="#F5B02B" vector-effect="non-scaling-stroke">G</text>
</g>
</svg>
</div></body></html>
